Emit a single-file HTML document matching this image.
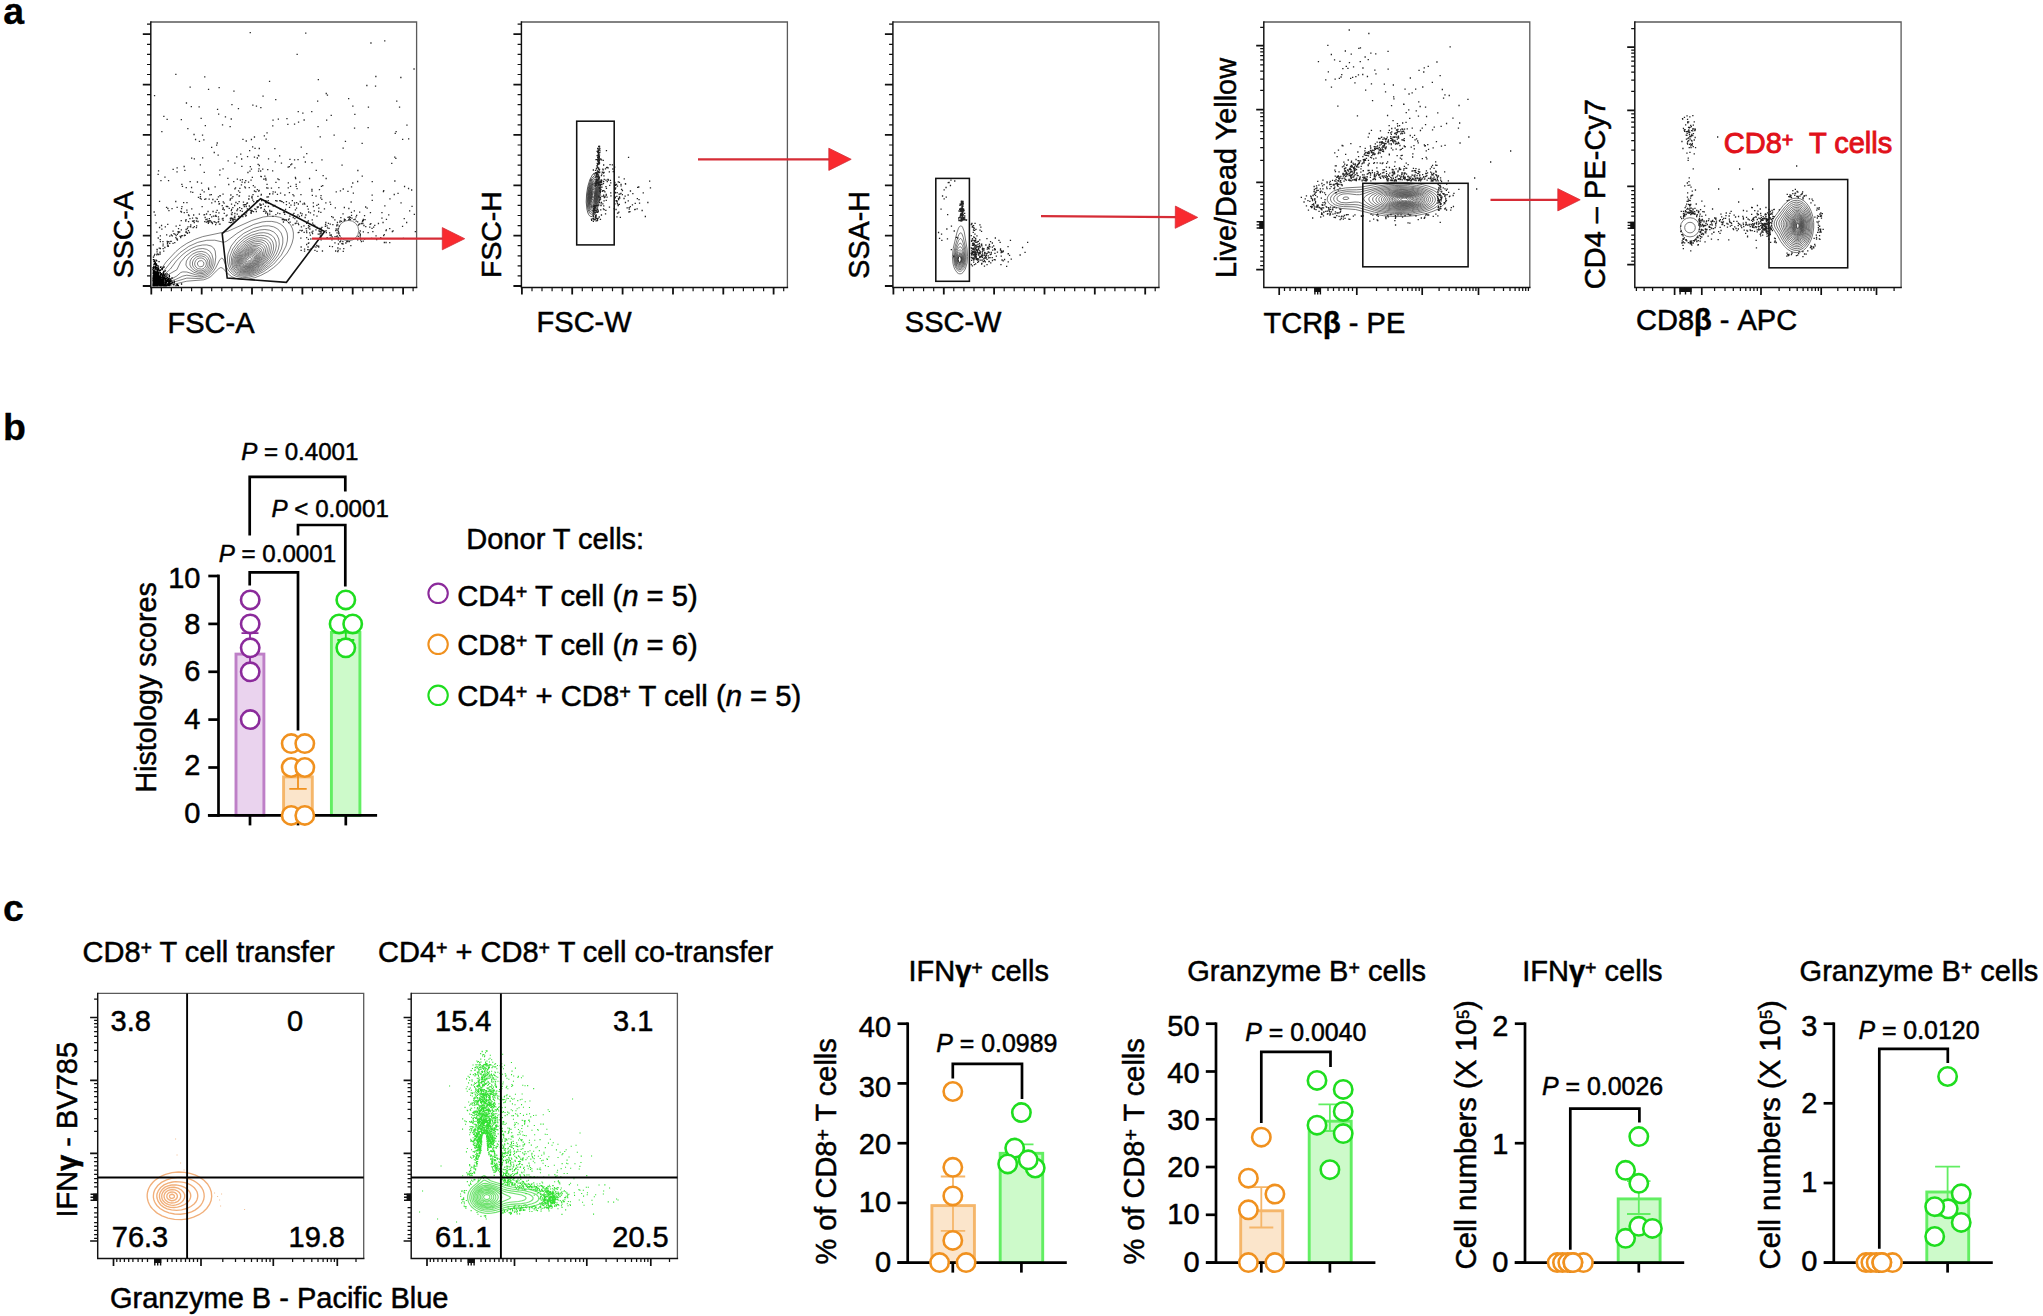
<!DOCTYPE html>
<html lang="en"><head><meta charset="utf-8"><title>Figure</title>
<style>html,body{margin:0;padding:0;background:#fff}svg{display:block}text{font-family:'Liberation Sans', sans-serif;white-space:pre}</style>
</head><body>
<svg width="2043" height="1316" viewBox="0 0 2043 1316">
<rect width="2043" height="1316" fill="#fff"/>
<text x="3.3" y="23.6" font-size="37.5" text-anchor="start" font-weight="bold" font-style="normal" fill="#000" stroke="#000" stroke-width="0.3">a</text>
<text x="3" y="439.8" font-size="37.5" text-anchor="start" font-weight="bold" font-style="normal" fill="#000" stroke="#000" stroke-width="0.3">b</text>
<text x="3" y="920.6" font-size="37.5" text-anchor="start" font-weight="bold" font-style="normal" fill="#000" stroke="#000" stroke-width="0.3">c</text>
<clipPath id="c1"><rect x="150.8" y="22" width="265.8" height="265.4"/></clipPath>
<g clip-path="url(#c1)">
<path d="M263.2 217L268.8 216.3L274.8 216.3L279.8 217.3L283.8 218.9L287.8 221.6L290.7 225L292.6 229L293.4 233L293.3 238L292.1 243L290 248L287.1 253L278.8 263L273.8 267.4L267.8 271.7L260.8 275.4L254.8 277.7L246.8 279.4L240.8 279.4L235.8 278.4L231.8 276.7L228.2 274L222.8 268.2L220.8 267.5L218.8 268.6L210.8 276.5L207.8 278.3L203.8 279.8L186.8 281.2L171.8 284.8L165.8 285.7L159.8 285.2L157.3 284L155.8 282.2L155.3 279L156.3 276L166.1 262L175.8 251.6L180.8 247.4L186.8 243.4L194.8 239.4L202.8 236.6L227.8 231.3L251.8 220.5L263.2 217M262 222L266.8 221.4L271.8 221.4L276.8 222.4L280.3 224L283 226L285.4 229L287.1 233L287.6 237L287.3 241L286 246L281.4 255L273.8 264L263.8 271.5L255.8 275.4L248.8 277.3L242.8 277.7L236.8 276.6L232.8 274.7L228.9 271L226.4 267L223.8 260.3L222.8 258.6L221.8 258.1L219.8 259.7L215.6 268L212.9 272L208.8 275.7L204.8 277.6L198.8 278.5L186.8 278.1L172.8 282.4L167.8 283.3L162.8 283L159.6 281L159 279L159.9 276L171.7 261L179.8 252.8L188.8 246.4L197.8 242.3L206.8 240.3L214.8 240.2L222.8 242.1L224.8 242L226.8 241.1L236.8 233.5L244.8 228.6L253.8 224.4L262 222M262.8 226L268.8 225.8L273.8 226.9L277.8 229L281.2 233L282.8 238L282.8 243L281.3 249L278.3 255L273.8 261L268.8 265.8L262.8 270.2L256.8 273.4L250.8 275.5L244.8 276.4L238.8 275.7L234.8 274L232.2 272L229.8 269L228.5 266L227.6 262L227.4 258L228 254L231.2 246L236.7 239L243.8 233.3L253.8 228.3L262.8 226M202.4 245L206.8 244.9L211.1 246L213.7 248L215.2 251L215.8 257L214.9 264L212.9 269L209.7 273L205.8 275.6L201.8 276.7L197.8 276.8L186.8 275.2L182.8 276.1L175.8 279.4L170.8 281L165.8 281.2L163.1 280L162.4 278L163.9 275L170.4 269L176.3 261L182.1 255L186.8 251.3L191.8 248.3L196.8 246.2L202.4 245M259.5 230L264.8 229.5L269.8 230.2L273.8 232L276.9 235L278.8 239L279.3 244L278.4 249L276.3 254L273 259L268.5 264L262.8 268.6L257.8 271.6L250.8 274.4L245.8 275.2L240.8 274.9L236.8 273.6L232.3 270L230.6 267L229.8 264L229.5 260L230 256L232.7 249L237.7 242L243.8 236.7L251.8 232.3L259.5 230M198.1 249L202.8 248.5L206.8 249.4L209.8 251.3L211.8 254.3L213.1 259L213 264L211.2 269L208.8 272L204.8 274.5L199.8 275.4L195.8 274.8L186.8 272L182.8 271.9L180.8 272.5L176.8 276L172.8 278.2L168.8 279L166.5 278L166.4 277L167.8 274.9L176.8 269.8L180.6 262L185.8 256L191.8 251.5L198.1 249M258.9 233L263.8 232.7L267.8 233.4L271.8 235.4L274.3 238L276 242L276.3 246L275.5 250L273.4 255L270.1 260L266.4 264L260.8 268.6L255.8 271.5L250.8 273.3L245.8 274.2L240.8 273.8L236.8 272.2L234.1 270L232.7 268L231.2 263L231.7 257L234.4 250L238.8 243.9L244.8 238.7L250.8 235.4L258.9 233M197 252L201.8 251.4L205.8 252.5L208.9 255L211 259L211.3 264L210.1 268L207.8 271L203.8 273.3L198.8 273.8L193.8 272.3L187.6 268L185.9 265L186.4 261L189.2 257L192.8 254L197 252M255.7 236L260.8 235.3L264.8 235.7L268.3 237L270.9 239L272.8 242L273.7 246L273.3 250L271.9 254L269.6 258L265.6 263L260.8 267.3L255.8 270.4L250.8 272.4L246.8 273.2L242.8 273.1L238.8 272L234.8 269L233.6 267L232.6 264L232.7 259L234.7 253L238.5 247L242.8 242.6L248.8 238.6L255.7 236M198.5 254L201.8 253.8L205.8 255.3L208.4 258L209.6 261L209.6 265L208.4 268L205.8 270.8L202.8 272.2L198.8 272.3L195 271L191.4 268L189.9 265L190.1 261L191.8 258L194.8 255.5L198.5 254M255.9 238L259.8 237.6L263.8 238.1L266.8 239.3L269.7 242L271.1 245L271.4 248L270.7 252L269.1 256L266.6 260L263.1 264L255.8 269.5L250.8 271.6L246.8 272.4L242.8 272.3L238.8 270.9L235.4 268L233.8 264L233.9 259L236.2 253L239.8 247.8L244.8 243.1L250.8 239.6L255.9 238M199.2 256L201.8 255.9L204.8 257.1L206.8 259L208 262L208 265L206.6 268L204.8 269.7L201.8 270.9L198.8 270.8L195.8 269.5L193.4 267L192.5 265L192.5 262L193.8 259.3L196.4 257L199.2 256M255.3 240L261.8 239.9L264.8 241L267.3 243L268.9 246L269.3 249L268.9 252L267.5 256L265.1 260L261.8 264L254.8 269.2L250.8 270.8L246.8 271.6L242.8 271.4L239.8 270.5L236.7 268L234.9 264L234.8 260L236.4 255L239.6 250L243.8 245.7L248.8 242.3L255.3 240M199.7 258L201.8 258L204 259L205.8 261L206.4 263L206.2 265L205.2 267L203.8 268.4L201.8 269.2L197.8 268.6L195.9 267L194.8 265L194.7 263L195.8 260.3L197.8 258.6L199.7 258M254.2 242L257.8 241.5L260.8 241.8L263.8 243.1L265.8 245L267.1 248L267.3 251L266.4 255L265 258L262.4 262L259.5 265L252.8 269.3L248.8 270.6L245.8 270.9L242.8 270.6L239.8 269.4L237.1 267L235.7 263L236 259L237.6 255L240.8 250.4L244.8 246.6L249.8 243.5L254.2 242M198.9 261L201.8 260.6L203.5 262L204 264L202.8 266.3L199.8 266.9L197.8 265.4L197.4 263L198.9 261M252.7 244L258.8 243.5L261.8 244.4L263.8 246L265 248L265.6 251L264.3 257L260.4 263L254.8 267.6L250.8 269.3L247.8 270L244.8 270.1L241.8 269.5L238.8 267.6L237.1 265L236.6 261L237.6 257L240 253L243.8 248.9L248.8 245.5L252.7 244M251 246L256.8 245.1L259.8 245.7L261.8 247L263.3 249L263.9 251L263.9 254L263.1 257L259.3 263L253.8 267.3L247.8 269.3L244.8 269.4L241.8 268.6L239.5 267L237.8 264L237.5 261L238.2 258L240.3 254L242.8 251.2L246.8 248.1L251 246M252.1 247L254.8 246.6L257.8 246.9L261.1 249L262.5 253L262.3 256L261.1 259L257.3 264L251.8 267.6L246.8 268.7L241.8 267.7L239.8 266L238.4 263L238.5 260L239.5 257L241.8 253.5L244.8 250.6L248.8 248.2L252.1 247M253.8 248L256.8 248.3L258.5 249L260.9 252L261.1 256L259 261L255.1 265L250.8 267.3L245.8 268L241.8 266.7L240.1 265L239.2 262L239.6 259L241 256L243.8 252.6L246.8 250.4L250.8 248.5L253.8 248M249.7 250L253.8 249.2L257.8 250.3L259.3 252L260 254L259.6 258L257.3 262L252.8 265.7L247.8 267.3L243.8 266.9L241.8 265.6L240.6 264L240 262L240.4 259L241.9 256L243.8 253.7L246.8 251.4L249.7 250M249.7 251L253.8 250.4L256.8 251.3L258.8 254L258.7 258L256.4 262L252.8 265L248.8 266.5L244.8 266.4L242.8 265.4L241.6 264L240.9 262L241.2 259L242.8 256L244.6 254L249.7 251M249.5 252L253.8 251.5L256.7 253L257.9 256L257.4 259L255.4 262L251.8 264.7L247.8 265.9L244.8 265.5L242.8 264.1L242.1 263L241.7 261L242.1 259L244.8 254.9L249.5 252M249.4 253L251.8 252.5L254.8 253.1L256.5 255L256.7 258L255.3 261L252.8 263.4L248.8 265L245.8 264.9L243.2 263L242.6 261L243 259L245.8 255.1L249.4 253M249.3 254L252.8 253.7L254.8 254.7L255.8 257L255.4 259L254.2 261L251.8 263.1L248.8 264.2L245.8 264L243.8 262L243.9 259L246 256L249.3 254M249.4 255L251.8 254.7L253.8 255.7L254.5 257L254.3 259L253.1 261L250.8 262.7L248.8 263.3L246.8 263.2L245.1 262L245 259L246.8 256.5L249.4 255M250 256L251.8 256.1L252.8 256.8L253.2 258L252.8 259.5L251.7 261L250 262L247.1 262L246.1 261L246.2 259L247.8 257L250 256M248.5 258L250.8 257.5L251.5 259L250.8 260.2L248.7 261L247.5 260L248.5 258" stroke="#555" stroke-width="0.75" fill="none"/>
<circle cx="348.5" cy="230.6" r="10.2" fill="none" stroke="#666" stroke-width="0.8"/>
<path d="M317 101.2h1.3M389.3 198.9h1.3M357 181.5h1.3M210.7 194.6h1.3M230.6 119h1.3M383 235.7h1.3M369.1 227.2h1.3M362.7 220.5h1.3M275.2 214.7h1.3M231.3 104.6h1.3M224.8 116.8h1.3M218.5 87.6h1.3M269.1 193.7h1.3M284.9 209.5h1.3M297.9 122.2h1.3M361.5 143.3h1.3M316.2 205.3h1.3M413.7 214.3h1.3M208 221.2h1.3M193.4 134.5h1.3M313.6 210.9h1.3M162.5 244.1h1.3M160.3 180.6h1.3M287.7 182.8h1.3M274.7 192.1h1.3M394.6 133.4h1.3M318 211.5h1.3M287.5 167.1h1.3M282.9 202.7h1.3M216.6 143h1.3M153.9 95.6h1.3M201.9 135.1h1.3M334.7 207.8h1.3M204.1 76.9h1.3M249 150.7h1.3M371.4 228.3h1.3M191.9 218.1h1.3M221.9 124.8h1.3M286.3 118.6h1.3M376 239.6h1.3M320.8 186.3h1.3M348 98.7h1.3M175.1 201.5h1.3M294.6 223.5h1.3M285.8 201.6h1.3M382.4 222.5h1.3M246.8 203h1.3M309.8 212.9h1.3M166.5 119.4h1.3M253.8 137h1.3M236.7 179.1h1.3M190.7 106.6h1.3M367.8 107.2h1.3M251.7 177.3h1.3M411 190h1.3M307.6 209.2h1.3M311.6 219.8h1.3M320.4 195.6h1.3M330.6 234.8h1.3M190.9 187.5h1.3M267.8 206.5h1.3M214.5 186.9h1.3M257.8 155.4h1.3M176.5 207.4h1.3M408 138.9h1.3M207.9 188.2h1.3M329.4 202.1h1.3M230.7 210.6h1.3M383.1 190.6h1.3M326.8 95.2h1.3M185.8 103h1.3M375.4 235.9h1.3M402 139.4h1.3M391.1 163.4h1.3M302.2 113.1h1.3M189.5 87.2h1.3M202 157.8h1.3M397.4 193.3h1.3M297.6 111.6h1.3M198.8 141.4h1.3M385.8 219.3h1.3M321.3 159.9h1.3M302.2 204.1h1.3M250.8 139.5h1.3M260 171h1.3M214.5 201.5h1.3M160.9 225.5h1.3M383.7 242.5h1.3M275.1 99.7h1.3M296.4 188.7h1.3M236.4 194.6h1.3M350.5 202h1.3M157.5 174.4h1.3M249.7 166.6h1.3M158.9 227.5h1.3M183.5 166.5h1.3M407.9 188.5h1.3M325.6 93.5h1.3M264.6 206.3h1.3M290 164.8h1.3M382.8 191.5h1.3M242.3 139.4h1.3M307.7 227.8h1.3M332.5 217.5h1.3M245.3 204.6h1.3M288.8 192.6h1.3M354.2 114.3h1.3M392.5 230.8h1.3M191 158.1h1.3M398.9 107.2h1.3M350.9 186.9h1.3M366.2 85.5h1.3M187.2 128.6h1.3M262.1 169.1h1.3M367.5 127.6h1.3M154.6 215.1h1.3M317.8 204.4h1.3M361.6 176.2h1.3M287.2 124.4h1.3M343.7 207.5h1.3M211 147.3h1.3M203.6 172.3h1.3M247.3 172.5h1.3M198.5 106.9h1.3M242.8 202.1h1.3M402.8 238.3h1.3M303.2 157.1h1.3M241.2 166.4h1.3M403.9 186.5h1.3M268.9 81.4h1.3M411.4 206.3h1.3M287.8 219.8h1.3M289.3 159.3h1.3M389.1 228.6h1.3M348.2 208.5h1.3M305.1 33.2h1.3M264.2 176.1h1.3M384.2 205.9h1.3M260.2 176.4h1.3M396.1 101.2h1.3M169.1 236.1h1.3M265.1 178.5h1.3M288.9 207.4h1.3M403.6 218.7h1.3M217.5 155.2h1.3M365 207h1.3M330.6 115.3h1.3M341.4 165.1h1.3M318.2 208.1h1.3M409 210.9h1.3M239.2 188.4h1.3M256.7 158h1.3M204.7 125.6h1.3M207.4 211.5h1.3M394.1 157.2h1.3M374.1 225.3h1.3M180.7 119.7h1.3M311.3 162.6h1.3M278.2 187.7h1.3M308.9 178.5h1.3M326 120.1h1.3M232.3 196.6h1.3M406.3 125.1h1.3M274.6 161.8h1.3M317.7 79.6h1.3M319.6 136.8h1.3M199.7 164.8h1.3M167.2 208.5h1.3M260.2 107.7h1.3M353.9 128.2h1.3M367.5 232.7h1.3M344.8 141.3h1.3M180.9 208.6h1.3M393.6 194.5h1.3M364 239.1h1.3M384.1 40.8h1.3M289.9 186.4h1.3M394.2 181h1.3M163.2 116.3h1.3M158.9 201.4h1.3M156.2 232.2h1.3M218 201.7h1.3M216.9 109.4h1.3M200.6 199.1h1.3M301.5 213.9h1.3M161.2 131.6h1.3M307.7 220.8h1.3M194.9 139.5h1.3M331 216.7h1.3M156.4 251.8h1.3M233.3 91.2h1.3M400.2 77.5h1.3M293.9 124.1h1.3M366.5 208.2h1.3M325.7 232.5h1.3M313.1 214.9h1.3M201.6 190.2h1.3M303.5 120h1.3M363.9 215.7h1.3M406 222.5h1.3M377.8 223.5h1.3M164.3 177.1h1.3M240.8 184.8h1.3M235.3 202.5h1.3M180.8 212h1.3M317.4 126.6h1.3M362.8 219.5h1.3M234.2 163.2h1.3M380.1 237.6h1.3M362.7 231.8h1.3M185.1 221h1.3M385.4 230.7h1.3M203.2 139.8h1.3M303.3 225.8h1.3M320.6 228.5h1.3M312.8 206.5h1.3M176.4 171.9h1.3M326.5 237.7h1.3M318.8 189.6h1.3M369.8 212.6h1.3M364.4 219.6h1.3M237.8 108.7h1.3M381.3 212.6h1.3M388.1 214.9h1.3M193.7 158.8h1.3M157.9 170.9h1.3M323.8 208.8h1.3M207.9 89.3h1.3M300.6 147.2h1.3M401.9 226.4h1.3M251.6 211h1.3M218 114.2h1.3M272.1 125.8h1.3M325.5 178.5h1.3M177.7 232.9h1.3M252 146.8h1.3M186.3 202.6h1.3M326.9 227.8h1.3M371.6 181.7h1.3M251 210.8h1.3M249.6 32.7h1.3M294.2 167.9h1.3M208 189.3h1.3M216.6 199.3h1.3M238.5 196.1h1.3M272.4 120.1h1.3M172.5 169.3h1.3M350.9 215.3h1.3M304.7 162h1.3M230.5 218h1.3M171.4 208.6h1.3M353.7 210.9h1.3M185.6 187.7h1.3M186.2 210.2h1.3M185.5 229.5h1.3M172.4 231.2h1.3M391.7 231.5h1.3M222.4 168.8h1.3M232.2 207.7h1.3M372.2 231.6h1.3M315.6 170.3h1.3M200.5 118.3h1.3M266.4 132.9h1.3M385.7 229.8h1.3M250.6 212h1.3M339.8 190.9h1.3M176.5 167.8h1.3M357.2 170.5h1.3M370.3 43h1.3M330 204.4h1.3M249.3 171.2h1.3M167.9 180.6h1.3M288.7 166.6h1.3M352.1 183h1.3M201.5 206.6h1.3M221.6 205.6h1.3M293.3 213.4h1.3M349.7 219.6h1.3M389.1 242.6h1.3M184.2 170.3h1.3M199.8 196.6h1.3M363.3 225.5h1.3M322.1 185.7h1.3M342.4 213.9h1.3M400.4 202.9h1.3M374.9 86.1h1.3M255.8 106.1h1.3M321.2 199.4h1.3M199.8 194.4h1.3M352.7 193.1h1.3M352.2 106.1h1.3M342.5 148.1h1.3M269 194.1h1.3M262.4 96.2h1.3M159.7 248.5h1.3M375.2 76.5h1.3M295 178.6h1.3M253.8 191h1.3M296.5 54.4h1.3M342.6 189h1.3M252.2 105.1h1.3M371.6 200.3h1.3M395.2 158.3h1.3M253.8 157.1h1.3M187.4 226.9h1.3M414.7 231.7h1.3M190.1 191.9h1.3M340.2 217.7h1.3M370.2 223.7h1.3M395.5 131.6h1.3M183.6 212.7h1.3M175.2 74.3h1.3M413.4 69h1.3M181.8 186.3h1.3M197.8 197.4h1.3M265.5 139.2h1.3M245.1 216.2h1.3M306 223.3h1.3M231.6 218.5h1.3M240.9 215.4h1.3M320.1 197.8h1.3M369.5 224.4h1.3M265 213.2h1.3M272.5 191.9h1.3M335.6 191.8h1.3M256 201.4h1.3M215.1 215.3h1.3M267.6 200.7h1.3M283.7 212.6h1.3M222.2 209.4h1.3M183 202.6h1.3M193 215h1.3M293.9 216h1.3M225.6 215.8h1.3M255.2 209.3h1.3M272.2 193.9h1.3M291.7 200.7h1.3M245.9 212.9h1.3M285.9 212.4h1.3M219.3 195.7h1.3M244.6 204.7h1.3M212.8 216.2h1.3M316.3 216.1h1.3M260.7 176.7h1.3M226.5 206.5h1.3M245.1 180.7h1.3M251.4 196.3h1.3M295.6 186.4h1.3M185.4 219.7h1.3M212.2 199.5h1.3M243.9 204.6h1.3M383.6 234.6h1.3M307.9 225.7h1.3M256.7 189.6h1.3M296.2 221.2h1.3M360.8 241.7h1.3M250.8 169.2h1.3M244.4 214.7h1.3M320.2 212.4h1.3M285.7 220.3h1.3M294.2 218.7h1.3M237.6 218.9h1.3M344.1 220.4h1.3M289.2 216.1h1.3M294.8 177.5h1.3M164.7 226.8h1.3M292.6 217.5h1.3M252.7 185.6h1.3M282.8 222h1.3M294.8 209.8h1.3M245.6 206.5h1.3M180.9 235.8h1.3M279.7 208.6h1.3M226.4 215.1h1.3M246.2 203.4h1.3M233 219.5h1.3M245.6 141h1.3M320.4 232.1h1.3M274.2 148.6h1.3M315.3 229.9h1.3M357 239.9h1.3M263.1 179.2h1.3M175.5 226.2h1.3M219.1 174.9h1.3M204.1 199.4h1.3M237.9 190.9h1.3M265.8 211.8h1.3M165.9 207.3h1.3M278.4 179.6h1.3M189.5 181.7h1.3M276.3 201h1.3M256.7 207.5h1.3M246.9 156.7h1.3M258.5 190.5h1.3M236.1 156.9h1.3M232.6 221.1h1.3M181.2 184.3h1.3M260.6 205h1.3M325.4 230.6h1.3M295.9 208.2h1.3M229.5 126.6h1.3M331.3 239.9h1.3M259.3 204h1.3M258.7 148.3h1.3M248 198.8h1.3M266.4 184.3h1.3M241.1 208.7h1.3M258 191.2h1.3M209.9 220.9h1.3M244.1 186.8h1.3M371.5 195.2h1.3M258.7 165.5h1.3M250.5 213.4h1.3M287.6 187.9h1.3M296 202.7h1.3M208.5 199.1h1.3M252.1 200.2h1.3M306.1 153.6h1.3M275 200.6h1.3M267.9 158.8h1.3M336.6 230.2h1.3M229.5 200.1h1.3M266 187.9h1.3M237 203.7h1.3M333.5 135.2h1.3M168.3 210.6h1.3M229.8 198.8h1.3M236.6 214.1h1.3M293.8 205.1h1.3M291.1 164h1.3M329 232.8h1.3M186.4 212.4h1.3M298 224.6h1.3M247.9 182.1h1.3M230 222.7h1.3M287.9 222.7h1.3M217.8 196.9h1.3M162.3 241.7h1.3M244.2 182.5h1.3M190.1 225h1.3M230.9 204.2h1.3M279.8 200.9h1.3M277 213.2h1.3M338.2 233.5h1.3M252.4 194.7h1.3M188.4 215.7h1.3M225.7 206.4h1.3M217.9 219.1h1.3M203.5 191.9h1.3M282.9 219.7h1.3M231 209.4h1.3M167.1 224.3h1.3M295.5 184.3h1.3M256.7 206.8h1.3M279.1 200.6h1.3M267.1 169.6h1.3M292.3 194.6h1.3M263.8 209.3h1.3M321.3 227.3h1.3M282.4 219.3h1.3M280.8 201.3h1.3M281.7 219.6h1.3M192.1 192.4h1.3M254.1 208.8h1.3M249.6 210.4h1.3M272 170.8h1.3M196.8 182h1.3M267 215h1.3M203.9 214.7h1.3M180 237.6h1.3M248.5 196.2h1.3M257.7 207h1.3M227.5 160.9h1.3M266.4 197h1.3M231.2 214.6h1.3M288.5 218.8h1.3M227.2 178.4h1.3M260.2 208h1.3M309 226.7h1.3M385.4 242.5h1.3M213.6 152.5h1.3M239.7 210.6h1.3M221.7 218.9h1.3M299.6 201.5h1.3M206.9 221.2h1.3M238.8 195.8h1.3M260.6 207.7h1.3M215 224.6h1.3M216 145.2h1.3M239.2 192.4h1.3M161.2 229.2h1.3M192.6 221.3h1.3M242.2 216.6h1.3M269.1 214.2h1.3M253.1 201.6h1.3M176.8 240.1h1.3M239.7 180.2h1.3M300.3 194.6h1.3M288.7 203.1h1.3M258.2 155.8h1.3M219.4 224.1h1.3M292.3 224.8h1.3M234.2 188.8h1.3M205.9 214h1.3M223.5 203.1h1.3M331.5 237h1.3M272.6 206h1.3M317.6 234.2h1.3M239 207.6h1.3M307 222.1h1.3M233.1 181.6h1.3M254.4 148.4h1.3M381.3 218.1h1.3M298.8 216.5h1.3M237.9 216.5h1.3M257.9 171.1h1.3M277.7 119.1h1.3M320.1 237.6h1.3M238.5 201.7h1.3M178.4 232h1.3M248.6 187.7h1.3M262.7 204.2h1.3M267.3 188.1h1.3M325.2 202.8h1.3M277.2 178.8h1.3M301 215.7h1.3M209.1 220.6h1.3M303.7 203.2h1.3M362.6 241.2h1.3M299.1 182.2h1.3M274.2 205.3h1.3M269.4 211.5h1.3M217.5 222h1.3M256.7 200.6h1.3M284.1 214.3h1.3M297.7 204h1.3M241 159h1.3M276.8 194.4h1.3M248.7 206h1.3M267.8 196.9h1.3M255.7 211.5h1.3M207.2 221.8h1.3M261 200.6h1.3M304.1 204.2h1.3M215.6 216.4h1.3M250.4 180.2h1.3M293.9 159.9h1.3M210.6 222h1.3M270.8 188.1h1.3M211.1 202.8h1.3M316.5 227.5h1.3M373 227.1h1.3M359.1 223.9h1.3M251.5 198.1h1.3M297.5 223.4h1.3M267.8 203.3h1.3M266.9 213.5h1.3M336.3 225h1.3M198.7 214.2h1.3M312.7 202.9h1.3M259.6 205.4h1.3M329.6 224.2h1.3M271 211.3h1.3M229.7 218.5h1.3M275.3 182.4h1.3M297.3 214.8h1.3M263.7 135.8h1.3M285.4 219.7h1.3M237 209h1.3M159.6 239.6h1.3M305.2 215h1.3M295.6 223.2h1.3M269.1 210.5h1.3M265.3 180h1.3M311.7 195.3h1.3M240.1 154.2h1.3M228.1 184.5h1.3M252.9 211.7h1.3M319.1 228.5h1.3M195.4 217.9h1.3M319.2 234h1.3M231.3 198.2h1.3M209.2 194.8h1.3M322.5 175.7h1.3M257.3 196.4h1.3M199.6 198.4h1.3M244.8 187.9h1.3M306.7 206.3h1.3M319.2 231.7h1.3M241.5 182.2h1.3M281.5 201.6h1.3M296.3 216.4h1.3M231.1 222.3h1.3M279 155.9h1.3M260.5 195.1h1.3M236.3 210.5h1.3M238.4 216.3h1.3M265.2 200.7h1.3M263.4 179.1h1.3M234.9 187.9h1.3M241.6 211.3h1.3M315.4 196.2h1.3M272.3 216.4h1.3M304.5 217.5h1.3M319.7 235.9h1.3M290.3 205.2h1.3M371 238.4h1.3M222.4 218.5h1.3M300.8 226.9h1.3M246.7 208.8h1.3M343.6 220.8h1.3M168.2 241.6h1.3M215.5 212.4h1.3M293.9 203h1.3M299.9 213h1.3M297.4 159.7h1.3M258.6 148.5h1.3M283.8 220h1.3M293.3 195.9h1.3M258.3 168.8h1.3M311.3 191.2h1.3M153.5 212h1.3M292.4 214.4h1.3M212.4 211.5h1.3M308 225.8h1.3M251 210.3h1.3M219.3 170.1h1.3M279.9 193.1h1.3M218.3 212.8h1.3M218.2 219.2h1.3M186.8 233.3h1.3M260.7 194.3h1.3M285.8 204.7h1.3M311.1 111.6h1.3M255.2 191.6h1.3M312.3 231.1h1.3M262.9 211.4h1.3M257.5 164.3h1.3M289.5 222.1h1.3M312.8 225h1.3M245.6 215.3h1.3M250.3 212.5h1.3M254.3 187.1h1.3M266 202.8h1.3M218.8 203.7h1.3M311.3 189.5h1.3M242.8 204.9h1.3M284.2 195h1.3M222.4 194.2h1.3M279.2 213.6h1.3M280.8 163.2h1.3M241.8 179.6h1.3M359 212.1h1.3M279.8 209.1h1.3M347.3 191.3h1.3M308 212h1.3M230.2 195h1.3M243.7 206.5h1.3M282.9 212.1h1.3M264.9 202.7h1.3M264.4 211h1.3M248.3 199h1.3M175.2 237.6h1.3M251.2 197.3h1.3M155.5 222.8h1.3M279.8 209.3h1.3M227.1 206.6h1.3M233.7 217.5h1.3M169.1 243.4h1.3M193.6 222.5h1.3M158.6 248.2h1.3M183.9 235.1h1.3M230.8 214.1h1.3M158 254.5h1.3M214.6 216.2h1.3M223.7 209.9h1.3M193.7 226.6h1.3M218 221.5h1.3M187.9 215h1.3M180.6 220.6h1.3M193.4 220.7h1.3M167.2 245.6h1.3M176.7 234.4h1.3M176.5 239h1.3M234 205.5h1.3M179 232h1.3M170.1 241.4h1.3M229.9 220.3h1.3M162.5 248.7h1.3M232.1 220h1.3M222.6 201.9h1.3M205.3 219.7h1.3M186.8 228.5h1.3M167.4 245.4h1.3M159.7 235.8h1.3M159.5 254.1h1.3M180.2 211.4h1.3M185.1 232.1h1.3M228.6 222.3h1.3M196 225.8h1.3M234.2 217.6h1.3M211.5 222.7h1.3M163.1 251.2h1.3M197.4 221.5h1.3M164.2 247.5h1.3M154.1 254.3h1.3M230.3 218.9h1.3M179.2 225.4h1.3M166.8 243.9h1.3M159.4 252.6h1.3M205.7 222.2h1.3M189.6 226.7h1.3M211 216.8h1.3M172.4 243.3h1.3M216.5 210.3h1.3M191.9 221.2h1.3M195.9 221h1.3M189.3 218.7h1.3M207.7 223.4h1.3M234.2 216.1h1.3M218 221.4h1.3M156.6 253.8h1.3M192.5 227.6h1.3M170.5 241.4h1.3M159.4 252.1h1.3M167.2 241.8h1.3M171.7 235.9h1.3M231.6 212.7h1.3M213.5 221.6h1.3M222.6 208h1.3M209.6 214.6h1.3M177.4 231.6h1.3M183.7 235.6h1.3M187.9 221.7h1.3M175.5 235.7h1.3M186.3 232.7h1.3M215.7 222.9h1.3M157.2 254.1h1.3M174.1 242.6h1.3M191.1 208.8h1.3M207.7 220.8h1.3M205.2 198.8h1.3M211.8 223.7h1.3M159.7 241.6h1.3M166 234.9h1.3M176.8 239.9h1.3M174.5 234.4h1.3M214.4 222.2h1.3M234.4 219.5h1.3M208.3 222h1.3M153.6 255.7h1.3M175.9 238.8h1.3M218.4 204.1h1.3M228.6 208.3h1.3M200.9 183.2h1.3M180.2 236.7h1.3M180.7 229.9h1.3M204.1 221.6h1.3M223.6 213.3h1.3M179.5 236.4h1.3M166.9 243.2h1.3M162.4 245.8h1.3M222.5 220.3h1.3M203.4 214.9h1.3M234.2 213.5h1.3M156.6 249.9h1.3M181.6 235.6h1.3M217.8 216.8h1.3M206.5 219.1h1.3M156.4 249.5h1.3M184.6 235.3h1.3M204.5 217.5h1.3M208.7 218.7h1.3M188.8 232.5h1.3M166.6 241.5h1.3M232.1 218.6h1.3M190.1 226.8h1.3M211.2 222.3h1.3M195.8 227.6h1.3M157.6 238h1.3M170.7 235h1.3M156.1 254.8h1.3M166.9 246.1h1.3M167.7 246.4h1.3M185.7 232h1.3M177.9 228.7h1.3M181.3 206.7h1.3M219.6 195.8h1.3M152.6 244.8h1.3M159.5 254.1h1.3M218.8 224.1h1.3M195.8 220.9h1.3M187.8 230.7h1.3M173.3 233.7h1.3M196.5 218.5h1.3M337.2 248h1.3M309.2 229h1.3M310.2 239h1.3M307.1 249.6h1.3M298.3 232.3h1.3M316.4 227.9h1.3M327.8 223.3h1.3M303.5 232.3h1.3M337.1 251.7h1.3M305.6 228.6h1.3M330.5 235.7h1.3M303.9 251.2h1.3M339.2 222.2h1.3M305.9 230.9h1.3M331.8 246.6h1.3M337.1 224.9h1.3M308.5 249.8h1.3M300.5 247h1.3M324.7 226.3h1.3M320.5 239.8h1.3M319.5 238.7h1.3M334.3 242.8h1.3M318.7 231.2h1.3M320.4 233.5h1.3M319.9 229.2h1.3M318.3 230.8h1.3M315.9 227.3h1.3M303.9 249.1h1.3M310.5 248.6h1.3M309 232.8h1.3M308.2 242.8h1.3M334.4 236.7h1.3M301.6 230.4h1.3M306.1 232.5h1.3M321.8 251h1.3M311.3 232.2h1.3M307.8 239.4h1.3M314.3 250.4h1.3M320.6 230.9h1.3M329 246.3h1.3M337.8 244h1.3M317.1 246.2h1.3M318.1 247.1h1.3M316.4 251.3h1.3M307.7 243.3h1.3M342.6 251.3h1.3M299.4 230.4h1.3M306 237.6h1.3M328.4 228.4h1.3M324.9 224.5h1.3M309.7 235.2h1.3M341.9 243.6h1.3M316.1 245.4h1.3M325.2 222.5h1.3M300.5 250.3h1.3M301 230.8h1.3M315.3 247h1.3M339.4 248.8h1.3M342.3 244.1h1.3M336.6 235.9h1.3M307.4 247h1.3M297.6 232.7h1.3M318.1 246.2h1.3M311.9 233.5h1.3M306 244.5h1.3M320.5 231.9h1.3M340.1 240.2h1.3M329.7 238.1h1.3M314.1 225.3h1.3M337.2 251.7h1.3M335 251h1.3M312 223.1h1.3M337.5 250.3h1.3M326.4 225.8h1.3M313.2 246.6h1.3M342.2 243.4h1.3M313 246.8h1.3M300.2 238.1h1.3M359.7 234.2h1.3M356 215.3h1.3M344.5 219.7h1.3M358.3 224.4h1.3M347.1 241.7h1.3M351.3 218.2h1.3M357 221.9h1.3M339.9 241.7h1.3M337.6 237.5h1.3M342.2 241.4h1.3M359.6 231h1.3M350.2 245.6h1.3M341.2 243.7h1.3M360.1 240h1.3M349.8 217.5h1.3M336.1 236.7h1.3M338.7 226.1h1.3M346.1 241.5h1.3M339.1 241.9h1.3M348.7 219h1.3M336.4 232.9h1.3M336.8 222.5h1.3M339 235.6h1.3M336.1 225.9h1.3M362 220.5h1.3M347.3 241.2h1.3M335.5 229h1.3M343.7 219.1h1.3M359.5 237.2h1.3M365.1 226.6h1.3M335.1 230.7h1.3M348.8 241.6h1.3M349.4 217.5h1.3M353.3 219.7h1.3M339.5 220.9h1.3M357.8 225.2h1.3M357.6 236.3h1.3M337.5 228.7h1.3M348 219.9h1.3M360.8 223.5h1.3M340.9 221.3h1.3M334.2 219.9h1.3M337.7 239.8h1.3M336.8 224.9h1.3M332.2 224.7h1.3M361.8 221.6h1.3M354.6 219.1h1.3M347.4 217.4h1.3M362.2 223.5h1.3M359.6 235.5h1.3M350.8 212.4h1.3M329.3 235.1h1.3M348.7 216.9h1.3M343.1 248.7h1.3M338.1 232.8h1.3M355.4 216.9h1.3M358.9 232.9h1.3M345.2 243h1.3M337.8 231.4h1.3M355.5 221.2h1.3" stroke="#2a2a2a" stroke-width="1.3" fill="none" opacity="1.0"/>
<path d="M153 280.7h1.3M157.2 284.1h1.3M154.1 284.2h1.3M157.6 278.4h1.3M157.2 282.4h1.3M162.1 276.3h1.3M152.8 273.2h1.3M154.7 284.7h1.3M157.4 276.4h1.3M154.4 283.3h1.3M154.6 263.6h1.3M160.8 285.5h1.3M159.1 281.3h1.3M152.8 285.8h1.3M152.5 280.5h1.3M171.3 283.3h1.3M156.5 281.5h1.3M154.7 284.8h1.3M154.7 284.8h1.3M158.4 278.1h1.3M166.7 284.2h1.3M159.7 283h1.3M162.2 274.9h1.3M160.2 285.7h1.3M158.7 277.9h1.3M154.8 283.2h1.3M168.3 283.1h1.3M152.4 275.8h1.3M164.4 285.3h1.3M159.2 285h1.3M152.4 280.2h1.3M153.6 267h1.3M169.1 284.6h1.3M162.8 282h1.3M156.2 285.8h1.3M168.5 281.5h1.3M159.4 282.8h1.3M163.3 274.2h1.3M152.7 272.7h1.3M167.8 279.5h1.3M155.4 279.6h1.3M160.7 283.3h1.3M155.9 281.7h1.3M157.8 280.6h1.3M155.3 265.9h1.3M160.5 274.1h1.3M154.3 284.8h1.3M159.2 282.3h1.3M154.6 285.5h1.3M154.6 268.8h1.3M154.5 285.7h1.3M152.8 282.1h1.3M155.7 278.2h1.3M158.9 284.6h1.3M155.7 282h1.3M157.8 281.7h1.3M152.4 284.8h1.3M161.9 280.7h1.3M155 282h1.3M154.7 279.4h1.3M166.6 277.4h1.3M153.9 283.3h1.3M154.8 281.5h1.3M152.5 282.6h1.3M156.8 277.4h1.3M152.4 284.2h1.3M162.7 280h1.3M164.1 285.3h1.3M152.4 276.1h1.3M164.4 277.3h1.3M154.3 269.5h1.3M159.7 280h1.3M160.9 285.4h1.3M159.1 279.8h1.3M152.7 281.1h1.3M152.9 281.6h1.3M155 266.7h1.3M162.1 279.2h1.3M157.7 282.3h1.3M156.7 280.9h1.3M169.8 281.4h1.3M164.9 285.7h1.3M155.1 281.1h1.3M154 263.4h1.3M159.1 270.3h1.3M154.1 281.4h1.3M152.4 267.7h1.3M153.1 281.2h1.3M154.2 278.5h1.3M161.6 279.8h1.3M158.5 284.4h1.3M153.3 264.7h1.3M154.6 277.7h1.3M158.2 270.2h1.3M161.6 284.5h1.3M155.6 274.5h1.3M157.5 284.7h1.3M158.7 285h1.3M160.9 283.2h1.3M154.9 284.7h1.3M152.8 283.4h1.3M157.9 269.7h1.3M154.3 273.9h1.3M162.2 277.1h1.3M155.4 280.1h1.3M154.9 283.7h1.3M158.4 277.4h1.3M158.4 278.8h1.3M156.6 270.4h1.3M160.2 283.7h1.3M158.7 277.2h1.3M162.2 267.9h1.3M167.9 278.6h1.3M158.8 280.6h1.3M159.3 276.9h1.3M168.1 285.3h1.3M154.8 285.6h1.3M152.7 281.3h1.3M156.7 285.8h1.3M160.1 284.1h1.3M163 284.3h1.3M153.3 259.7h1.3M166 278.6h1.3M159.6 281.3h1.3M157.8 275h1.3M157.2 279h1.3M153.8 260.9h1.3M152.7 284.5h1.3M161.7 275.5h1.3M165.7 285.3h1.3M159.6 285.8h1.3M152.6 273.9h1.3M176.9 285.3h1.3M158.1 282.5h1.3M167.1 283.8h1.3M152.6 283.9h1.3M154.3 271.3h1.3M167.5 281.5h1.3M164.7 283.4h1.3M160.9 281.9h1.3M170.3 283.4h1.3M166.8 284.3h1.3M155.2 276.7h1.3M161.7 279.4h1.3M160.6 281.3h1.3M154.7 273.2h1.3M159.7 285.4h1.3M153.4 280.8h1.3M155.2 265.5h1.3M156.4 284h1.3M153.8 285.8h1.3M159.5 284.7h1.3M153.2 275.6h1.3M154.2 285.4h1.3M160.5 285.4h1.3M152.4 285.8h1.3M157.3 285.4h1.3M156.3 278.5h1.3M152.5 280.2h1.3M154.2 285.7h1.3M153.5 284.5h1.3M159.9 280h1.3M154.3 284.8h1.3M167.5 280.1h1.3M154.5 284.1h1.3M152.7 272.7h1.3M167.8 281.7h1.3M168.6 276.4h1.3M153.9 279.2h1.3M153.2 283.7h1.3M165.3 282.6h1.3M155.5 276.7h1.3M157.9 283.2h1.3M156.3 273.3h1.3M156.8 273.5h1.3M156.7 280.9h1.3M154.2 281.5h1.3M153 278.4h1.3M152.4 285h1.3M162.8 285.3h1.3M165.5 280.4h1.3M155.3 283.4h1.3M157.1 280.8h1.3M160.6 282.8h1.3M160.3 284.9h1.3M156.6 283.7h1.3M155.1 284.7h1.3M165.8 285.3h1.3M155.8 282.6h1.3M154.8 282.9h1.3M158.4 282.1h1.3M170 284.9h1.3M156.2 274.4h1.3M154.2 283.2h1.3M161.4 277.9h1.3M153 273.2h1.3M156.8 265.9h1.3M153.1 266.3h1.3M155.5 284.5h1.3M154.2 283.7h1.3M153.2 282.2h1.3M158.2 273.3h1.3M156.3 279.9h1.3M153.3 261.5h1.3M157.4 267.8h1.3M165.6 275.9h1.3M154.8 284.3h1.3M162.3 283.2h1.3M162.6 278.8h1.3M159.5 278.5h1.3M152.9 280.4h1.3M153.7 280.4h1.3M159.9 285h1.3M159.6 279.2h1.3M161.1 285.8h1.3M152.3 278.2h1.3M156 265h1.3M154.9 284.6h1.3M154.9 276.8h1.3M158.5 280.3h1.3M168 283.5h1.3M155.1 278h1.3M159 285h1.3M153.2 280.6h1.3M154.2 267.9h1.3M153.4 282.8h1.3M160.3 280.8h1.3M160.3 280h1.3M160.8 285.8h1.3M164.5 282.5h1.3M153.6 275.2h1.3M154.2 282.1h1.3M160.9 285.4h1.3M153.5 274.5h1.3M154.1 276.7h1.3M161 281.4h1.3M160.3 279.1h1.3M153.5 280.7h1.3M152.5 273.4h1.3M159.1 276.6h1.3M154.2 285.9h1.3M159.9 278.4h1.3M154.3 284.4h1.3M156.8 281.9h1.3M152.9 279.6h1.3M154.2 274.8h1.3M168.1 282.3h1.3M157.6 272.4h1.3M160.3 266.9h1.3M157.3 282.6h1.3M157.8 275.9h1.3M154.5 284.9h1.3M157.4 285.9h1.3M152.6 270.7h1.3M152.4 279.8h1.3M161.1 282.1h1.3M158.4 282.5h1.3M159.1 285.5h1.3M154.2 273.2h1.3M157.1 284.2h1.3M154.1 282.7h1.3M165 279.7h1.3M156.4 285.4h1.3M158.1 274.9h1.3M158.2 283.4h1.3M155.4 281.4h1.3M157.1 271h1.3M154.1 278.8h1.3M162.1 285.6h1.3M152.5 283.2h1.3M152.3 285.1h1.3M160.3 285.7h1.3M155.3 281.6h1.3M168.8 283.4h1.3M161.8 277h1.3M163.6 281.9h1.3M169.5 284.9h1.3M154.6 264.2h1.3M163 284.6h1.3M169.6 279.1h1.3M152.6 284.8h1.3M153 281.4h1.3M153.4 281.9h1.3M156.1 285.9h1.3M155.4 268.2h1.3M163.2 271.7h1.3M153.5 283.1h1.3M154.6 281.5h1.3M158.2 272.5h1.3M155 266.6h1.3M155 280.8h1.3M154.4 275.8h1.3M154.9 276h1.3M159.9 267.3h1.3M168.1 282.3h1.3M166.8 277.3h1.3M153.6 275.4h1.3M154.7 262.4h1.3M159.3 283.6h1.3M162 280.6h1.3M157 270.1h1.3M153.4 280.8h1.3M152.4 277.9h1.3M153 284h1.3M158.8 283h1.3M160.2 285.4h1.3M156.2 269.2h1.3M173.2 284.8h1.3M154.2 282.2h1.3M155.7 282.3h1.3M157.5 283.3h1.3M164.3 285.6h1.3M161.7 282.1h1.3M169.1 282.6h1.3M156.6 284.6h1.3M155.3 283.1h1.3M155.2 280.7h1.3M154.7 282.1h1.3M152.8 272.4h1.3M157.3 272.6h1.3M156.6 279.4h1.3M160.3 282.2h1.3M156.1 260.9h1.3M159.7 270.7h1.3M154 271h1.3M158.4 284.2h1.3M162.8 283.8h1.3M168.7 275.5h1.3M155.3 275.9h1.3M158.9 284.8h1.3M155.2 278.6h1.3M158.5 276.5h1.3M161.5 284.8h1.3M157.8 266.2h1.3M161.3 268.8h1.3M180.9 284h1.3M154.4 281.4h1.3M164.7 282.9h1.3M155.3 285.5h1.3M154.1 282h1.3M156.9 284.7h1.3M159.7 277h1.3M152.9 282h1.3M153.9 275.8h1.3M152.7 282.9h1.3M161.4 280.7h1.3M154.4 272.6h1.3M161 281.8h1.3M155.5 281.7h1.3M153.7 284.5h1.3M166.3 285.5h1.3M154 271.7h1.3M154.9 267.8h1.3M160.8 277.8h1.3M154.5 269.4h1.3M156.1 280.3h1.3M168.1 284.7h1.3M153.6 281.4h1.3M155.4 284.1h1.3M164.8 270.9h1.3M160.9 281h1.3M167.2 281.7h1.3M154.7 275.2h1.3M163.4 271.4h1.3M161.2 268.8h1.3M160.6 280.2h1.3M163.2 278.7h1.3M158.7 285.2h1.3M160.5 284.8h1.3M153.5 281.3h1.3M159.3 276.5h1.3M156.1 272h1.3M153.9 282.1h1.3M167.1 285.1h1.3M154.1 285.9h1.3M160.1 274.9h1.3M159.8 277h1.3M155.4 260.2h1.3M153 283.8h1.3M159.1 285.4h1.3M153.3 275.5h1.3M158.4 261.7h1.3M157.5 284.7h1.3M152.9 278.2h1.3M152.6 284.9h1.3M157.1 284.8h1.3M166.1 281.5h1.3M159.1 285.3h1.3M164.9 282.9h1.3M157.7 279.5h1.3M157.2 274h1.3M153.2 266.5h1.3M163.5 285.8h1.3M155.5 283.5h1.3M153 272.7h1.3M153.1 274.5h1.3M152.8 282.6h1.3M169.1 280.5h1.3M157 284.8h1.3M156.4 274h1.3M156.7 280.2h1.3M156.4 284.8h1.3M152.9 279.9h1.3M157 285.2h1.3M162.4 276.4h1.3M159.8 279.4h1.3M155 278.2h1.3M152.4 283.9h1.3M156.2 267.7h1.3M162.9 282.8h1.3M159.6 280.9h1.3M164.4 285.8h1.3M165.3 281.7h1.3M154.2 261.7h1.3M159.9 284.8h1.3M155.9 285.6h1.3M155.9 285.4h1.3M155 281.8h1.3M168 281.2h1.3M155.8 264h1.3M161.9 284h1.3M152.8 285.2h1.3M156.8 280h1.3M173.5 282.4h1.3M157 281h1.3M153.7 283.7h1.3M162.9 285.9h1.3M152.8 284.5h1.3M163.7 285h1.3M153.6 282.2h1.3M154 285.1h1.3M157.6 275.8h1.3M158.6 284.6h1.3M153.7 284.1h1.3M154.6 276.3h1.3M152.3 269.4h1.3M153.8 277.4h1.3M159.2 283.3h1.3M154 285.2h1.3M152.4 284.8h1.3M157.5 280.8h1.3M156.1 283.1h1.3M157.4 269h1.3M167.9 278.8h1.3M158.1 284.3h1.3M155.5 284.4h1.3M154.7 280h1.3M169.4 284.9h1.3M153.1 281.2h1.3M162.6 282.1h1.3M155.8 279.6h1.3M164.9 282h1.3M154.4 284.9h1.3M168.5 278h1.3M153.8 283h1.3M164.7 282.6h1.3M154.4 277.3h1.3M161.3 275.2h1.3M157.5 282.5h1.3M157.4 275.2h1.3M159.7 272.7h1.3M154.9 285.6h1.3M155.4 274.6h1.3M158.1 283h1.3M158.8 285.1h1.3M161.7 284.3h1.3M156.6 283.6h1.3M163.6 284.1h1.3M159.8 277.5h1.3M158.1 280.6h1.3M155.7 274h1.3M155.5 282.8h1.3M173.6 282.9h1.3M169.4 279.6h1.3M154.2 279.5h1.3M155.7 283.2h1.3M156.5 277.2h1.3M153.7 284.1h1.3M163.5 279h1.3M157.1 285.7h1.3M156.3 271.8h1.3M153.5 279.8h1.3M153.3 281h1.3M157.1 285.8h1.3M153.7 284.7h1.3M164.5 280.3h1.3M166 285.7h1.3M168.4 283.6h1.3M158.3 279.7h1.3M152.8 281.2h1.3M165.4 280.7h1.3M156 283.3h1.3M173.1 284.5h1.3M153.3 281.8h1.3M152.9 281.6h1.3M162.6 274.2h1.3M164.4 285.5h1.3M156.8 285h1.3M157.8 280.1h1.3M158.3 281.4h1.3M159.3 283.5h1.3M153 280.4h1.3M154.3 282.3h1.3M159.4 283.4h1.3M156.3 274h1.3M152.7 270.3h1.3M152.5 284.7h1.3M152.7 284.6h1.3M158.1 280.5h1.3M168.8 276.4h1.3M160.7 283.1h1.3M153.9 284.5h1.3M152.4 278.9h1.3M166.5 274h1.3M173.6 281.2h1.3M153.2 276.9h1.3M152.3 280.7h1.3M152.8 259.7h1.3M155.7 280.5h1.3M156.6 280.9h1.3M153.8 273.3h1.3M163.9 277.7h1.3M160.9 284.8h1.3M152.8 284.1h1.3M155.2 272.2h1.3M157.3 284.2h1.3M152.5 283.5h1.3M155.6 280.9h1.3M156.5 282.7h1.3M161 280.7h1.3M164.7 284h1.3M166.1 285.2h1.3M154.8 280.9h1.3M152.8 282.2h1.3M152.7 277.7h1.3M153.2 281.6h1.3M153.5 278h1.3M155.7 283.1h1.3M159.1 285.3h1.3M152.8 257.1h1.3M155.1 275.9h1.3M153.5 284.6h1.3M152.6 284.7h1.3M154.3 282.6h1.3M152.7 282.9h1.3M158 282.2h1.3M157.6 284h1.3M157.8 267.8h1.3M154.2 285.2h1.3M165.2 284.6h1.3M156.1 269.7h1.3M162.6 280.8h1.3M157.1 270.1h1.3M155.9 283h1.3M154.5 282h1.3M156.7 281.6h1.3M152.4 284.6h1.3M154.3 280.4h1.3M159.6 276h1.3M153.8 281.4h1.3M154 279.9h1.3M157.6 282.7h1.3M154.6 271.4h1.3M153.2 278.9h1.3M170.8 283.4h1.3M160.9 284h1.3M160.9 277.2h1.3M156.1 276.7h1.3M153.9 274.9h1.3M157.6 280.9h1.3M154.4 284.3h1.3M152.6 280.1h1.3M156.3 282.6h1.3M156.2 283.8h1.3M157 277.8h1.3M165 274.1h1.3M154.9 285.6h1.3M161.7 268.8h1.3M159 284.9h1.3M155.5 284.4h1.3M154.7 282.4h1.3M162.3 273.9h1.3M166.8 279.5h1.3M167.5 281.5h1.3M156.3 279.4h1.3M156.5 284.1h1.3M154.5 285.8h1.3M158.1 269.2h1.3M153.3 283h1.3M162 283.5h1.3M155.7 277.2h1.3M153.4 283.4h1.3M154.8 280.5h1.3M159.3 277.5h1.3M165.7 282.6h1.3M158.1 274.6h1.3M165.6 283.1h1.3M176.2 284.3h1.3M154 282.8h1.3M166.7 281h1.3M154.9 278.4h1.3M158.3 279.4h1.3M154.2 278.3h1.3M156.1 278.9h1.3M157 275.5h1.3M154.9 283.4h1.3M163.4 267h1.3M152.9 282.2h1.3M152.7 268.4h1.3M152.4 283.9h1.3M171.4 278h1.3M159.3 276h1.3M153.3 284.6h1.3M158.7 284.1h1.3M152.4 284.9h1.3M167.1 284.4h1.3M159.5 275.9h1.3M156.8 269.6h1.3M153.4 284.5h1.3M158.6 284.4h1.3M158.1 281.8h1.3M157.5 276.5h1.3M155 282.1h1.3M160.4 281.8h1.3M159.2 279.1h1.3M158.3 282.8h1.3M177.7 285.5h1.3M162.4 285.7h1.3M159.6 283.8h1.3M159.7 281.2h1.3M164.9 278.7h1.3M152.7 279.3h1.3M154.4 280h1.3M152.9 282.3h1.3M153.5 285.7h1.3M163.8 285.2h1.3M160.8 280h1.3M153.3 285.4h1.3M161.2 281.3h1.3M154.9 283h1.3M168.5 282.2h1.3M154 276.8h1.3M153.5 284.9h1.3M159.3 285.8h1.3M175.4 285.6h1.3M152.6 284.3h1.3M155.6 283h1.3M159.9 274.2h1.3M156.5 284.4h1.3M165.4 280.8h1.3M168.9 284.1h1.3M159.3 279.4h1.3M152.4 284.5h1.3M153.4 271.6h1.3M163.3 279.4h1.3M154.6 279.3h1.3M155.5 282.9h1.3M153.8 275.2h1.3M162.5 278.9h1.3M154.5 280.3h1.3M158.3 284.5h1.3M154.8 281.3h1.3M153.6 263.8h1.3M169 283.4h1.3M157.3 275.7h1.3M155.8 272.8h1.3M156.6 275.6h1.3M158.4 284.3h1.3M154.3 281.1h1.3M153.4 285.1h1.3M160.3 283.1h1.3M163 272.9h1.3M159.1 278h1.3M157.4 283.7h1.3M153 276.8h1.3M152.7 267.9h1.3M158.8 284.9h1.3M153.1 284.4h1.3M157.6 284.1h1.3M154 279.7h1.3M162.3 282.1h1.3M154.9 282.9h1.3M161.5 269.5h1.3M153.1 277.9h1.3M156.3 271.3h1.3M162.8 280.2h1.3M162.2 278.8h1.3M170.6 280.2h1.3M160.2 283.8h1.3M163.2 266.8h1.3M154.9 283.1h1.3M160.9 282.3h1.3M168.6 285.7h1.3M155.2 282.4h1.3M159.3 279.9h1.3M153.3 282.3h1.3M153 283.8h1.3M157.1 285.1h1.3M153 280.3h1.3M154 276.9h1.3M155.4 283.2h1.3M163.8 275.5h1.3M162.7 274.6h1.3M164.1 278.3h1.3M155.6 283.3h1.3M158.4 281.1h1.3M154.2 283.5h1.3M152.7 279.2h1.3M157.6 273.5h1.3M153.6 285.1h1.3M155.3 278h1.3M159.1 285.1h1.3M166.9 284.6h1.3M159.9 270.1h1.3M159.8 283.7h1.3M153.1 284.1h1.3M152.6 285.1h1.3M155.9 280h1.3M157.4 280h1.3M154 283.6h1.3M153.8 285.3h1.3M156.7 281.6h1.3M156.3 280.1h1.3M152.9 271.1h1.3M162.2 275.7h1.3M164.3 276.2h1.3M154.5 278.2h1.3M157.3 271.8h1.3M152.8 282.7h1.3M155.1 281.6h1.3M168.7 281.7h1.3M154.8 282h1.3M171.3 281.7h1.3M153.1 283h1.3M152.5 281.7h1.3M156.2 280.9h1.3M157.4 281.1h1.3M163 277.5h1.3M153.6 282h1.3M171.8 282.6h1.3M168.4 283.9h1.3M155.8 278h1.3M153.1 271.9h1.3M153.4 283.1h1.3M154.1 285.2h1.3M157.2 276.6h1.3M160.2 279.8h1.3M165.6 285.8h1.3M156.6 283.9h1.3M160.8 285.8h1.3M176.7 284.3h1.3M161.5 277.5h1.3M158.2 277.8h1.3M159.7 284.7h1.3M163.2 285.3h1.3M159.2 284.1h1.3M154.1 281.2h1.3M153.5 284.8h1.3M158.4 281.6h1.3M159.3 278.5h1.3M152.9 277.2h1.3M165.1 282.5h1.3M152.6 275.8h1.3M160.7 273.6h1.3M160.3 285.2h1.3M160.2 282.6h1.3M152.4 285.8h1.3M152.6 272.2h1.3M156.4 285.7h1.3M154.6 279.7h1.3M157.2 284.4h1.3M158.9 281h1.3M152.7 284.5h1.3M153.8 283.9h1.3" stroke="#000" stroke-width="1.3" fill="none" opacity="1.0"/>
</g>
<path d="M150.8 22H416.6V287.4" fill="none" stroke="#5a5a5a" stroke-width="1.3"/><path d="M150.8 22V287.4H416.6" fill="none" stroke="#111" stroke-width="1.45" stroke-linecap="square"/><path d="M151.3 287.4v7M201.7 287.4v7M252 287.4v7M302.4 287.4v7M352.7 287.4v7M403.1 287.4v7" stroke="#111" stroke-width="1.8" fill="none"/><path d="M161.4 287.4v3.8M171.4 287.4v3.8M181.5 287.4v3.8M191.6 287.4v3.8M211.7 287.4v3.8M221.8 287.4v3.8M231.9 287.4v3.8M241.9 287.4v3.8M262.1 287.4v3.8M272.1 287.4v3.8M282.2 287.4v3.8M292.3 287.4v3.8M312.4 287.4v3.8M322.5 287.4v3.8M332.6 287.4v3.8M342.6 287.4v3.8M362.8 287.4v3.8M372.8 287.4v3.8M382.9 287.4v3.8M393 287.4v3.8M413.1 287.4v3.8" stroke="#111" stroke-width="1.2" fill="none"/><path d="M150.8 286h-8M150.8 235.7h-8M150.8 185.3h-8M150.8 134.9h-8M150.8 84.6h-8M150.8 34.2h-8" stroke="#111" stroke-width="1.8" fill="none"/><path d="M150.8 275.9h-3.8M150.8 265.9h-3.8M150.8 255.8h-3.8M150.8 245.7h-3.8M150.8 225.6h-3.8M150.8 215.5h-3.8M150.8 205.4h-3.8M150.8 195.4h-3.8M150.8 175.2h-3.8M150.8 165.2h-3.8M150.8 155.1h-3.8M150.8 145h-3.8M150.8 124.9h-3.8M150.8 114.8h-3.8M150.8 104.7h-3.8M150.8 94.7h-3.8M150.8 74.5h-3.8M150.8 64.5h-3.8M150.8 54.4h-3.8M150.8 44.3h-3.8M150.8 24.2h-3.8" stroke="#111" stroke-width="1.2" fill="none"/>
<path d="M260.6 198.7L324.6 231.6L286.4 282.3L227.2 278.1L222.2 233.6Z" fill="none" stroke="#111" stroke-width="1.6" stroke-linejoin="miter"/>
<path d="M312 238.7L442.9 238.7" stroke="#D62C36" stroke-width="2.3" fill="none"/><path d="M464.7 238.7L442.3 249.8L442.3 227.6Z" fill="#F92A2F" stroke="#D0303A" stroke-width="0.8" stroke-linejoin="miter"/>
<text x="167.5" y="332.7" font-size="29.0" text-anchor="start" font-weight="normal" font-style="normal" fill="#000" stroke="#000" stroke-width="0.5">FSC-A</text>
<text x="132.8" y="278.3" font-size="28.5" text-anchor="start" font-weight="normal" font-style="normal" fill="#000" stroke="#000" stroke-width="0.5" transform="rotate(-90 132.8 278.3)">SSC-A</text>
<clipPath id="c2"><rect x="521.4" y="22" width="266" height="265.4"/></clipPath>
<g clip-path="url(#c2)">
<path d="M595 173L596.5 173.3L597.5 174.1L598.6 176L599.6 179L600.5 186.5L600.3 195L598.8 204L596.7 210.5L595.2 213.5L594 215.1L592.5 216.3L591 216.6L589.5 215.7L588.5 214.3L587.6 212L586.9 209L586.2 202L586.6 194L587.8 186.5L589.9 179.5L592.5 174.7L593.5 173.7L595 173M593.9 176L595 175.6L596.5 176.2L597.5 177.4L598.2 179L599.4 184.5L599.6 192.5L598.8 200L596.8 207.5L595.8 210L594.2 212.5L593 213.7L591.5 214.2L590.5 213.9L589.5 212.9L587.9 209L587.1 203.5L587.2 196.5L588.1 189L589.7 183L591.7 178.5L593.9 176M593.9 178L595 177.7L596 178.1L597 179.2L598 181.5L598.9 187L598.9 194L597.8 201.5L596.1 207L594 210.9L592.5 212.2L591.5 212.3L590.5 211.9L589.8 211L588.4 207.5L587.7 202.5L587.8 196.5L588.6 190L589.8 185L591.7 180.5L593 178.7L593.9 178M594.5 179.5L595.5 179.7L596.5 180.7L597.8 184L598.4 189L598.2 195L597.3 201L595.6 206.5L593.5 209.9L592.5 210.6L591.5 210.7L590 209.3L588.8 206L588.2 201L588.4 195.5L589.2 189.5L590.7 184.5L592.5 181L593.5 179.9L594.5 179.5M593.4 181.5L594.5 181L595.5 181.4L596.8 183.5L597.8 188L597.8 193.5L597.2 199L595.7 204.5L594 207.9L593 208.9L592 209.3L590.5 208.3L589.4 205.5L588.8 201.5L588.7 197L589.3 192L590.3 187.5L591.9 183.5L593.4 181.5M594.5 182.5L595.5 183L596 183.7L597 186.5L597.4 190.5L597.2 195.5L596.4 200.5L595.1 204.5L593.5 207.2L592 207.9L591 207.3L590.5 206.6L589.6 204L589.2 200L589.3 195L590.1 190L591.4 186L593 183.3L594.5 182.5M593.8 184L594.5 183.9L595.4 184.5L596.3 186.5L596.9 190L596.8 195L596.2 199.5L595 203.3L593.5 205.9L592 206.5L590.9 205.5L590 203L589.6 199.5L589.7 195.5L590.3 191.5L591.2 188L592.5 185.2L593.8 184M593.5 185.5L594 185.3L594.8 185.5L595.8 187L596.4 190L596.5 194L596.1 197.5L595.1 201.5L594 204L592.5 205.2L591.5 204.8L590.5 202.6L590.1 200L590.1 196.5L590.4 193L591.2 189.5L592.3 187L593.5 185.5M593.3 187L594 186.6L594.5 186.7L595.4 188L595.9 190.5L596 194L595.7 197.5L594.7 201L593.5 203.3L592.5 203.9L591.5 203.2L591 202L590.5 199.5L590.5 196.5L591.5 190.5L592.5 188L593.3 187M593.8 188L594.5 188.2L595.3 190L595.6 195L594.5 200.2L593.5 202.1L592.5 202.6L591.8 202L591.2 200.5L591 195.5L592 190.4L593 188.5L593.8 188M593.3 189.5L594 189.3L594.8 190.5L595.2 192.5L595.1 195L594.7 198L594 200L593.3 201L592.5 201.3L592 200.8L591.5 199.3L591.4 195.5L592 192L592.5 190.6L593.3 189.5M593.3 191L594 190.9L594.3 191.5L594.7 194.5L594 198.4L593 199.8L592.5 199.7L592 198.7L591.8 196L592.4 192.5L593.3 191M593.4 192.5L594 193.1L594.1 195.5L593.5 197.7L593 198.2L592.5 197.5L592.4 195.5L592.8 193.5L593.4 192.5" stroke="#333" stroke-width="0.8" fill="none"/>
<path d="M598.1 163h1.3M598 182.6h1.3M597.3 164.3h1.3M597.8 178.5h1.3M597.9 169.1h1.3M598.7 160.9h1.3M600.2 184.7h1.3M597.8 153.8h1.3M596.4 182.3h1.3M595.6 185.3h1.3M590.2 180h1.3M594.9 170.4h1.3M596.8 170.9h1.3M597 183.1h1.3M596.6 163.3h1.3M598.1 179h1.3M598.4 177h1.3M595.4 180.3h1.3M598.8 163.6h1.3M599.1 172.1h1.3M598.5 149.7h1.3M597.7 148.9h1.3M599.2 150.3h1.3M596.2 175.4h1.3M597.1 160.2h1.3M596.2 182.3h1.3M597.9 149.2h1.3M598.8 152.9h1.3M597.5 179.5h1.3M598.7 162.7h1.3M598.4 154.8h1.3M595 177.2h1.3M597.7 155.4h1.3M597.4 184.9h1.3M597.4 157h1.3M601.1 180.3h1.3M596.9 165.2h1.3M594.8 183.4h1.3M598.7 157.9h1.3M597.3 183h1.3M597.6 158.1h1.3M597 163.9h1.3M597.3 171.3h1.3M598 168.2h1.3M597.7 172.8h1.3M596.1 173.8h1.3M598.1 156.7h1.3M598.9 146.4h1.3M597.6 174.9h1.3M592.7 170h1.3M595.8 168.5h1.3M596.2 165.8h1.3M595.5 183.1h1.3M597.8 157.9h1.3M597.6 182.5h1.3M598.5 152.7h1.3M596.4 173.8h1.3M595.9 183.7h1.3M599.3 152.2h1.3M595.4 176.8h1.3M598 156.9h1.3M599.2 148.4h1.3M597.7 163.2h1.3M593.5 174h1.3M598 157.3h1.3M595.1 184h1.3M598.4 146.1h1.3M598.7 156.7h1.3M598 159.7h1.3M597.2 160.8h1.3M598.5 158h1.3M598.7 146.9h1.3M598 154.4h1.3M598 156.5h1.3M597 172.9h1.3M597.1 161.1h1.3M595.8 174.9h1.3M597.3 163.7h1.3M596.6 159.6h1.3M597.1 152.4h1.3M598.9 155.1h1.3M595.6 182.1h1.3M597.2 164.2h1.3M597.5 158.5h1.3M597.9 154.7h1.3M596.1 181.1h1.3M596.6 174.2h1.3M595.4 173.8h1.3M597.8 178.2h1.3M597.2 155.7h1.3M598 175.2h1.3M597.1 148.9h1.3M595.1 172.6h1.3M598.5 158.9h1.3M596.4 172.5h1.3M597.3 155.1h1.3M597.9 160.1h1.3M595.1 172.8h1.3M596 183.6h1.3M595.4 159.6h1.3M597.7 152.8h1.3M597.7 151h1.3M597.4 172.9h1.3M597.5 181.8h1.3M598 146.7h1.3M599.1 159.8h1.3M597.6 152.8h1.3M592.1 184.2h1.3M596.5 151.3h1.3M599.2 148.7h1.3M596.2 176.7h1.3M594.5 186h1.3M595.1 177h1.3M597.5 150.6h1.3M598.8 162.3h1.3M596.9 166.8h1.3M599.1 181.9h1.3M596.1 176.1h1.3M597 148.4h1.3M598.2 164.1h1.3M595.7 177.1h1.3M596.7 167.7h1.3M598.9 172.7h1.3M595.3 184.7h1.3M597.9 185.1h1.3M596.1 179.5h1.3M595.9 168.9h1.3M598.1 158.3h1.3M597.6 152.4h1.3M598.9 152.7h1.3M598 171.6h1.3M596.4 176.9h1.3M597.1 180.3h1.3M596.9 182.6h1.3M597.4 157.5h1.3M598.4 159.4h1.3M597.8 153.8h1.3M597.8 167.8h1.3M594.1 183.9h1.3M596.5 176.3h1.3M597.7 163.5h1.3M597.5 152.4h1.3M595.4 179.7h1.3M595.1 181.8h1.3M597.5 176.7h1.3M597 157.7h1.3M597.9 161.6h1.3M598.9 169.3h1.3M596.6 182.7h1.3M596.5 155.7h1.3M593 212.2h1.3M593.3 211h1.3M593.6 206.5h1.3M594.9 215.3h1.3M594.6 212.7h1.3M594.7 207.7h1.3M597.4 218.4h1.3M596.6 212h1.3M593.4 205.4h1.3M593.5 219.9h1.3M597.3 212h1.3M594 206.6h1.3M596.7 209.9h1.3M597.1 209.3h1.3M593.7 205.7h1.3M594.1 210.6h1.3M594.7 207.9h1.3M593.1 208.6h1.3M593 216.5h1.3M593.9 207.7h1.3M595.9 205.4h1.3M593.8 208h1.3M594.2 210h1.3M593.8 207.8h1.3M592.3 215.2h1.3M596.9 220h1.3M590.8 219.1h1.3M593.5 213h1.3M595.4 218.4h1.3M592.3 218.4h1.3M595.5 215.8h1.3M596.5 218.6h1.3M593.2 211.4h1.3M594.9 217.7h1.3M592.8 213.9h1.3M595.3 217.6h1.3M594.7 217.6h1.3M594.9 206.1h1.3M596.7 219.2h1.3M595.3 205.6h1.3M596.7 212.3h1.3M595.5 215h1.3M592.6 219h1.3M594.9 206h1.3M595.3 216.4h1.3M592.2 210.9h1.3M596.7 205.7h1.3M594.6 210.6h1.3M595.1 215.9h1.3M593.1 206.4h1.3M594.6 219.4h1.3M595 205.7h1.3M594 209.1h1.3M594.7 210.6h1.3M591.1 206.1h1.3M596.7 220.7h1.3M592.7 221.4h1.3M591 220.4h1.3M593 208.4h1.3M593.2 219.2h1.3M595.4 210.7h1.3M593.1 209.9h1.3M595 216.7h1.3M593 206.5h1.3M598.1 205.1h1.3M595.4 220.8h1.3M597.7 211h1.3M592.9 218.5h1.3M595.6 212.2h1.3M593 206.6h1.3M599.1 188.6h1.3M607.3 179.4h1.3M600.8 175.7h1.3M599.9 181.3h1.3M627.9 157.4h1.3M601.6 172.2h1.3M617.6 181.8h1.3M603 181.5h1.3M605.3 186.7h1.3M598.7 170.2h1.3M598.4 197.2h1.3M600.6 179.8h1.3M611.7 164.9h1.3M601.2 174.1h1.3M606.6 181.5h1.3M598.8 202.4h1.3M598.3 196.2h1.3M600 182.3h1.3M605.8 188.3h1.3M599.7 191.7h1.3M598.8 177.5h1.3M610.3 195.9h1.3M605.6 200.3h1.3M608.7 171.8h1.3M599 191.2h1.3M603.4 190.8h1.3M607.7 180h1.3M599.8 197.6h1.3M600.3 205.5h1.3M608.8 207.2h1.3M598.9 184.7h1.3M599.7 191.2h1.3M602.2 169.2h1.3M604.3 191.8h1.3M600.5 203.1h1.3M602.1 190.6h1.3M599.9 199.2h1.3M599.4 190.9h1.3M603.4 200.8h1.3M600.1 209.8h1.3M599 184.2h1.3M601.6 191.4h1.3M600.5 187.1h1.3M599.5 181.1h1.3M598.6 187.7h1.3M604.8 168.8h1.3M615.4 200.7h1.3M616.3 216.9h1.3M598.6 217h1.3M603.5 209.7h1.3M612.6 171.6h1.3M604.9 213.8h1.3M603.3 175.8h1.3M600 187.1h1.3M599.8 219.4h1.3M602.5 169.8h1.3M600.8 202.3h1.3M610.1 192.8h1.3M599.7 185.4h1.3M602.9 173.1h1.3M603 195.2h1.3M605.3 180.1h1.3M603.1 205.8h1.3M602.8 208.8h1.3M609.4 164.6h1.3M603.6 179.4h1.3M600.9 182.6h1.3M607.5 167.9h1.3M612.2 169h1.3M600.3 189.5h1.3M601.3 184.5h1.3M600.9 159.9h1.3M623.6 178.9h1.3M604.6 196.8h1.3M606.5 167.5h1.3M602.2 172.3h1.3M600.8 215h1.3M605.2 210.4h1.3M602.6 160.4h1.3M603 165h1.3M605.6 194.4h1.3M605.9 167.7h1.3M602.8 183.7h1.3M609.8 180.3h1.3M603.7 197.5h1.3M605.8 150.6h1.3M614 167.2h1.3M600.5 205.2h1.3M609.1 185.4h1.3M600.1 159h1.3M601.4 196.4h1.3M599.1 200h1.3M598 183.8h1.3M599.4 182.4h1.3M605.5 195.4h1.3M613.6 208.6h1.3M603 190.6h1.3M606.4 197.1h1.3M601.3 187.2h1.3M601 181.5h1.3M603.4 172.4h1.3M599.7 192.4h1.3M610.1 182.9h1.3M598.1 183.9h1.3M602.2 203.8h1.3M603.2 196.3h1.3M636.5 208.9h1.3M619.3 194.1h1.3M618.3 177.2h1.3M641.5 210.5h1.3M615.9 184.5h1.3M644.7 216.5h1.3M620.4 184.3h1.3M637 187.3h1.3M624.8 202.5h1.3M616.2 200.6h1.3M617.8 198.3h1.3M616.8 186.1h1.3M628.6 209.1h1.3M642.6 192.8h1.3M616.5 192.7h1.3M614.7 189.1h1.3M618.5 194.2h1.3M614.3 203.8h1.3M627.5 195h1.3M616.5 202h1.3M634.5 209.4h1.3M618.8 182.3h1.3M629.8 191h1.3M624.5 196.2h1.3M636.7 198.6h1.3M638.1 187h1.3M628.5 207.6h1.3M618.7 204.3h1.3M638.9 203.2h1.3M620.4 185.8h1.3M627.6 200.8h1.3M620.3 193.4h1.3M623.4 198.5h1.3M634.1 209.6h1.3M614.6 192.3h1.3M615.4 209.5h1.3M649.8 187.8h1.3M620.9 189.3h1.3M615.8 201.1h1.3M614.2 182.5h1.3M616.8 203.6h1.3M614.8 185.3h1.3M614.7 197.1h1.3M621.8 190.5h1.3M621.7 194.7h1.3M614.5 197.8h1.3M618.9 196.8h1.3M614.8 192.9h1.3M619.7 217.4h1.3M634.6 203.3h1.3M632.2 193.6h1.3M617.6 205.6h1.3M626.5 207.8h1.3M628.3 212h1.3M616.9 213.1h1.3M615.1 187.9h1.3M629.3 211.6h1.3M618 199.6h1.3M649 181.2h1.3M647.2 202.5h1.3M617.3 213.2h1.3M624.8 183.7h1.3M638.4 199.7h1.3M631.8 204.8h1.3M629.7 206.7h1.3M618.2 212.2h1.3M624.9 184h1.3M619.1 198.2h1.3M617.5 205h1.3M614.5 184.4h1.3M616.2 196.4h1.3" stroke="#222" stroke-width="1.3" fill="none" opacity="1.0"/>
</g>
<path d="M521.4 22H787.4V287.4" fill="none" stroke="#5a5a5a" stroke-width="1.3"/><path d="M521.4 22V287.4H787.4" fill="none" stroke="#111" stroke-width="1.45" stroke-linecap="square"/><path d="M521.9 287.4v7M572.2 287.4v7M622.6 287.4v7M673 287.4v7M723.3 287.4v7M773.6 287.4v7" stroke="#111" stroke-width="1.8" fill="none"/><path d="M532 287.4v3.8M542 287.4v3.8M552.1 287.4v3.8M562.2 287.4v3.8M582.3 287.4v3.8M592.4 287.4v3.8M602.5 287.4v3.8M612.5 287.4v3.8M632.7 287.4v3.8M642.7 287.4v3.8M652.8 287.4v3.8M662.9 287.4v3.8M683 287.4v3.8M693.1 287.4v3.8M703.2 287.4v3.8M713.2 287.4v3.8M733.4 287.4v3.8M743.4 287.4v3.8M753.5 287.4v3.8M763.6 287.4v3.8M783.7 287.4v3.8" stroke="#111" stroke-width="1.2" fill="none"/><path d="M521.4 286h-8M521.4 235.7h-8M521.4 185.3h-8M521.4 134.9h-8M521.4 84.6h-8M521.4 34.2h-8" stroke="#111" stroke-width="1.8" fill="none"/><path d="M521.4 275.9h-3.8M521.4 265.9h-3.8M521.4 255.8h-3.8M521.4 245.7h-3.8M521.4 225.6h-3.8M521.4 215.5h-3.8M521.4 205.4h-3.8M521.4 195.4h-3.8M521.4 175.2h-3.8M521.4 165.2h-3.8M521.4 155.1h-3.8M521.4 145h-3.8M521.4 124.9h-3.8M521.4 114.8h-3.8M521.4 104.7h-3.8M521.4 94.7h-3.8M521.4 74.5h-3.8M521.4 64.5h-3.8M521.4 54.4h-3.8M521.4 44.3h-3.8M521.4 24.2h-3.8" stroke="#111" stroke-width="1.2" fill="none"/>
<rect x="576.7" y="121.2" width="37.5" height="123.7" fill="none" stroke="#111" stroke-width="1.55"/>
<path d="M698 159.3L829.4 159.3" stroke="#D62C36" stroke-width="2.3" fill="none"/><path d="M851.2 159.3L828.8 170.4L828.8 148.2Z" fill="#F92A2F" stroke="#D0303A" stroke-width="0.8" stroke-linejoin="miter"/>
<text x="536.6" y="332" font-size="29.0" text-anchor="start" font-weight="normal" font-style="normal" fill="#000" stroke="#000" stroke-width="0.5">FSC-W</text>
<text x="500.9" y="277.9" font-size="28.4" text-anchor="start" font-weight="normal" font-style="normal" fill="#000" stroke="#000" stroke-width="0.5" transform="rotate(-90 500.9 277.9)">FSC-H</text>
<clipPath id="c3"><rect x="892.9" y="22" width="266" height="265.4"/></clipPath>
<g clip-path="url(#c3)">
<path d="M960.3 226L961.5 226L962.5 227.1L964.2 231.5L967.1 249L967.6 256.5L967.1 263L965.3 269L963 272.5L961.5 273.6L960 273.9L958.5 273.6L957 272.5L954.7 269L953.7 266.5L952.9 263L952.4 256.5L953.2 248.5L956.8 233L958.5 228.1L959.5 226.5L960.3 226M960 233L961 232.8L961.8 233.5L963.3 237.5L965.8 249L966.4 256.5L965.9 262.5L964.8 266.5L963.8 268.5L962.5 270.1L961.5 270.9L960 271.3L959 271.2L957.5 270.3L955.3 267L954.1 263L953.6 257.5L953.9 252.5L955.2 246L958 236.6L959 234.3L960 233M960.5 238.5L961 238.6L962 239.9L963.8 245L965.1 251.5L965.5 257.5L965.1 262L963.9 266L962 268.8L960 269.7L958.5 269.3L957.5 268.6L955.8 266L954.7 262L954.3 257.5L954.9 252L956.4 246L958.5 240.6L959.5 239.1L960.5 238.5M959.4 243.5L960 243.1L961 243.3L962.5 245.6L964.1 251L964.8 257L964.6 261L963.7 264.5L962 267.4L961 268.1L960 268.4L959 268.3L958 267.7L956.7 266L955.4 262.5L955 259L955.2 255L956.1 250.5L957.8 246L959.4 243.5M959.3 247L960 246.7L961 247L962.3 249L963.6 253L964.2 257.5L964 261L963.2 264L961.7 266.5L960 267.3L958.5 266.9L957 265.3L955.9 262.5L955.5 259.5L955.7 256L956.4 252.5L958 248.7L959.3 247M959.3 250L960.5 249.8L962 251.5L963.1 254.5L963.6 258L963.4 261L962.7 263.5L961.5 265.5L960 266.3L958.5 265.9L957.3 264.5L956.4 262L956.1 259.5L956.2 256.5L956.8 254L958 251.3L959.3 250M959.3 252L960.5 252L961.6 253L962.6 255.5L963 258L962.9 260.5L962.3 263L961.3 264.5L960 265.3L959 265.1L957.8 264L956.9 262L956.6 259.5L956.7 257L957.2 255L958 253.3L959.3 252M959 253.5L960 253.2L961.2 254L962 255.5L962.5 258L962.4 260.5L962 262.2L961 263.9L960 264.5L959 264.3L958 263.2L957 260L957.4 256L958 254.7L959 253.5M959.1 254.5L960 254.3L961 254.9L961.6 256L962.1 258L962.1 260L961.6 262L961 263L960 263.7L959 263.5L958.5 263L957.7 261.5L957.5 260L957.8 256.5L959.1 254.5M959 255.5L959.5 255.2L960.5 255.4L961.2 256.5L961.6 258L961.5 261L961 262.1L960 262.9L959 262.7L958.5 262.1L957.8 260L958 257.4L959 255.5M959 256.5L959.5 256.1L960.5 256.4L961.2 258L961.1 260.5L960.7 261.5L960 262.1L959 261.8L958.3 260L958.3 258L959 256.5M959.1 257.5L960 257.1L960.7 258.5L960.7 260L960 261.2L959.3 261L958.8 260L958.8 258.5L959.1 257.5" stroke="#444" stroke-width="0.7" fill="none"/>
<ellipse cx="959.7" cy="259.3" rx="1.5" ry="3" fill="#fff" stroke="#111" stroke-width="0.9"/>
<path d="M962.4 215.7h1.3M961 203.3h1.3M960.6 218.1h1.3M962.1 205.9h1.3M962.4 206.1h1.3M962.3 211.7h1.3M963.2 219.1h1.3M961.8 208.6h1.3M962.3 210.6h1.3M962.3 209.3h1.3M961.6 203.2h1.3M961.4 206.8h1.3M961.6 219.3h1.3M965.9 219.8h1.3M961.3 206.1h1.3M960.9 219.4h1.3M961.1 201.3h1.3M961.2 215.4h1.3M961.5 201.5h1.3M959.9 209.5h1.3M959 209.3h1.3M961.7 209.7h1.3M958.2 219.8h1.3M961.6 208h1.3M961.4 201.4h1.3M962.2 203.2h1.3M964.1 216h1.3M961.6 203.6h1.3M960.9 202.2h1.3M960.3 204.9h1.3M959.7 220.6h1.3M961.3 209.9h1.3M959.6 204h1.3M961.4 214.2h1.3M961.3 208.6h1.3M962.2 212.1h1.3M960.6 220.9h1.3M961.5 215h1.3M960.3 211.7h1.3M960.4 221h1.3M959 211.1h1.3M961.5 210.1h1.3M964.1 218h1.3M961.6 220.2h1.3M961.9 215.4h1.3M960.2 208.3h1.3M963 209.1h1.3M960.8 201.2h1.3M962.1 205.8h1.3M961.5 216.5h1.3M960.1 210.8h1.3M963.1 218.1h1.3M961.3 214.4h1.3M961.5 212.3h1.3M962.1 217.1h1.3M961.3 211h1.3M960.7 214.3h1.3M961.9 210.8h1.3M960.9 208.1h1.3M961.4 216.3h1.3M960.8 202.4h1.3M958.4 220.5h1.3M960 220.2h1.3M960.4 217.6h1.3M961.3 210.3h1.3M962.8 210h1.3M959.3 209h1.3M961.5 210.2h1.3M959.3 205.4h1.3M959.5 217h1.3M960.4 218.6h1.3M958.4 211h1.3M958 218.1h1.3M961.5 206.8h1.3M961.4 218.2h1.3M961.1 220.5h1.3M960.1 214.4h1.3M965.5 220.3h1.3M961 215.5h1.3M959.9 214.9h1.3M963.4 210.5h1.3M961.7 202.2h1.3M961 203.5h1.3M963.4 217.6h1.3M961.4 204.6h1.3M962.3 214.7h1.3M961.5 204.2h1.3M959.6 216.1h1.3M963.2 220.1h1.3M961.5 213.4h1.3M960.6 201.8h1.3M960.1 215.7h1.3M962.5 210.5h1.3M960.6 218.3h1.3M961.3 204h1.3M961.9 206.6h1.3M961.5 219.4h1.3M958.6 217.7h1.3M962.5 219.2h1.3M962.5 211.4h1.3M962.6 214.5h1.3M964.4 219.7h1.3M961.9 214.2h1.3M961.9 202.7h1.3M962.6 204.1h1.3M961.1 201.1h1.3M962.6 203.2h1.3M962.4 201.5h1.3M962.2 208.7h1.3M964 213.3h1.3M962.8 218.2h1.3M960.3 209.2h1.3M962.2 204.2h1.3M961.9 219.2h1.3M962.1 219.3h1.3M961.6 220.5h1.3M962.2 201.5h1.3M962.1 212.8h1.3M960.3 213.6h1.3M962 211.7h1.3M949.8 185.5h1.3M937.9 232.5h1.3M945.4 187.5h1.3M953.6 231h1.3M950.7 249.6h1.3M955.7 237.3h1.3M943.5 189.8h1.3M947 214.7h1.3M941.9 196h1.3M940.9 234.2h1.3M938.9 238.3h1.3M941.2 240.4h1.3M940.4 209.2h1.3M946.2 229h1.3M945.6 197.1h1.3M953 256.2h1.3M953.3 256.9h1.3M948.4 182.5h1.3M950.8 226.2h1.3M946.8 238.9h1.3M943.5 198.9h1.3M947.6 182.7h1.3M950.3 180.2h1.3M957.1 238h1.3M954.1 181h1.3M1000.5 252.5h1.3M983.7 261.2h1.3M972.2 252.7h1.3M983.9 255.2h1.3M974.6 251.9h1.3M973.1 260h1.3M990.6 252.5h1.3M971.8 238.6h1.3M975.6 247.3h1.3M979.3 253.6h1.3M976.6 258.8h1.3M972.6 254.5h1.3M971 254.7h1.3M1007.7 253.7h1.3M981 264h1.3M976.4 246.1h1.3M975.4 255h1.3M975.2 242.3h1.3M986.9 247.4h1.3M975.4 249.4h1.3M977.3 244.4h1.3M975.7 249.5h1.3M970.6 247.9h1.3M976 254.9h1.3M976.7 251h1.3M981 244.8h1.3M980.3 256.8h1.3M980.1 260.1h1.3M973.8 258.8h1.3M971 241.3h1.3M979.1 256.3h1.3M974.6 254.1h1.3M973.8 264.6h1.3M979.6 247h1.3M1000.3 264.6h1.3M984.4 253.7h1.3M981.2 263.4h1.3M981.7 249.2h1.3M978.8 243.4h1.3M973.2 257.8h1.3M985 256.4h1.3M982.9 258.8h1.3M971 250.9h1.3M971.8 245.4h1.3M971.2 257.4h1.3M970.6 253.4h1.3M988.5 252.5h1.3M978.5 246.5h1.3M1024.4 252.3h1.3M994.6 259.9h1.3M979.6 253.3h1.3M984 252.4h1.3M978.1 248.6h1.3M981.6 260.1h1.3M987.5 248.7h1.3M990.6 254.1h1.3M993.9 248.6h1.3M981.8 257.4h1.3M973.2 252.2h1.3M982 249.5h1.3M984.7 261.8h1.3M989.7 254.6h1.3M975.1 257.3h1.3M988.6 261.4h1.3M974.6 251.6h1.3M979.6 252.5h1.3M985.1 258.1h1.3M976.7 250.1h1.3M975.4 253h1.3M980.8 255.2h1.3M999.5 242.3h1.3M1002.6 251.7h1.3M974 254.5h1.3M975.5 256.6h1.3M985.7 255.4h1.3M988.5 248.8h1.3M981.2 256.3h1.3M977.7 241.4h1.3M971.7 252.6h1.3M990.1 262.8h1.3M987.7 248.5h1.3M981.7 255.6h1.3M973.4 243.2h1.3M1000.8 251h1.3M980.9 231.4h1.3M971.8 253.3h1.3M986.4 264.7h1.3M977.5 258.8h1.3M989.3 246.9h1.3M977.9 261.6h1.3M984.1 253.5h1.3M975 253.7h1.3M986.5 253.4h1.3M996.8 252.1h1.3M972.1 243.7h1.3M983.8 260.5h1.3M993 245.9h1.3M976.4 252h1.3M972.8 245.4h1.3M983.3 248.6h1.3M973.2 252.1h1.3M983.9 257.9h1.3M972.8 249.6h1.3M977 262.3h1.3M981.9 254h1.3M1007.4 246.7h1.3M994.7 249.5h1.3M977.3 258.6h1.3M976.1 250.3h1.3M999.8 250.1h1.3M972.4 251.3h1.3M1010.6 259.2h1.3M979.4 230.1h1.3M985.6 257.4h1.3M988.8 246.6h1.3M987.5 247.4h1.3M974.5 255.5h1.3M988.3 261.5h1.3M974.6 253.2h1.3M1001.7 252h1.3M975 245.7h1.3M972.1 248.3h1.3M974.1 258.8h1.3M977 246.8h1.3M985 256.2h1.3M1001.4 260h1.3M998.3 240.3h1.3M991.7 243h1.3M986.4 259.4h1.3M989.4 257.6h1.3M986.6 249.1h1.3M973.6 244.5h1.3M971.2 255.2h1.3M999.9 248.8h1.3M987.6 252h1.3M986.3 238.6h1.3M978 255.1h1.3M978.6 252.7h1.3M992.1 250.1h1.3M979.7 257.2h1.3M978.1 247h1.3M971.9 258.5h1.3M973.1 255h1.3M976 249.8h1.3M993.6 259.6h1.3M977.3 252.8h1.3M972.3 243.2h1.3M971.8 265.9h1.3M976.7 260.2h1.3M982.6 261.7h1.3M971 260.4h1.3M1008.9 255.4h1.3M973.6 252.5h1.3M973.8 244.8h1.3M975.7 259.3h1.3M973.5 249.6h1.3M991.6 257.7h1.3M975.6 256.8h1.3M974 248.8h1.3M1009.8 240.4h1.3M1003.9 259.5h1.3M975.9 258.6h1.3M994.7 238h1.3M985.4 258.1h1.3M976.8 258.7h1.3M974.4 250.9h1.3M1027 242.4h1.3M972.9 244.1h1.3M1007.6 261.8h1.3M1007.5 253.8h1.3M986 253.9h1.3M981.2 245.9h1.3M973 251.5h1.3M973 262.1h1.3M976 254.3h1.3M991.7 247.1h1.3M979 257.7h1.3M971.8 248.4h1.3M1019.5 255h1.3M971 253h1.3M984.5 252.8h1.3M979.1 239.8h1.3M981.6 252h1.3M994.3 253.4h1.3M994.1 249.8h1.3M973.8 256.8h1.3M972.9 258.6h1.3M979.1 245.2h1.3M1002.6 251h1.3M970.7 257.3h1.3M977.6 249.4h1.3M975 263.8h1.3M1021.9 247.5h1.3M973.6 255.1h1.3M978.1 246.4h1.3M977.8 248.9h1.3M977.5 258.9h1.3M971.4 257.9h1.3M970.6 264.5h1.3M982.1 251.1h1.3M978.2 260h1.3M1000.6 256.1h1.3M976.9 251.8h1.3M991.8 260.5h1.3M987.6 255.8h1.3M978.5 250.4h1.3M995.7 256.1h1.3M973.8 247.1h1.3M975.1 248.5h1.3M988 257.8h1.3M983.4 255.5h1.3M971.8 258.7h1.3M984.2 258h1.3M1006 266.3h1.3M979.9 256.7h1.3M974.3 253.5h1.3M979.5 251.3h1.3M981 244.2h1.3M972 252h1.3M983.3 250.2h1.3M1002.6 260.9h1.3M971.2 257.4h1.3M975.6 258.2h1.3M978.2 253.8h1.3M974.8 256.4h1.3M980.2 227.1h1.3M973.1 227.6h1.3M989.9 241.7h1.3M983.8 266.2h1.3M988.8 244.3h1.3M988.5 245.8h1.3M974.6 240.6h1.3M973.2 243.7h1.3M972.6 232.3h1.3M975.5 247.1h1.3M975.4 245.2h1.3M970.6 224.5h1.3M973.3 240.5h1.3M975.3 247.3h1.3M971.5 240.2h1.3M971.7 249.2h1.3M975.3 229.3h1.3M975 238.5h1.3M973.1 236.9h1.3M974 230.3h1.3M972 243.9h1.3M974.3 234.1h1.3M971.8 240.2h1.3M971.9 243.9h1.3M975.4 242.4h1.3M979.3 224.8h1.3M971.3 223.5h1.3M985.2 245h1.3M975.1 240.2h1.3M972.1 226.1h1.3M972.9 225.6h1.3M976.3 235.9h1.3M971.7 227h1.3M981.9 248.1h1.3M973.5 228.3h1.3M971.2 248.4h1.3M976.6 242h1.3M973.6 237.6h1.3M970.9 240.8h1.3M974.2 241.4h1.3M972.9 230h1.3M970.6 235.7h1.3M971.1 223.9h1.3M974.4 223.3h1.3M972.8 248.4h1.3M974.5 245.8h1.3" stroke="#222" stroke-width="1.3" fill="none" opacity="1.0"/>
</g>
<path d="M892.9 22H1158.9V287.4" fill="none" stroke="#5a5a5a" stroke-width="1.3"/><path d="M892.9 22V287.4H1158.9" fill="none" stroke="#111" stroke-width="1.45" stroke-linecap="square"/><path d="M893.4 287.4v7M943.8 287.4v7M994.1 287.4v7M1044.5 287.4v7M1094.8 287.4v7M1145.2 287.4v7" stroke="#111" stroke-width="1.8" fill="none"/><path d="M903.5 287.4v3.8M913.5 287.4v3.8M923.6 287.4v3.8M933.7 287.4v3.8M953.8 287.4v3.8M963.9 287.4v3.8M974 287.4v3.8M984 287.4v3.8M1004.2 287.4v3.8M1014.2 287.4v3.8M1024.3 287.4v3.8M1034.4 287.4v3.8M1054.5 287.4v3.8M1064.6 287.4v3.8M1074.7 287.4v3.8M1084.7 287.4v3.8M1104.9 287.4v3.8M1114.9 287.4v3.8M1125 287.4v3.8M1135.1 287.4v3.8M1155.2 287.4v3.8" stroke="#111" stroke-width="1.2" fill="none"/><path d="M892.9 286h-8M892.9 235.7h-8M892.9 185.3h-8M892.9 134.9h-8M892.9 84.6h-8M892.9 34.2h-8" stroke="#111" stroke-width="1.8" fill="none"/><path d="M892.9 275.9h-3.8M892.9 265.9h-3.8M892.9 255.8h-3.8M892.9 245.7h-3.8M892.9 225.6h-3.8M892.9 215.5h-3.8M892.9 205.4h-3.8M892.9 195.4h-3.8M892.9 175.2h-3.8M892.9 165.2h-3.8M892.9 155.1h-3.8M892.9 145h-3.8M892.9 124.9h-3.8M892.9 114.8h-3.8M892.9 104.7h-3.8M892.9 94.7h-3.8M892.9 74.5h-3.8M892.9 64.5h-3.8M892.9 54.4h-3.8M892.9 44.3h-3.8M892.9 24.2h-3.8" stroke="#111" stroke-width="1.2" fill="none"/>
<rect x="935.8" y="178.4" width="33.6" height="102.9" fill="none" stroke="#111" stroke-width="1.55"/>
<path d="M1041 216.2L1175.9 217.2" stroke="#D62C36" stroke-width="2.3" fill="none"/><path d="M1197.7 217.4L1175.2 228.3L1175.4 206.1Z" fill="#F92A2F" stroke="#D0303A" stroke-width="0.8" stroke-linejoin="miter"/>
<text x="904.8" y="332" font-size="29.0" text-anchor="start" font-weight="normal" font-style="normal" fill="#000" stroke="#000" stroke-width="0.5">SSC-W</text>
<text x="868.8" y="278.7" font-size="28.7" text-anchor="start" font-weight="normal" font-style="normal" fill="#000" stroke="#000" stroke-width="0.5" transform="rotate(-90 868.8 278.7)">SSA-H</text>
<clipPath id="c4"><rect x="1263.8" y="22" width="266" height="265.4"/></clipPath>
<g clip-path="url(#c4)">
<path d="M1392.2 182.5L1400 182.3L1408 182.6L1415 183.4L1422.5 184.7L1429 186.3L1434.5 188.3L1439 190.6L1442.4 193L1444.6 195.5L1445.8 198.5L1445.7 201L1444.2 204L1441.5 206.7L1437.5 209.3L1433 211.3L1427 213.3L1417.5 215.3L1406.5 216.4L1395 216.6L1383.5 215.7L1372.5 213.8L1355.5 209.5L1342 208.5L1337 207.6L1333.5 206.4L1330.5 204.7L1328.5 202.7L1327.4 200.5L1327.2 199L1327.6 197L1329.6 194L1333.5 191.1L1338.5 189.2L1345.5 187.9L1361.5 187L1380 183.7L1392.2 182.5M1388.6 184.5L1395.5 184.1L1403 184.1L1410.5 184.6L1416.5 185.4L1423 186.7L1428.5 188.3L1433.5 190.4L1437.5 192.9L1440.1 195.5L1441.4 198L1441.4 201L1440.1 203.5L1437.6 206L1434 208.3L1429.5 210.3L1424.5 211.9L1415.5 213.8L1406 214.8L1395.5 214.9L1385.5 214.2L1374.5 212.2L1357 207.2L1353 206.8L1343.5 206.6L1338.5 205.9L1335.5 204.9L1333.1 203.5L1331.6 202L1330.6 200L1330.5 198.5L1330.9 197L1332.8 194.5L1336 192.3L1340 190.9L1346.5 189.9L1356.5 189.8L1361 189.5L1379 185.8L1388.6 184.5M1394.7 185.5L1407.5 185.7L1419 187.3L1424.5 188.7L1429 190.4L1432.5 192.2L1435.6 194.5L1437.2 196.5L1438.1 199L1437.7 201.5L1436.1 204L1433.5 206.2L1430 208.2L1426 209.8L1420.5 211.4L1412.5 212.8L1403.5 213.5L1394.5 213.5L1386 212.7L1380 211.7L1374.5 210.4L1361.5 205.8L1358 204.9L1354 204.6L1344.5 204.8L1340 204.2L1337.8 203.5L1335.9 202.5L1334.4 201L1333.7 199.5L1333.9 197.5L1335.5 195.3L1338.4 193.5L1342 192.3L1347 191.7L1356.5 192.1L1360.5 191.9L1380.5 187.1L1387 186.1L1394.7 185.5M1398.4 186.5L1410.5 187.1L1420.5 188.9L1425 190.3L1429 192L1432.1 194L1434.1 196L1435.2 198L1435.3 200.5L1434.4 202.5L1432.7 204.5L1430 206.4L1426.5 208.1L1422 209.7L1417.5 210.8L1410.5 211.9L1402.5 212.5L1394.5 212.4L1386.5 211.6L1380 210.4L1374 208.7L1369 206.8L1361.5 203.2L1358.5 202.2L1355 202L1346 202.9L1341.4 202.5L1338.2 201L1337.3 200L1337 199L1337.2 197.5L1338.5 196L1340.5 194.8L1343 194L1348 193.7L1356.5 194.7L1359.5 194.7L1363 193.9L1374 190.1L1381 188.4L1389 187.1L1398.4 186.5M1391.4 188L1399 187.6L1407 187.8L1414.5 188.7L1421.5 190.4L1426.8 192.5L1430.5 195L1431.8 196.5L1432.6 198L1432.8 199.5L1432.6 201L1431.8 202.5L1430.5 204L1426 206.9L1419.5 209.2L1411.5 210.7L1403 211.4L1394 211.2L1385.5 210.2L1377.5 208.2L1371 205.6L1366.2 202.5L1364 200L1363.7 198.5L1364.2 197.5L1365.8 196L1368.2 194.5L1375.5 191.3L1383 189.3L1391.4 188M1345 197L1346.9 197L1348 197.3L1348.8 198L1348.8 198.5L1347 199.5L1344 199.5L1343.2 199L1343 198L1343.6 197.5L1345 197M1392.3 189L1399.5 188.6L1407 188.8L1414.5 189.7L1420.5 191.2L1425 193.1L1428.5 195.5L1430.3 198L1430.5 199.5L1430.3 201L1429.4 202.5L1428 204L1424 206.4L1418.5 208.4L1411.5 209.8L1404 210.4L1395.5 210.3L1387.5 209.3L1380.5 207.7L1374.5 205.3L1370.5 202.5L1368.9 200L1368.9 198.5L1369.3 197.5L1372 195L1377.5 192.3L1384.5 190.2L1392.3 189M1398.4 189.5L1404 189.5L1410 189.9L1415.5 190.9L1420.5 192.3L1424.5 194.2L1427.3 196.5L1428.4 198.5L1428.2 201L1427.3 202.5L1425.7 204L1421.5 206.3L1415.5 208.1L1409 209.2L1401.5 209.6L1394 209.2L1387 208.1L1380.5 206.2L1376.1 204L1373.3 201.5L1372.7 200L1372.6 199L1373.2 197.5L1374 196.5L1377.6 194L1383.5 191.8L1390.5 190.3L1398.4 189.5M1396.1 190.5L1402.5 190.2L1408.5 190.6L1413.5 191.3L1418.5 192.6L1422 194.1L1424.8 196L1426.3 198L1426.7 199.5L1426.5 200.5L1424.8 203L1421.5 205.2L1417 206.9L1410.5 208.2L1404 208.7L1397 208.6L1390.5 207.8L1384.5 206.2L1380 204.3L1377 202L1376.3 201L1375.9 199.5L1376.5 197.5L1379.4 195L1383.5 193.1L1389.5 191.4L1396.1 190.5M1400.8 191L1406 191.1L1411 191.6L1415 192.4L1419 193.7L1422 195.2L1424 197L1424.9 199L1424.6 201L1422.5 203.4L1419 205.3L1414.5 206.7L1408.5 207.7L1402.5 208L1396 207.7L1390 206.7L1384.6 205L1381 203L1379.2 201L1378.8 199.5L1378.9 198.5L1380.4 196.5L1383.5 194.5L1388.5 192.7L1394 191.6L1400.8 191M1396.6 192L1402 191.7L1407 191.8L1411.5 192.4L1416 193.4L1419.5 194.9L1421.9 196.5L1423.2 198.5L1423.2 200.5L1421.9 202.5L1419 204.4L1415 205.9L1410.5 206.8L1405 207.3L1399.5 207.3L1394 206.6L1389 205.4L1385.4 204L1382.5 202L1381.4 200L1381.7 198L1383.7 196L1387 194.3L1391.5 192.9L1396.6 192M1398.5 192.5L1403 192.3L1408 192.5L1412.5 193.2L1416 194.2L1418.8 195.5L1420.8 197L1421.8 198.5L1421.8 200.5L1420.3 202.5L1417.9 204L1414 205.4L1409.5 206.3L1404.5 206.7L1399.5 206.6L1394.5 206L1390 204.8L1386.5 203.2L1384.4 201.5L1383.7 200L1384 198L1386.1 196L1389.2 194.5L1393.5 193.2L1398.5 192.5M1400.1 193L1404.5 192.9L1408.5 193.2L1412 193.8L1415.5 194.8L1418 196L1419.7 197.5L1420.5 199L1420.3 200.5L1419 202.2L1416.5 203.8L1413 205L1409 205.8L1404.5 206.1L1399.5 206L1395 205.3L1391 204.2L1388 202.7L1386.1 201L1385.7 200L1385.7 199L1386.5 197.5L1388.4 196L1391.5 194.6L1395.5 193.6L1400.1 193M1401.7 193.5L1409 193.8L1415 195.4L1417.1 196.5L1418.5 197.8L1419.1 199L1419 200.5L1417.8 202L1415.3 203.5L1412 204.6L1408 205.3L1404 205.5L1399.5 205.3L1395.5 204.7L1392 203.7L1389 202L1387.8 200.5L1387.6 199L1388.5 197.5L1390.6 196L1393.5 194.8L1397.5 193.9L1401.7 193.5M1402.6 194L1409 194.4L1414.5 195.9L1416.4 197L1417.4 198L1417.9 199L1417.7 200.5L1416.4 202L1414 203.3L1411 204.2L1407.5 204.8L1403.5 205L1399.5 204.8L1396 204.2L1393 203.2L1390.8 202L1389.4 200.5L1389.3 199L1390.2 197.5L1392 196.3L1395 195.1L1398.5 194.4L1402.6 194M1398.2 195L1405 194.5L1411 195.4L1413.5 196.2L1415.6 197.5L1416.4 198.5L1416.6 200L1415.6 201.5L1414.1 202.5L1409 204.1L1402.5 204.5L1396.5 203.6L1394 202.8L1391.9 201.5L1391.1 200.5L1390.9 199L1391.9 197.5L1393.4 196.5L1398.2 195M1398.7 195.5L1404.5 195L1410.5 195.8L1414.2 197.5L1415.1 198.5L1415.3 200L1414.7 201L1413.5 202L1411.1 203L1408.5 203.6L1402.5 203.9L1397 203.1L1393.5 201.5L1392.6 200.5L1392.3 199L1392.9 198L1394.3 197L1398.7 195.5M1399.3 196L1405 195.6L1410 196.3L1411.8 197L1413.3 198L1414 199L1414 200L1413.3 201L1412 201.9L1408 203.1L1403 203.4L1398 202.7L1396.1 202L1394.6 201L1393.9 200L1393.9 199L1394.6 198L1395.5 197.3L1399.3 196M1399.9 196.5L1404.5 196.1L1409 196.7L1411.9 198L1412.7 199L1412.7 200L1411.1 201.5L1407.5 202.6L1403 202.9L1399 202.3L1396.2 201L1395.3 199.5L1395.7 198.5L1396.5 197.8L1399.9 196.5M1400.7 197L1404.5 196.7L1408.5 197.2L1410.9 198.5L1411.3 199L1411.3 200L1410 201.2L1407 202.1L1403.5 202.3L1400 201.8L1397.9 201L1397.3 200.5L1396.8 199.5L1397.3 198.5L1397.9 198L1400.7 197M1401.8 197.5L1404.5 197.3L1407 197.6L1409.2 198.5L1409.8 199.5L1409.2 200.5L1407 201.4L1404.5 201.7L1401.5 201.4L1399.2 200.5L1398.5 199.5L1399.2 198.5L1401.8 197.5M1401.8 198.5L1403.5 198.2L1405.5 198.2L1407 198.7L1407.8 199.5L1407.5 200L1406.5 200.6L1403 200.8L1400.9 200L1400.7 199.5L1400.9 199L1401.8 198.5" stroke="#4a4a4a" stroke-width="0.75" fill="none"/>
<path d="M1412.1 178.5h1.3M1343.9 171h1.3M1398.5 178.7h1.3M1408.1 180.4h1.3M1378.2 175.3h1.3M1372.7 179.1h1.3M1409.3 179.8h1.3M1334.1 152.9h1.3M1382.4 169.9h1.3M1359.9 160.8h1.3M1379.6 163.1h1.3M1391 180.3h1.3M1377.1 173.9h1.3M1425.1 173.5h1.3M1425.6 150.9h1.3M1412.8 168.4h1.3M1416.4 178.5h1.3M1385.6 175.5h1.3M1361.5 180.2h1.3M1418.6 180.2h1.3M1345.2 167.9h1.3M1395.4 181h1.3M1399.5 179.6h1.3M1344.5 179.1h1.3M1354.4 170.4h1.3M1403.6 174.1h1.3M1423.1 176.7h1.3M1374 174.6h1.3M1388.8 167.5h1.3M1407.4 176.1h1.3M1394.1 180h1.3M1381.6 163.5h1.3M1400 177.9h1.3M1407.5 164.6h1.3M1417.1 178.2h1.3M1391.9 180.6h1.3M1402.4 176.9h1.3M1353.5 170.8h1.3M1350 176.5h1.3M1418 180.7h1.3M1356.5 165.8h1.3M1378.9 174.8h1.3M1425.9 173.6h1.3M1348.4 179.3h1.3M1404.3 179.6h1.3M1359.1 179.7h1.3M1398.7 178.9h1.3M1418.7 178.3h1.3M1419.1 171.8h1.3M1414.6 172.1h1.3M1387.4 180.9h1.3M1390.1 180.1h1.3M1351.1 177.2h1.3M1345.3 176.1h1.3M1411.5 179.3h1.3M1338.5 176.8h1.3M1430.9 167h1.3M1352.5 177.2h1.3M1408.6 177.9h1.3M1380 178.4h1.3M1397.3 171.8h1.3M1412.4 179.2h1.3M1364.1 178.1h1.3M1419.7 177.8h1.3M1412.3 170.9h1.3M1393.9 173h1.3M1393.3 173h1.3M1373.3 178.8h1.3M1434.8 179.5h1.3M1373.7 174.9h1.3M1358.3 179.6h1.3M1391.6 169.5h1.3M1429.7 168.8h1.3M1430.2 176.8h1.3M1393.7 171.9h1.3M1374.2 178.6h1.3M1411.4 175.1h1.3M1391.7 172.5h1.3M1419.4 179.3h1.3M1420.5 179.8h1.3M1406.7 180.6h1.3M1435.1 171.2h1.3M1401.1 174.5h1.3M1435.3 174.8h1.3M1401.5 155.4h1.3M1355.9 166.4h1.3M1398.9 168.3h1.3M1413.6 176h1.3M1377.4 172.8h1.3M1350.6 180.8h1.3M1369.9 175.1h1.3M1415.1 180.1h1.3M1354.8 180.2h1.3M1334.2 170.1h1.3M1425.3 176.3h1.3M1435 165.1h1.3M1424.2 178.8h1.3M1417.1 173.6h1.3M1409.6 135.5h1.3M1390.9 178.1h1.3M1401.4 174h1.3M1411.4 171.2h1.3M1367.5 173.7h1.3M1354.6 180h1.3M1405.9 174.1h1.3M1396.4 176.5h1.3M1437 177.2h1.3M1376.5 171.3h1.3M1376.5 162.9h1.3M1345.8 174.1h1.3M1334.6 176.2h1.3M1347.6 160h1.3M1395.2 179.6h1.3M1434.2 179.1h1.3M1344.9 170.6h1.3M1349.8 180.4h1.3M1404.6 146.6h1.3M1364.7 180.8h1.3M1337.8 150.1h1.3M1426.2 158.8h1.3M1348.6 169.4h1.3M1378.8 177.2h1.3M1412.2 153.8h1.3M1414.9 170.7h1.3M1433.4 168.4h1.3M1395.2 141.8h1.3M1348.5 175.5h1.3M1341.4 178.6h1.3M1400.5 176.5h1.3M1389.2 173.1h1.3M1359.2 178.7h1.3M1350.3 177.8h1.3M1369.8 146h1.3M1363.2 177.2h1.3M1370.2 180.8h1.3M1369.9 157.4h1.3M1412 157h1.3M1381.5 176.1h1.3M1422 174.7h1.3M1385.7 171.4h1.3M1363.5 174.8h1.3M1430 172.2h1.3M1401.4 172.6h1.3M1421.5 178.2h1.3M1357.5 175.7h1.3M1435.2 174.6h1.3M1399.7 158.2h1.3M1372.3 179.6h1.3M1359.4 176.9h1.3M1343.4 181.1h1.3M1336.5 156.6h1.3M1353.6 179.5h1.3M1365.5 179.6h1.3M1388.7 154.8h1.3M1374.8 179.7h1.3M1337.8 181.2h1.3M1348.2 180.4h1.3M1334.9 183.9h1.3M1337.2 177h1.3M1364.2 177.5h1.3M1400 169.4h1.3M1349.1 180.7h1.3M1425.8 170.9h1.3M1436.7 178h1.3M1397.6 179.3h1.3M1338.1 180.7h1.3M1352.1 180h1.3M1386.7 180.2h1.3M1431.2 180h1.3M1436.1 175.4h1.3M1410.4 176.8h1.3M1426.5 180.2h1.3M1343.2 166h1.3M1386.3 178.5h1.3M1383.2 172.5h1.3M1355.7 180.5h1.3M1392.2 171.8h1.3M1392.1 175.6h1.3M1435 161.9h1.3M1340 180.8h1.3M1364.4 177.1h1.3M1351 175.4h1.3M1356.4 173.9h1.3M1366.4 155.4h1.3M1371.7 172.5h1.3M1433.5 177.1h1.3M1367.5 170.5h1.3M1383.8 169.6h1.3M1350.4 166.8h1.3M1356.2 173h1.3M1355.8 179.7h1.3M1392.7 178.2h1.3M1364.6 178.6h1.3M1362.2 177.3h1.3M1388 175h1.3M1334.7 165.8h1.3M1423.7 179.1h1.3M1338.4 171.9h1.3M1376.2 173.8h1.3M1436.8 179.7h1.3M1350.6 178.6h1.3M1337.7 175.9h1.3M1384 176.2h1.3M1399.2 169.5h1.3M1373.1 163.3h1.3M1356.1 178.2h1.3M1405.6 163.1h1.3M1394.9 177.5h1.3M1369.4 172.6h1.3M1397.6 178.9h1.3M1421.2 179.3h1.3M1387 161.8h1.3M1373.7 176.9h1.3M1397.7 178.8h1.3M1386 163.4h1.3M1343.4 178.1h1.3M1427.8 178.4h1.3M1346 172.6h1.3M1411 179.8h1.3M1378.5 174.7h1.3M1415.3 168.7h1.3M1387.9 178.7h1.3M1419.2 179.4h1.3M1382.3 176h1.3M1359 178.5h1.3M1413.9 170.6h1.3M1419.9 180.9h1.3M1385.8 167.1h1.3M1430.6 181h1.3M1407.3 179.5h1.3M1430.9 174.8h1.3M1353.5 175.8h1.3M1432.1 181h1.3M1413.6 180.1h1.3M1432 174.6h1.3M1369.7 177.3h1.3M1391.4 179.8h1.3M1426.9 172.9h1.3M1403.6 172.8h1.3M1363.3 180.4h1.3M1363.4 162.8h1.3M1432.4 175.1h1.3M1403.5 177.5h1.3M1338.6 179.2h1.3M1360.2 172.2h1.3M1391.5 175.3h1.3M1352.9 177.2h1.3M1381.9 172.8h1.3M1403.1 170.1h1.3M1341.8 166.9h1.3M1359.6 177.2h1.3M1425.5 157.3h1.3M1337.3 180.7h1.3M1344.7 179.7h1.3M1419.1 175.9h1.3M1404 178.2h1.3M1382.5 177.1h1.3M1423.2 177.3h1.3M1354.9 168.9h1.3M1333.6 184.9h1.3M1418.3 179.2h1.3M1400 179.3h1.3M1368.4 170.5h1.3M1393.8 173.8h1.3M1341.5 178.5h1.3M1365.8 180.9h1.3M1392.7 178.5h1.3M1421.7 158.6h1.3M1366.2 176.9h1.3M1339.4 178h1.3M1342.3 145.8h1.3M1365.2 179.3h1.3M1398.8 167.9h1.3M1407.1 176.6h1.3M1406 168.3h1.3M1424.9 176.5h1.3M1404.6 177.1h1.3M1403.4 168.7h1.3M1395.4 168.9h1.3M1403 175.9h1.3M1409.7 178.4h1.3M1435.5 171.7h1.3M1351.9 174.6h1.3M1400.5 155.7h1.3M1346.1 175.9h1.3M1354.6 163.9h1.3M1430.3 178h1.3M1375.5 175.5h1.3M1392.6 174.1h1.3M1355.2 179.2h1.3M1386.6 180.9h1.3M1335.6 165.9h1.3M1394 173.7h1.3M1433.2 179.3h1.3M1405.2 168.1h1.3M1402.9 178.6h1.3M1391.3 179.8h1.3M1366.6 174.1h1.3M1414.2 176.9h1.3M1373.8 162.7h1.3M1368.3 170.5h1.3M1390.5 180.5h1.3M1435.4 172.1h1.3M1410.1 180.8h1.3M1403.8 166.3h1.3M1346.4 174h1.3M1417.9 173.3h1.3M1377.4 172.1h1.3M1399 175.9h1.3M1391.9 169.9h1.3M1415.5 172.6h1.3M1336.4 182.9h1.3M1343.2 162.2h1.3M1362.5 170.8h1.3M1354.3 180.2h1.3M1404.6 173.2h1.3M1345.3 171.8h1.3M1342.7 176.2h1.3M1388.6 154.1h1.3M1340 180.7h1.3M1416.4 175.7h1.3M1367.6 170.3h1.3M1364.7 180.8h1.3M1395.7 180.6h1.3M1435.5 180.9h1.3M1362.7 170.7h1.3M1356.7 175.7h1.3M1371.7 170.4h1.3M1414.8 178.5h1.3M1431 173.2h1.3M1349.2 175.1h1.3M1336.1 177.4h1.3M1365.1 152.7h1.3M1366.7 179.8h1.3M1411.5 179.2h1.3M1404.5 178.3h1.3M1411.5 175.2h1.3M1374.2 149.3h1.3M1378 138.5h1.3M1431.9 165.4h1.3M1338.1 178.6h1.3M1335.2 181.1h1.3M1334.8 171.7h1.3M1418.8 172.2h1.3M1387.4 179.9h1.3M1406 179.7h1.3M1401.6 179.9h1.3M1418.4 169.3h1.3M1388.6 176.4h1.3M1367.5 164.8h1.3M1344.8 176.5h1.3M1376.2 167.9h1.3M1353.5 173.2h1.3M1430.3 178.8h1.3M1413.1 179.2h1.3M1362.9 178.9h1.3M1386.7 176.8h1.3M1382.3 162.8h1.3M1396.5 155.6h1.3M1432.4 180.7h1.3M1361.9 174.9h1.3M1397.5 170.9h1.3M1386 179.2h1.3M1433.2 173.5h1.3M1355.9 169.7h1.3M1401 159.2h1.3M1342.5 173.3h1.3M1390.1 177.4h1.3M1433.8 179.6h1.3M1408.5 177.2h1.3M1336.3 183.9h1.3M1436.3 165.4h1.3M1389.7 180.2h1.3M1393.9 166.4h1.3M1432.3 178.5h1.3M1394.4 161.9h1.3M1356.2 173.2h1.3M1378.1 174.9h1.3M1411.7 170.8h1.3M1374.6 176.9h1.3M1350.7 174.8h1.3M1373.9 173h1.3M1343.8 168.6h1.3M1343.5 175.4h1.3M1345.8 180.2h1.3M1386.5 176.6h1.3M1366.7 176.8h1.3M1351.9 166.8h1.3M1410.6 180.9h1.3M1397.2 175.1h1.3M1419.1 174.9h1.3M1349.9 166.4h1.3M1398.1 178.9h1.3M1360.6 166.4h1.3M1385 177.3h1.3M1379.9 173.8h1.3M1394.2 180.2h1.3M1392.9 169.8h1.3M1429.4 178.5h1.3M1398.6 169.1h1.3M1369.9 173.6h1.3M1416.4 177.8h1.3M1349.9 175.2h1.3M1414.4 174.9h1.3M1393.6 181h1.3M1360.3 168.8h1.3M1412 175.1h1.3M1345 154.4h1.3M1336.7 176.5h1.3M1361.5 180.9h1.3M1386 173.6h1.3M1399.2 169.2h1.3M1366 179h1.3M1393.8 180.7h1.3M1436 175.8h1.3M1437.8 176h1.3M1408.7 179.4h1.3M1364.7 180.7h1.3M1383.1 177.9h1.3M1417.8 171.3h1.3M1426.2 175.7h1.3M1432.9 173.7h1.3M1373.7 175.9h1.3M1368.5 172.6h1.3M1368.3 152.1h1.3M1415.4 180.7h1.3M1433.5 179.3h1.3M1392.1 175.9h1.3M1379.5 177.1h1.3M1403 177.1h1.3M1399.2 131.7h1.3M1358.1 167.1h1.3M1357.5 164.7h1.3M1383.5 145.3h1.3M1348 171.2h1.3M1368.5 163.5h1.3M1372.1 152.6h1.3M1357.8 163.3h1.3M1381.4 141.6h1.3M1350.9 161.1h1.3M1382.2 146.1h1.3M1353.8 171.9h1.3M1379.3 150h1.3M1398.9 125.6h1.3M1387.5 141.2h1.3M1401.8 133.7h1.3M1376.2 146.9h1.3M1362.2 156.6h1.3M1364.1 159.6h1.3M1392.1 141.7h1.3M1353.5 168h1.3M1380.7 137.4h1.3M1368.5 153h1.3M1397.8 136.1h1.3M1362.7 159.7h1.3M1363 159.8h1.3M1364.6 159.4h1.3M1372.2 150.2h1.3M1403.9 129.2h1.3M1378.5 147.7h1.3M1386.6 137.1h1.3M1379.6 150.5h1.3M1356.4 167h1.3M1380.8 150.1h1.3M1379.8 148.9h1.3M1385.4 143.5h1.3M1367.6 165.6h1.3M1357.9 156.6h1.3M1363.8 159.4h1.3M1347 174.4h1.3M1353.7 169.5h1.3M1357.2 152h1.3M1377.6 153.5h1.3M1397.3 137.1h1.3M1385.6 146.9h1.3M1379.5 142.1h1.3M1384.3 138.8h1.3M1370.7 152.5h1.3M1349.5 168.4h1.3M1383 147.2h1.3M1385.1 139.3h1.3M1385.2 148.1h1.3M1393.7 137.3h1.3M1394.1 133.3h1.3M1390 132.9h1.3M1349.2 168.4h1.3M1397.3 129.3h1.3M1378.6 150.2h1.3M1376.9 145.9h1.3M1384.8 148.8h1.3M1363.6 154.9h1.3M1364.6 148.3h1.3M1401.2 133.1h1.3M1384.4 147.8h1.3M1402.1 129.4h1.3M1355.4 159.5h1.3M1374 148.3h1.3M1379.5 153h1.3M1346.9 170h1.3M1378.9 142.5h1.3M1366.6 152.5h1.3M1364.6 160.4h1.3M1361.3 163.9h1.3M1375.5 148.6h1.3M1381.5 147.3h1.3M1397.8 137.4h1.3M1387.8 132.6h1.3M1403.9 133.2h1.3M1403.7 133h1.3M1384.2 143.6h1.3M1358.2 163.5h1.3M1374.7 146.8h1.3M1344.6 168.1h1.3M1382.3 145.8h1.3M1363.3 161.5h1.3M1373.6 146.6h1.3M1385 141.1h1.3M1351.3 165.6h1.3M1400 133.9h1.3M1343.9 169.1h1.3M1371.5 150.5h1.3M1352.4 163.1h1.3M1350.4 169.7h1.3M1373.4 150.6h1.3M1368.1 153.5h1.3M1350.1 172.4h1.3M1390.7 134.4h1.3M1357.4 160.6h1.3M1401.4 128.8h1.3M1374.7 149.3h1.3M1368.4 153.6h1.3M1350.2 171.2h1.3M1392.2 139.3h1.3M1349.1 173.1h1.3M1393 142.8h1.3M1381.8 151.4h1.3M1370 148.2h1.3M1352.3 173.1h1.3M1375.3 158.1h1.3M1344.9 174.2h1.3M1387.9 142h1.3M1381.6 141.9h1.3M1353.1 164.4h1.3M1374.3 153.9h1.3M1354.6 168.8h1.3M1383.4 137.8h1.3M1351.3 167.1h1.3M1351.2 165.5h1.3M1358.7 162.9h1.3M1402.5 131.2h1.3M1390.1 140.7h1.3M1365.8 158.3h1.3M1392.7 141h1.3M1368.1 151.7h1.3M1354 166.8h1.3M1394.2 133.6h1.3M1350.2 166.5h1.3M1391.6 140.4h1.3M1397 126h1.3M1351.5 171.5h1.3M1394 141h1.3M1393.4 136.8h1.3M1345.5 173.4h1.3M1373.8 154.5h1.3M1362 163.1h1.3M1364.2 150.8h1.3M1370.9 157.8h1.3M1371.1 155.6h1.3M1342.1 174.2h1.3M1367.8 160.4h1.3M1358.4 163.4h1.3M1379.3 145.1h1.3M1383.9 144.5h1.3M1390.6 144.6h1.3M1383.6 145.3h1.3M1395.8 137.1h1.3M1381.7 149h1.3M1364.9 160.4h1.3M1352.9 168.5h1.3M1396.1 143.5h1.3M1378.1 152.2h1.3M1346.5 164.8h1.3M1373.1 152.9h1.3M1395.3 133h1.3M1380.2 142.2h1.3M1363.6 160h1.3M1387.1 142h1.3M1364.2 153.5h1.3M1346 165.3h1.3M1349.8 169.4h1.3M1391.1 128.5h1.3M1354.5 174.6h1.3M1390 138.3h1.3M1347.7 170.8h1.3M1370.7 151.7h1.3M1358.3 160.9h1.3M1365.1 155.4h1.3M1354.6 165.1h1.3M1372.1 154.6h1.3M1390.1 136.7h1.3M1374.4 154.1h1.3M1350.6 162.4h1.3M1395.6 137.2h1.3M1396.6 132.3h1.3M1370.1 147.8h1.3M1358.8 162.4h1.3M1344 164.1h1.3M1343.4 174.1h1.3M1371.2 151.1h1.3M1353 167.6h1.3M1397.8 138.2h1.3M1381.1 137.1h1.3M1372.4 154h1.3M1382.9 151.5h1.3M1350.8 165.5h1.3M1396.9 130.8h1.3M1369.8 150.5h1.3M1379.3 138.7h1.3M1356.8 164.7h1.3M1380.8 156.9h1.3M1391.3 140.1h1.3M1367.8 155.9h1.3M1348.4 173.5h1.3M1373 158.8h1.3M1395.7 134.7h1.3M1366.9 153.3h1.3M1394.5 128.1h1.3M1383.8 145.8h1.3M1396.4 132.8h1.3M1353.3 168.6h1.3M1356.8 115.8h1.3M1350.2 143.6h1.3M1382.3 143.4h1.3M1404.3 146.8h1.3M1431.9 129.9h1.3M1387.4 51.4h1.3M1396.7 139.2h1.3M1417.8 116.1h1.3M1419.8 130.5h1.3M1398 138.1h1.3M1399.6 149.9h1.3M1448.6 95.5h1.3M1392.4 137.1h1.3M1388.4 143.8h1.3M1359.5 146.7h1.3M1411.9 137.4h1.3M1394.2 136.8h1.3M1449.5 46.8h1.3M1392.4 120.7h1.3M1421.6 128.2h1.3M1424.7 145.7h1.3M1442.9 98.1h1.3M1367.6 137.2h1.3M1440.8 146.1h1.3M1401.3 139.8h1.3M1398.3 143.3h1.3M1393 96.9h1.3M1390.9 105.7h1.3M1392.2 149.8h1.3M1341.5 145.5h1.3M1413.9 135.4h1.3M1402.5 140h1.3M1376.7 148.3h1.3M1399.3 145.5h1.3M1459.4 143h1.3M1410.6 147.2h1.3M1391.1 131.8h1.3M1444.4 145.3h1.3M1380.7 144.2h1.3M1397 143.9h1.3M1386.9 115.5h1.3M1394.9 144h1.3M1419.5 106.5h1.3M1415.6 110.8h1.3M1382.3 139.3h1.3M1397.6 131.6h1.3M1403.1 131.3h1.3M1390.5 143.6h1.3M1400 129.8h1.3M1382.6 149.8h1.3M1382.2 143h1.3M1402 123h1.3M1374.7 143.9h1.3M1411.5 92.8h1.3M1395.9 130h1.3M1377.5 148.8h1.3M1385.3 139.1h1.3M1388.7 130.3h1.3M1396.8 123.7h1.3M1403.7 140.6h1.3M1395.5 149.2h1.3M1378.8 147.5h1.3M1437.1 112.9h1.3M1423.7 144.9h1.3M1403.6 146h1.3M1424.9 124.6h1.3M1409.1 118.3h1.3M1394.3 140.5h1.3M1403 104.2h1.3M1468.2 137h1.3M1425.9 116.5h1.3M1427.1 144.6h1.3M1390.8 148.1h1.3M1415.9 138.9h1.3M1457.8 128.2h1.3M1411.6 128.2h1.3M1427.9 149.3h1.3M1432.5 147.9h1.3M1417 141h1.3M1440.5 126.4h1.3M1406.6 128.9h1.3M1413.3 145.6h1.3M1384.9 91.9h1.3M1467.3 99.4h1.3M1408.4 94h1.3M1403.6 138.7h1.3M1435.8 141.6h1.3M1388.5 125.7h1.3M1400.6 149.4h1.3M1381 142.7h1.3M1401.3 131.7h1.3M1391 138.5h1.3M1414.4 139.9h1.3M1397.5 137.1h1.3M1385.7 138.9h1.3M1393.3 98.9h1.3M1397.7 142.4h1.3M1387.8 139.9h1.3M1424.3 146.2h1.3M1417.6 142.8h1.3M1404.4 89.1h1.3M1370.8 130.3h1.3M1413.7 148.8h1.3M1368.6 133.5h1.3M1405.4 122.4h1.3M1401.9 148.3h1.3M1385.9 138.7h1.3M1379.8 130.9h1.3M1383.2 142.8h1.3M1452.3 118.1h1.3M1357.8 74.8h1.3M1370.8 83.9h1.3M1350.6 54.2h1.3M1352.9 66.8h1.3M1333.9 59.8h1.3M1370.2 53.2h1.3M1344.7 51h1.3M1341.1 74.6h1.3M1345.6 66.3h1.3M1339.3 61.4h1.3M1348.6 30h1.3M1371.9 100.7h1.3M1364.5 57h1.3M1374.2 70.1h1.3M1375.1 53.8h1.3M1338.7 78.4h1.3M1359.8 47.8h1.3M1375.3 73.8h1.3M1387.5 69.2h1.3M1330.8 87.2h1.3M1330.7 54.5h1.3M1359.6 61.7h1.3M1347.3 68.4h1.3M1337.2 106.2h1.3M1358.2 48.3h1.3M1340.4 77h1.3M1317.8 61.6h1.3M1352 77.3h1.3M1354.3 82.8h1.3M1362.1 74.5h1.3M1366.8 76.5h1.3M1355.2 76.7h1.3M1348.8 62.7h1.3M1342.2 68.7h1.3M1327.2 45.3h1.3M1345.7 66.4h1.3M1367.6 59.7h1.3M1362.3 68h1.3M1383.7 84.1h1.3M1350 78.4h1.3M1325.1 79.8h1.3M1365 90.1h1.3M1368.2 33.5h1.3M1334.5 79.1h1.3M1327.7 71.8h1.3M1418.1 101.8h1.3M1392.7 85h1.3M1431.7 82.4h1.3M1444.3 94.8h1.3M1441.7 89.5h1.3M1418.4 70.4h1.3M1433.6 127.2h1.3M1439.5 75.6h1.3M1458.4 105.5h1.3M1445.9 123.5h1.3M1423.1 72h1.3M1422.1 87h1.3M1423.6 67.9h1.3M1424.9 107.1h1.3M1409.7 78h1.3M1436.3 62h1.3M1405.6 112.7h1.3M1403.3 104.3h1.3M1427.6 66.4h1.3M1408.1 109.9h1.3M1415 89.2h1.3M1376.5 142.1h1.3M1323.2 212h1.3M1334.8 217.5h1.3M1324 202.2h1.3M1325.1 211.4h1.3M1340.6 218.7h1.3M1333.8 188.9h1.3M1316.6 206.4h1.3M1340.2 209.7h1.3M1314.5 193.2h1.3M1324.4 199.6h1.3M1324 192.8h1.3M1317.5 205.2h1.3M1329.5 213.5h1.3M1313.4 191.6h1.3M1311.7 204.6h1.3M1329.6 181.4h1.3M1313.7 208.6h1.3M1321 213h1.3M1328.3 209.6h1.3M1321.3 209.8h1.3M1312 218h1.3M1300.7 197.4h1.3M1310.8 206.4h1.3M1339.5 181.9h1.3M1321.9 214.2h1.3M1336.8 185.3h1.3M1307.8 210.1h1.3M1314.1 199.8h1.3M1338.4 184.3h1.3M1317.1 181.4h1.3M1337.6 190.2h1.3M1310.6 196.9h1.3M1324.2 204.8h1.3M1319.5 191.6h1.3M1317.6 190.3h1.3M1338.3 212.9h1.3M1332.3 214.1h1.3M1337.4 186.4h1.3M1319.7 188.9h1.3M1329.3 188.7h1.3M1326.7 211.1h1.3M1339.3 188.2h1.3M1315.4 209.7h1.3M1331.8 209.5h1.3M1312 206.9h1.3M1317.3 205.7h1.3M1336.9 213h1.3M1326.4 181.9h1.3M1330.4 184.4h1.3M1329.9 207.1h1.3M1310 196.1h1.3M1334.9 192.9h1.3M1313.2 205.4h1.3M1314.2 198.6h1.3M1326.2 207.3h1.3M1311.9 200.7h1.3M1318.7 207.5h1.3M1322.3 180.2h1.3M1329 211.6h1.3M1339.5 219.6h1.3M1331.9 180.3h1.3M1328.4 210.9h1.3M1316.7 196.9h1.3M1313.5 186.6h1.3M1317.2 207.2h1.3M1335.7 183.7h1.3M1317.2 206.5h1.3M1328.2 208.8h1.3M1336.4 212.8h1.3M1334.1 187.2h1.3M1328 207.6h1.3M1333.2 185.2h1.3M1303.4 202h1.3M1335.4 179.3h1.3M1334.4 213.6h1.3M1329.1 184.6h1.3M1340.4 182.6h1.3M1313.5 186.4h1.3M1329.8 214.1h1.3M1341.5 185.7h1.3M1326 187.1h1.3M1320.9 214.4h1.3M1340.2 176.4h1.3M1334.8 211.9h1.3M1333.6 207.4h1.3M1341.2 216.2h1.3M1313.8 194.4h1.3M1312.9 204h1.3M1333.5 217.4h1.3M1311.8 199.4h1.3M1333.2 188.4h1.3M1335.5 207.9h1.3M1315.3 192.2h1.3M1329.8 209.4h1.3M1310.7 198.4h1.3M1321.5 204.7h1.3M1320.8 208.7h1.3M1340.1 209.5h1.3M1314.9 195.3h1.3M1314.9 201.6h1.3M1315.2 188.7h1.3M1322.8 215.8h1.3M1340.5 184.7h1.3M1339.9 211.3h1.3M1320.1 217h1.3M1313.5 191.5h1.3M1329.3 215h1.3M1318.4 211.3h1.3M1304.6 198.9h1.3M1318.3 185.1h1.3M1329 182.9h1.3M1313.9 209.2h1.3M1319.7 192.6h1.3M1339.7 212.1h1.3M1332.5 184.8h1.3M1316.2 190.5h1.3M1333.3 184.3h1.3M1323.2 212.3h1.3M1312 199.2h1.3M1322.3 188.8h1.3M1339.2 209h1.3M1326.5 182.9h1.3M1316.2 188h1.3M1326.4 188.7h1.3M1326.8 214.1h1.3M1321.9 185.8h1.3M1312.5 195.5h1.3M1332.2 207.8h1.3M1332.2 209.8h1.3M1330.5 186.6h1.3M1305.8 205.8h1.3M1322.9 207.8h1.3M1316.4 205.1h1.3M1321.9 192.1h1.3M1330.8 211.8h1.3M1327.2 213.7h1.3M1324.9 194.7h1.3M1335.7 192.7h1.3M1313.7 189.5h1.3M1337.1 184h1.3M1321.4 207.9h1.3M1311 207.6h1.3M1310 206.6h1.3M1324.8 203.1h1.3M1320.6 209.3h1.3M1321.2 183.5h1.3M1321.6 207.8h1.3M1314.8 203h1.3M1307.3 200.7h1.3M1341.5 185h1.3M1321.7 205.3h1.3M1320.4 191.1h1.3M1322.3 205.1h1.3M1323.4 184.7h1.3M1322.3 202.7h1.3M1340.6 216.9h1.3M1320.7 198.2h1.3M1315.9 207h1.3M1325.5 206.6h1.3M1319.7 208.2h1.3M1342.7 216.8h1.3M1315.9 185.9h1.3M1305.8 195.9h1.3M1315.4 192.3h1.3M1312.3 195.4h1.3M1313.2 205.2h1.3M1309.2 201.4h1.3M1314.3 200.1h1.3M1334 180.9h1.3M1314.1 207h1.3M1440.2 208.7h1.3M1437.7 198.7h1.3M1438 187.8h1.3M1447.7 180.9h1.3M1445.7 190.4h1.3M1449.2 196.1h1.3M1439.2 200.2h1.3M1440 206.4h1.3M1441.1 191.5h1.3M1458.2 189.4h1.3M1444.1 203.6h1.3M1437.5 207.3h1.3M1437.4 192.3h1.3M1437.9 199.7h1.3M1444.3 209.1h1.3M1440.4 199.5h1.3M1444.1 196.1h1.3M1439.9 177.9h1.3M1444.3 208.6h1.3M1438.3 202.5h1.3M1440.9 197.8h1.3M1448 192.4h1.3M1439.5 185.4h1.3M1438.8 195.7h1.3M1440.3 195.7h1.3M1438 206.5h1.3M1438.6 185.7h1.3M1437.6 209.6h1.3M1441.3 197h1.3M1438 207.4h1.3M1442.6 187.9h1.3M1439.7 199.8h1.3M1450.7 207.7h1.3M1437.2 197.7h1.3M1438.4 183.4h1.3M1442.4 193.7h1.3M1438.7 201.5h1.3M1446 184h1.3M1437.9 183.6h1.3M1437.4 198.8h1.3M1439.2 188.1h1.3M1443.4 202.8h1.3M1439.5 186h1.3M1440 180.1h1.3M1438.1 189.6h1.3M1450.1 210.1h1.3M1444.3 188.9h1.3M1448.8 196.6h1.3M1445.1 198.9h1.3M1438.2 188.1h1.3M1452.8 206.5h1.3M1441 198.2h1.3M1437.3 200.7h1.3M1440.9 181.5h1.3M1437.5 180.9h1.3M1444 171.8h1.3M1445 194.9h1.3M1438.4 194.6h1.3M1437.1 203.2h1.3M1437.9 210h1.3M1437.2 194.4h1.3M1439.6 194.2h1.3M1445.8 200.7h1.3M1438.4 210.4h1.3M1446.6 189.2h1.3M1439.3 202.3h1.3M1443.4 194.4h1.3M1443.3 193.6h1.3M1440.5 204h1.3M1440.2 189.5h1.3M1440.1 187h1.3M1443.8 202.7h1.3M1437 196.4h1.3M1437.1 194.3h1.3M1452.5 195.5h1.3M1438.2 201.1h1.3M1453.3 193.3h1.3M1440.1 203.6h1.3M1437.8 200.4h1.3M1445.9 210h1.3M1444.9 208.1h1.3M1439.8 204.4h1.3M1439.1 194.9h1.3M1440.2 197.7h1.3M1437.2 191.3h1.3M1439.6 222.4h1.3M1446.5 194.7h1.3M1445 201.7h1.3M1439.1 208.9h1.3M1437.5 184.4h1.3M1407.4 222.8h1.3M1394.2 220.6h1.3M1407.6 214.1h1.3M1408.8 215.1h1.3M1417.6 219.7h1.3M1385.3 218.5h1.3M1394.9 225h1.3M1361.3 216.4h1.3M1387.6 216.8h1.3M1344.4 218.3h1.3M1435.2 214.2h1.3M1432.6 216.4h1.3M1342.7 219.1h1.3M1336.1 215.6h1.3M1376.5 219.8h1.3M1390.3 214.5h1.3M1385.3 216.8h1.3M1370.4 214.3h1.3M1400.4 214.9h1.3M1377.1 220.5h1.3M1377.6 216.4h1.3M1338.4 216.3h1.3M1397.3 214.8h1.3M1343.7 215.4h1.3M1425.1 215.2h1.3M1385.1 217.3h1.3M1372.2 215.1h1.3M1404.4 215.7h1.3M1428 215h1.3M1352.7 216.1h1.3M1377.1 214.7h1.3M1437.2 215.8h1.3M1425.7 214.2h1.3M1376.1 215.2h1.3M1373 219.1h1.3M1420.7 218h1.3M1343.8 215.6h1.3M1347.5 214.7h1.3M1395 217h1.3M1394.7 215.6h1.3M1394.8 218.4h1.3M1415.3 216h1.3M1427.5 215.1h1.3M1377 214.2h1.3M1369.2 221.2h1.3M1424.2 217.1h1.3M1360.7 216h1.3M1426.9 214.9h1.3M1409.2 223.1h1.3M1423.9 217.9h1.3M1401.9 217.2h1.3M1346.1 214.7h1.3M1410 215.2h1.3M1387.1 215.7h1.3M1354.3 214.9h1.3M1345.7 214.9h1.3M1362.6 215.8h1.3M1348.2 219.2h1.3M1349.2 219.4h1.3M1423.6 218.3h1.3M1474 178h1.3M1476 189h1.3M1490 162h1.3M1510 151h1.3M1459 123h1.3" stroke="#222" stroke-width="1.3" fill="none" opacity="1.0"/>
</g>
<path d="M1263.8 22H1529.8V287.4" fill="none" stroke="#5a5a5a" stroke-width="1.3"/><path d="M1263.8 22V287.4H1529.8" fill="none" stroke="#111" stroke-width="1.45" stroke-linecap="square"/>
<path d="M1263.8 45.7h-7.6M1263.8 109.6h-7.6M1263.8 182.3h-7.6M1263.8 269.6h-7.6" stroke="#111" stroke-width="1.7" fill="none"/><path d="M1263.8 186.3h-3.6M1263.8 190.7h-3.6M1263.8 194.7h-3.6M1263.8 199.1h-3.6M1263.8 204h-3.6M1263.8 209.5h-3.6M1263.8 216.1h-3.6M1263.8 234.8h-3.6M1263.8 240.3h-3.6M1263.8 245.8h-3.6M1263.8 251.3h-3.6M1263.8 256.8h-3.6M1263.8 261.2h-3.6M1263.8 265.6h-3.6M1263.8 27.3h-3.6M1263.8 160.4h-3.6M1263.8 147.6h-3.6M1263.8 138.5h-3.6M1263.8 131.5h-3.6M1263.8 125.7h-3.6M1263.8 120.9h-3.6M1263.8 116.6h-3.6M1263.8 112.9h-3.6M1263.8 90.4h-3.6M1263.8 79.1h-3.6M1263.8 71.1h-3.6M1263.8 64.9h-3.6M1263.8 59.9h-3.6M1263.8 55.6h-3.6M1263.8 51.9h-3.6M1263.8 48.6h-3.6" stroke="#111" stroke-width="1.25" fill="none"/><rect x="1259.2" y="221.1" width="4.6" height="7.6" fill="#111"/><path d="M1263.8 224.9h-7.2M1263.8 221.8h-7.2M1263.8 228h-7.2" stroke="#111" stroke-width="1.4" fill="none"/>
<path d="M1279.2 287.4v7.6M1356.8 287.4v7.6M1422.2 287.4v7.6M1478.5 287.4v7.6" stroke="#111" stroke-width="1.7" fill="none"/><path d="M1284.5 287.4v3.6M1290 287.4v3.6M1295.5 287.4v3.6M1301 287.4v3.6M1306.5 287.4v3.6M1328 287.4v3.6M1333.5 287.4v3.6M1339 287.4v3.6M1344 287.4v3.6M1348.5 287.4v3.6M1352.5 287.4v3.6M1376.5 287.4v3.6M1388 287.4v3.6M1396.2 287.4v3.6M1402.5 287.4v3.6M1407.7 287.4v3.6M1412.1 287.4v3.6M1415.9 287.4v3.6M1419.2 287.4v3.6M1439.1 287.4v3.6M1449.1 287.4v3.6M1456.1 287.4v3.6M1461.6 287.4v3.6M1466 287.4v3.6M1469.8 287.4v3.6M1473 287.4v3.6M1475.9 287.4v3.6M1494.2 287.4v3.6M1503.5 287.4v3.6M1510 287.4v3.6M1515.1 287.4v3.6M1519.2 287.4v3.6M1522.7 287.4v3.6M1525.7 287.4v3.6M1528.4 287.4v3.6" stroke="#111" stroke-width="1.25" fill="none"/><rect x="1314.2" y="287.4" width="6.8" height="4.6" fill="#111"/><path d="M1317.7 287.4v7.2M1314.9 287.4v7.2M1320.4 287.4v7.2" stroke="#111" stroke-width="1.4" fill="none"/>
<rect x="1362.8" y="183.3" width="105.3" height="83.5" fill="none" stroke="#111" stroke-width="1.55"/>
<path d="M1490.5 199.8L1558.4 199.8" stroke="#D62C36" stroke-width="2.3" fill="none"/><path d="M1580.2 199.8L1557.8 210.9L1557.8 188.7Z" fill="#F92A2F" stroke="#D0303A" stroke-width="0.8" stroke-linejoin="miter"/>
<text x="1263.5" y="333.3" font-size="29.0" text-anchor="start" fill="#000" stroke="#000" stroke-width="0.5"><tspan>TCR</tspan><tspan font-weight="bold">β</tspan><tspan> - PE</tspan></text>
<text x="1235.5" y="278" font-size="28.9" text-anchor="start" font-weight="normal" font-style="normal" fill="#000" stroke="#000" stroke-width="0.5" transform="rotate(-90 1235.5 278)">Live/Dead Yellow</text>
<clipPath id="c5"><rect x="1634.8" y="22" width="266.3" height="265.4"/></clipPath>
<g clip-path="url(#c5)">
<path d="M1793.2 198.5L1797 198.1L1800.5 198.9L1804 200.9L1806.7 203.5L1809.2 207L1811.3 211.5L1812.8 216.5L1813.7 222.5L1813.7 228L1812.8 234L1811.4 239L1809.3 243.5L1806.5 247.5L1803.5 250.3L1800.5 251.9L1797 252.7L1793.5 252.3L1790.5 251.1L1787.3 249L1784.2 246L1780.8 241.5L1777 234.7L1773.3 229L1772.1 226.5L1771.6 224L1771.9 221.5L1773.3 218.5L1783.2 205.5L1785.6 203L1788 201L1790.5 199.5L1793.2 198.5M1794.1 200.5L1797.5 200.3L1800.5 201.1L1803.5 202.9L1806.1 205.5L1808.5 209L1810.2 213L1811.6 218L1812.3 223L1812.2 228L1811.6 233L1810.3 237.5L1808.3 242L1806 245.5L1803 248.3L1800 249.9L1797 250.5L1794 250.2L1791 249.1L1788.5 247.4L1785.6 244.5L1782.7 240.5L1779 233.7L1775.4 228L1774.5 226L1774.1 224L1774.5 221.5L1775.6 219L1785.2 206.5L1789.5 202.5L1792 201.2L1794.1 200.5M1793.7 202.5L1796.5 202.1L1799.5 202.6L1802.5 204.1L1805 206.4L1807.2 209.5L1809.1 213.5L1810.3 217.5L1811 222.5L1811.1 227L1810.6 231.5L1809.4 236.5L1807.7 240.5L1805.5 243.8L1803 246.3L1800.5 247.9L1797.5 248.7L1795 248.6L1792 247.6L1789.5 246L1786.9 243.5L1784.1 239.5L1780.5 232.6L1777.7 228L1776.8 226L1776.4 224L1776.6 222L1777.7 219.5L1785.7 208.5L1789.5 204.7L1791.5 203.4L1793.7 202.5M1795.4 204L1798 204L1800.5 204.9L1803 206.6L1805.2 209L1807.3 212.5L1808.6 216L1809.5 220L1809.9 224L1809.8 228.5L1809.2 232.5L1808 236.5L1806.4 240L1804.3 243L1802 245.1L1799.5 246.4L1797 246.9L1794.5 246.6L1792 245.6L1789.5 243.8L1787.5 241.6L1785.1 238L1779.8 227.5L1778.8 224L1779 222L1780.2 219.5L1787.5 209L1789.5 206.9L1791.5 205.4L1793.5 204.5L1795.4 204M1794.5 206L1797 205.7L1799.5 206.2L1802 207.7L1803.8 209.5L1805.9 212.5L1807.2 215.5L1808.2 219L1808.8 223L1808.8 227L1808.4 231L1807.3 235L1806 238L1804.2 241L1802 243.2L1800 244.5L1797.5 245.2L1795.5 245.1L1793 244.3L1790.5 242.6L1788.5 240.5L1785.3 235L1781.9 227.5L1781.1 224.5L1781.2 222.5L1782.1 220L1787.1 212L1790.5 208.2L1792.5 206.8L1794.5 206M1795.3 207.5L1797.5 207.4L1799.5 207.9L1801.5 209.1L1803.5 211.1L1805 213.5L1806.4 216.5L1807.3 220L1807.7 223.5L1807.8 227L1807.4 230.5L1806.5 234L1805.2 237L1803.5 239.8L1801.5 241.9L1799.5 243.1L1797.5 243.6L1795 243.3L1793 242.5L1791 241L1789.2 239L1787.3 236L1785.7 232.5L1783.7 227.5L1783.1 224.5L1783.2 222.5L1784 220L1788.1 213L1791.5 209.3L1793.5 208.1L1795.3 207.5M1795.6 209L1797.5 208.9L1799.5 209.4L1801.5 210.7L1803.1 212.5L1804.6 215L1805.8 218L1806.8 224L1806.3 230.5L1805.4 234L1804.3 236.5L1802.7 239L1801 240.7L1799.5 241.6L1797.5 242.1L1795.5 241.9L1793.5 241.1L1791.5 239.5L1789.7 237.5L1788 234.5L1786.3 230.5L1785.1 227L1784.8 224.5L1784.9 222.5L1785.7 220L1788.7 214.5L1792 210.8L1794 209.5L1795.6 209M1795.5 210.5L1797.5 210.3L1799 210.6L1800.5 211.4L1802.1 213L1803.5 215L1804.6 217.5L1805.3 220L1805.9 223.5L1805.6 229.5L1804.8 233L1803.7 235.5L1802.5 237.6L1801 239.2L1799.5 240.3L1797.5 240.8L1796 240.6L1794 239.8L1792.3 238.5L1790.6 236.5L1787.8 231L1786.7 227.5L1786.3 225L1786.8 221L1789.2 216L1792.1 212.5L1794 211.1L1795.5 210.5M1795.2 212L1797 211.6L1798.5 211.7L1800 212.4L1801.5 213.8L1802.7 215.5L1803.9 218L1805 223L1804.9 229L1803.5 234L1802.5 236L1801 237.9L1799.5 239L1798 239.5L1796.5 239.5L1795 238.9L1793.5 237.9L1791.7 236L1789.2 231.5L1787.7 226L1787.9 222L1789.5 218L1792.4 214L1795.2 212M1795.9 213L1797.5 212.7L1799 213.1L1801.4 215L1803.2 218.5L1804.3 223.5L1804.2 228.5L1802.9 233.5L1801.9 235.5L1800.6 237L1799.5 237.9L1798 238.4L1796.5 238.3L1795 237.6L1792.4 235L1790.1 230.5L1789 225.5L1789.3 222L1790.9 218L1793.5 214.6L1795.9 213M1796.4 214L1797.5 213.8L1799 214.2L1801.1 216L1802.9 219.5L1803.7 224L1803.6 228.5L1802.4 233L1800.5 236L1799.5 236.8L1798 237.4L1796.5 237.2L1795.5 236.8L1793.2 234.5L1791.2 230.5L1790.2 226L1790.4 222.5L1791.6 219L1794 215.6L1796.4 214M1796.6 215L1798 214.9L1799 215.2L1801 217L1802.6 220.5L1803.2 224.5L1803 229L1801.9 232.5L1800 235.4L1798 236.4L1796.5 236.2L1795.5 235.6L1793.6 233.5L1792.1 230L1791.3 226L1791.5 222.5L1792.7 219L1794.5 216.4L1796.6 215M1796.6 216L1798.5 215.9L1800.5 217.5L1802 220.5L1802.7 224.5L1802.5 228.5L1801.5 232L1800 234.4L1798 235.5L1796 235L1794.2 233L1792.9 230L1792.2 226.5L1792.3 223L1793.2 220L1794.7 217.5L1796.6 216M1796.5 217L1797.5 216.7L1798.5 216.8L1800.1 218L1801.4 220.5L1802.2 224L1802.2 227.5L1801.4 231L1800 233.4L1799 234.3L1798 234.6L1796.5 234.3L1794.7 232.5L1793.6 230L1792.9 226.5L1793 223.5L1793.8 220.5L1795 218.3L1796.5 217M1796.4 218L1798 217.6L1799.6 218.5L1801 220.8L1801.7 224L1801.7 227.5L1801 230.5L1799.5 233L1798 233.8L1796.5 233.4L1795.2 232L1794.2 230L1793.6 227L1793.6 224L1794.1 221.5L1795 219.5L1796.4 218M1797.5 218.5L1799 218.9L1800 220L1800.9 222L1801.4 225L1801.2 228L1800.5 230.4L1799.5 232L1798 232.9L1796.5 232.4L1795.3 231L1794.4 228.5L1794 226L1794.2 223.5L1794.9 221L1796 219.4L1797.5 218.5M1797.2 219.5L1798.5 219.5L1799.6 220.5L1800.5 222.5L1800.9 225L1800.8 227.5L1800.1 230L1799 231.6L1798 232L1797 231.8L1795.7 230.5L1794.9 228.5L1794.6 226.5L1794.7 224L1795.2 222L1796 220.4L1797.2 219.5M1797.1 220.5L1798.5 220.5L1799.5 221.5L1800.1 223L1800.5 225L1800.4 227L1799.9 229L1799 230.6L1798 231.1L1797 230.8L1796 229.7L1795.1 226.5L1795.5 222.9L1796.1 221.5L1797.1 220.5M1797.3 221.5L1798 221.4L1799 222L1799.5 223L1800 225L1799.5 228.5L1798.9 229.5L1798 230.1L1797 229.7L1796.5 229.1L1795.7 226.5L1796 223.3L1796.5 222.2L1797.3 221.5M1797 223L1797.5 222.6L1798.5 222.8L1799.3 224.5L1799.2 227.5L1798.6 228.5L1798 228.9L1797 228.4L1796.4 227L1796.3 225L1797 223" stroke="#444" stroke-width="0.75" fill="none"/>
<ellipse cx="1797.8" cy="225.8" rx="1.3" ry="2.6" fill="#fff" stroke="#222" stroke-width="0.8"/>
<circle cx="1690" cy="227.3" r="9.6" fill="none" stroke="#555" stroke-width="0.8"/>
<circle cx="1690" cy="227.6" r="5.3" fill="none" stroke="#555" stroke-width="0.8"/>
<path d="M1761.9 218.7h1.3M1767.5 226.2h1.3M1759.5 218.7h1.3M1713.5 221.6h1.3M1765.1 214.1h1.3M1767.7 235.3h1.3M1714 218h1.3M1720.3 214.1h1.3M1711.8 221.4h1.3M1748.6 224.3h1.3M1698.4 221.2h1.3M1746.9 236.2h1.3M1749.9 230.7h1.3M1745.3 222.4h1.3M1745.1 225h1.3M1722.8 221.8h1.3M1761 220h1.3M1746.2 211.1h1.3M1745 233.4h1.3M1739.1 224.3h1.3M1715.2 219.4h1.3M1756.5 213.4h1.3M1715.1 225.9h1.3M1703.3 220.8h1.3M1700.8 234.3h1.3M1730.5 211.4h1.3M1762.4 220.3h1.3M1766.3 222.9h1.3M1768.2 239.2h1.3M1752.7 218.9h1.3M1766.8 219.9h1.3M1711.9 220.6h1.3M1763.6 225.7h1.3M1736.4 230.7h1.3M1764.4 214.9h1.3M1760 213.5h1.3M1771.9 212.2h1.3M1746.9 231.1h1.3M1703 233.9h1.3M1764.8 214h1.3M1709.6 224.7h1.3M1713.3 232.1h1.3M1765.3 226.9h1.3M1745.5 222.8h1.3M1765.5 214.6h1.3M1706.7 224.5h1.3M1737.6 225.7h1.3M1755.2 226.8h1.3M1758 224h1.3M1766.9 219.9h1.3M1728.7 219.1h1.3M1764.1 228.7h1.3M1704.7 229.7h1.3M1759.6 234.4h1.3M1753.9 223.3h1.3M1699.1 220.1h1.3M1707.5 236.1h1.3M1757.7 226.5h1.3M1754.8 216.9h1.3M1752.1 219.4h1.3M1766.2 218.7h1.3M1715 223.3h1.3M1729.1 222h1.3M1767.7 225h1.3M1758 228.8h1.3M1756 224.1h1.3M1742.8 219h1.3M1737.7 223.2h1.3M1765.3 229h1.3M1727.4 224.1h1.3M1770.8 219.5h1.3M1751.3 224.9h1.3M1732.5 228.6h1.3M1755.7 217.2h1.3M1712.9 228.6h1.3M1698.5 224.5h1.3M1746.3 230.5h1.3M1742.8 224.6h1.3M1738 223.7h1.3M1768.8 217.5h1.3M1701.8 219.5h1.3M1765.3 216.7h1.3M1767.4 222.8h1.3M1742.6 223.2h1.3M1746.9 236.9h1.3M1699.9 209.7h1.3M1760.7 217.6h1.3M1766.9 212.8h1.3M1761.8 232h1.3M1718.8 220.7h1.3M1713.1 232.4h1.3M1751 207.5h1.3M1759.5 229.3h1.3M1768.3 234.9h1.3M1729.3 213.4h1.3M1721.1 222.1h1.3M1703.7 225.6h1.3M1742.7 217.9h1.3M1741.1 227.7h1.3M1750.4 224.5h1.3M1742.2 216.4h1.3M1718 231.6h1.3M1723.8 225.6h1.3M1745.9 217.4h1.3M1721.4 224.5h1.3M1725.3 215.7h1.3M1702.6 226.7h1.3M1771.8 218.4h1.3M1701.4 220.8h1.3M1745.6 224.4h1.3M1725.6 213h1.3M1700.6 226.2h1.3M1710.8 222.2h1.3M1767.9 222.3h1.3M1769.6 218.8h1.3M1765.6 232.2h1.3M1726.8 227.2h1.3M1753.4 227.5h1.3M1711.9 209h1.3M1702.3 225.3h1.3M1766 220.6h1.3M1711.2 228.7h1.3M1751 214.4h1.3M1705.8 221.5h1.3M1760.3 233.1h1.3M1769.6 211.5h1.3M1765.7 226.9h1.3M1711.1 223.8h1.3M1756.7 219.5h1.3M1768 214.4h1.3M1719.7 219.6h1.3M1751.7 226.5h1.3M1757.7 226.8h1.3M1754.1 210.7h1.3M1722 219.7h1.3M1709.2 229.7h1.3M1728.1 239.8h1.3M1749.5 229.8h1.3M1743.6 230.2h1.3M1758.2 218.2h1.3M1698.4 225.4h1.3M1752.5 225.9h1.3M1760.4 215.6h1.3M1721 216.9h1.3M1747.4 219h1.3M1765.8 221.4h1.3M1737.7 229h1.3M1756.8 205.5h1.3M1769.9 214.4h1.3M1751.5 230.6h1.3M1704.9 225.5h1.3M1702.2 230.2h1.3M1723.1 218.4h1.3M1711.2 228.4h1.3M1699.9 231.6h1.3M1765.2 216.9h1.3M1767.5 226.9h1.3M1719.4 233.4h1.3M1756.7 214.8h1.3M1699.5 214.1h1.3M1740.4 226.2h1.3M1762.2 228h1.3M1765.5 219h1.3M1766.4 224.4h1.3M1729.7 226.2h1.3M1699.2 226.9h1.3M1751.7 207.6h1.3M1770.5 228.4h1.3M1721.6 222.3h1.3M1759.6 209h1.3M1734.9 217h1.3M1715 224.1h1.3M1730.9 223.3h1.3M1705.4 229.4h1.3M1708.2 218.8h1.3M1715.8 222.9h1.3M1730.2 222.7h1.3M1753.1 224.5h1.3M1765.3 207.5h1.3M1704.8 228.8h1.3M1770 242.3h1.3M1728.5 216h1.3M1755.8 247.9h1.3M1752 227.3h1.3M1748.7 219.8h1.3M1699.4 222.8h1.3M1762.5 216.7h1.3M1711.5 225h1.3M1743.1 226.7h1.3M1760 221.3h1.3M1731.1 225.4h1.3M1699 216.2h1.3M1761.3 232h1.3M1749.6 226.6h1.3M1705.5 231.1h1.3M1755.7 223.2h1.3M1703.2 226h1.3M1762.4 227.8h1.3M1760.7 219.6h1.3M1756.6 231.9h1.3M1705 215.1h1.3M1705.1 225.4h1.3M1750.9 220.3h1.3M1711.3 233.8h1.3M1763.6 218.8h1.3M1754.9 226.7h1.3M1726.3 223.5h1.3M1720.8 222.2h1.3M1710.2 227.7h1.3M1712.1 220.5h1.3M1762 235.2h1.3M1719.5 227.4h1.3M1698.7 229.4h1.3M1746.9 225.1h1.3M1768.6 215.6h1.3M1728.9 220.8h1.3M1735.4 228.5h1.3M1752 221.3h1.3M1732.9 229.7h1.3M1700.6 220.1h1.3M1748.5 225.2h1.3M1710.4 221.3h1.3M1771.5 214h1.3M1766.3 218.6h1.3M1722 222.5h1.3M1724.9 218.3h1.3M1769.4 217.6h1.3M1733.1 221.4h1.3M1708.5 226.5h1.3M1752.1 223.6h1.3M1737.9 216.5h1.3M1757.8 214.5h1.3M1742.8 210.5h1.3M1762.5 232.1h1.3M1755.6 227.6h1.3M1753.9 231.4h1.3M1703.9 206.2h1.3M1767.9 219.4h1.3M1752.6 218.5h1.3M1715.3 218.1h1.3M1769.8 228.9h1.3M1753.4 217.6h1.3M1720.4 230.5h1.3M1714.5 227.7h1.3M1771.7 230.5h1.3M1708.7 227.3h1.3M1769.4 233.3h1.3M1762.2 225.4h1.3M1763.5 218.1h1.3M1740.4 225.4h1.3M1706 220.8h1.3M1715.8 221.2h1.3M1706.3 229.5h1.3M1710.8 239.1h1.3M1705.3 223.4h1.3M1708.4 218.9h1.3M1699 221.7h1.3M1736.3 221.3h1.3M1698.7 223.3h1.3M1722.1 224.1h1.3M1733.5 215.1h1.3M1702 224.5h1.3M1708.9 226.7h1.3M1734.1 226.9h1.3M1764.4 223.7h1.3M1702.2 211.7h1.3M1719 221.1h1.3M1766.3 233.8h1.3M1761.3 219.8h1.3M1765.5 229h1.3M1761.5 224.5h1.3M1766.5 223.5h1.3M1762.9 225.3h1.3M1761.4 230.9h1.3M1770.2 228.8h1.3M1765.4 230.4h1.3M1756 222.6h1.3M1763.1 224.6h1.3M1760.4 220.2h1.3M1759.2 223.2h1.3M1761.7 224h1.3M1762.1 223.7h1.3M1764.1 229.6h1.3M1760.9 228.1h1.3M1756.6 229.8h1.3M1761.9 226.6h1.3M1767.5 231.4h1.3M1758.6 226.6h1.3M1766.5 230.8h1.3M1765.8 228.5h1.3M1762.2 229.7h1.3M1765.2 225.7h1.3M1761 219.8h1.3M1762.4 218.8h1.3M1760 235.8h1.3M1765.9 227.9h1.3M1769.4 228.2h1.3M1761.3 225.2h1.3M1768.8 223.7h1.3M1755.5 240.4h1.3M1760.5 220.4h1.3M1760 225.7h1.3M1770.8 225.7h1.3M1761.7 220.3h1.3M1767.1 219.6h1.3M1755.9 222.5h1.3M1764.5 224.3h1.3M1766.3 223.6h1.3M1763.9 230.1h1.3M1753.2 220.1h1.3M1764.7 228h1.3M1767.2 233.3h1.3M1769.3 230.5h1.3M1765.6 220.3h1.3M1757.3 211.2h1.3M1763.2 230.2h1.3M1767.6 228.5h1.3M1760.7 223.1h1.3M1766.3 232.4h1.3M1762.1 224h1.3M1764.4 226.5h1.3M1767 220.8h1.3M1761.2 227.6h1.3M1764.6 223.5h1.3M1765.4 231.4h1.3M1761 227.1h1.3M1764.2 218.5h1.3M1762.9 229.5h1.3M1758.2 230.2h1.3M1757.9 221.8h1.3M1765.1 224h1.3M1763.7 226.3h1.3M1753.5 224.8h1.3M1755.4 226.6h1.3M1762.8 229.2h1.3M1763.7 223.5h1.3M1766.4 236.4h1.3M1694.3 208.4h1.3M1698.8 218.5h1.3M1697.8 212.7h1.3M1696.6 214.7h1.3M1690.6 208.2h1.3M1701.3 216.4h1.3M1701.1 237h1.3M1693.3 213.8h1.3M1685.6 214.2h1.3M1683.7 237.8h1.3M1697.2 236.2h1.3M1686.2 240.8h1.3M1687.8 213.2h1.3M1699.3 220.6h1.3M1689.6 243.7h1.3M1691.2 240.9h1.3M1689.2 213.4h1.3M1703.4 221.9h1.3M1682.4 239.4h1.3M1682.5 235.9h1.3M1700 232.5h1.3M1691.2 245.2h1.3M1698.3 219.6h1.3M1700.2 225.1h1.3M1696.2 215.6h1.3M1692.4 243.3h1.3M1683.8 215.2h1.3M1698.4 219.9h1.3M1682.3 242.6h1.3M1680.6 211.3h1.3M1689.6 212.4h1.3M1697.6 240.6h1.3M1689.4 243h1.3M1681 218.7h1.3M1689.4 242.2h1.3M1696.2 241.5h1.3M1695.5 239.9h1.3M1692.1 212.6h1.3M1680.6 230.8h1.3M1685.6 239.7h1.3M1682.8 211.4h1.3M1680.1 231.7h1.3M1699.7 236.5h1.3M1685.7 211.9h1.3M1707.9 220.6h1.3M1717.5 239.7h1.3M1682.9 218.1h1.3M1686.3 209.3h1.3M1686 204.1h1.3M1681.1 234.7h1.3M1683.9 214.2h1.3M1698.9 235.3h1.3M1681.2 242.9h1.3M1703.6 211.9h1.3M1697.7 244.6h1.3M1683 215.6h1.3M1697.1 237h1.3M1693 240.7h1.3M1682.7 248.7h1.3M1680.1 217h1.3M1699.5 241.2h1.3M1691.2 211.2h1.3M1684.9 211.1h1.3M1695.6 204h1.3M1690.7 244.1h1.3M1696 216.7h1.3M1681.9 234.7h1.3M1689.3 210.3h1.3M1682.9 216.7h1.3M1690.1 204.5h1.3M1700 224.5h1.3M1692.3 208.8h1.3M1689.7 241.2h1.3M1680.1 226.1h1.3M1700.2 222.1h1.3M1704.3 225.3h1.3M1697.4 237.7h1.3M1685.4 214.7h1.3M1700.6 229.5h1.3M1699.8 238.7h1.3M1682.5 238.6h1.3M1704.4 241.8h1.3M1683.1 213.5h1.3M1696.5 214.6h1.3M1681.4 243.1h1.3M1690.2 243.3h1.3M1687.7 242.6h1.3M1701.3 229.6h1.3M1688.2 212.1h1.3M1682.8 213.9h1.3M1694.3 213.4h1.3M1684 242.9h1.3M1692.4 242.7h1.3M1700.6 230.5h1.3M1694.2 239.8h1.3M1685.1 240h1.3M1699.2 232h1.3M1702.5 230.3h1.3M1684.7 211.9h1.3M1692.2 213.5h1.3M1697.7 211.2h1.3M1683 239.3h1.3M1680.6 231h1.3M1690.9 213.2h1.3M1696.3 237.5h1.3M1694 211.7h1.3M1681.6 240.8h1.3M1690.1 250.9h1.3M1684.2 216.1h1.3M1701.2 201.1h1.3M1694.3 214.4h1.3M1704.5 232h1.3M1697.3 245h1.3M1682.3 245.4h1.3M1702.6 234.5h1.3M1682.7 241.9h1.3M1690.7 242.5h1.3M1701.6 233.5h1.3M1705.2 232.9h1.3M1689.5 205.5h1.3M1693.7 241h1.3M1695.2 238.9h1.3M1690.2 241.7h1.3M1689.3 210.5h1.3M1687.5 185.4h1.3M1689.9 198.2h1.3M1686.9 208.3h1.3M1691.1 213.8h1.3M1688.8 204.9h1.3M1691.9 195.1h1.3M1689.5 200.6h1.3M1698 211.9h1.3M1688.9 200.3h1.3M1689.3 208.1h1.3M1692.7 212.8h1.3M1684.1 185.8h1.3M1698.2 211.5h1.3M1687.6 199.2h1.3M1690.2 210.6h1.3M1688.9 204.6h1.3M1687.7 201h1.3M1692.4 211.1h1.3M1687.5 213h1.3M1689 205.9h1.3M1686.9 212.5h1.3M1687 192.9h1.3M1694.8 190h1.3M1685.3 206.1h1.3M1688.6 177.8h1.3M1690.3 196h1.3M1696.1 210.5h1.3M1686.7 183h1.3M1684.8 210.6h1.3M1692.4 209.3h1.3M1690.4 187.2h1.3M1684.5 207.7h1.3M1688.2 209.1h1.3M1686.8 197.2h1.3M1690.1 214.6h1.3M1692.6 168.8h1.3M1689.2 210.2h1.3M1689.2 212.4h1.3M1691 195.5h1.3M1689.2 185.2h1.3M1690.4 211.9h1.3M1686.5 201.3h1.3M1687.9 204.3h1.3M1691.6 191.1h1.3M1688.3 181.6h1.3M1683.8 117.3h1.3M1690.9 130.6h1.3M1690.3 136.5h1.3M1687.2 122.9h1.3M1691.3 141h1.3M1685 124.8h1.3M1683.6 130h1.3M1689.1 132.4h1.3M1687.6 158.1h1.3M1694.4 130.1h1.3M1687.9 127.3h1.3M1687.1 141.5h1.3M1682.8 128.4h1.3M1690.7 135.7h1.3M1689.1 136.9h1.3M1686.5 133.4h1.3M1686.9 119.4h1.3M1682.3 148.5h1.3M1688.4 131h1.3M1684 131.4h1.3M1682 119.1h1.3M1692.2 115.7h1.3M1689.3 127.3h1.3M1689.2 116.8h1.3M1689.4 139h1.3M1686.7 143.1h1.3M1690.7 126.6h1.3M1686.4 115.9h1.3M1694.7 129.2h1.3M1693.6 121.9h1.3M1686.3 135.4h1.3M1692.1 135.6h1.3M1693.2 128.9h1.3M1691.2 134.4h1.3M1691.6 145h1.3M1689.3 152.3h1.3M1688.7 127.8h1.3M1681.3 141.5h1.3M1692.1 130.9h1.3M1688 121.9h1.3M1690.4 147.7h1.3M1687.8 137.9h1.3M1685.6 135.1h1.3M1694.5 137.5h1.3M1687.6 131.8h1.3M1687 122h1.3M1686.3 153.1h1.3M1691.7 143.4h1.3M1690 136.4h1.3M1687 144.2h1.3M1688.6 147.7h1.3M1687 131.4h1.3M1693.6 140h1.3M1688.1 130h1.3M1688.1 140.6h1.3M1694.1 130.7h1.3M1687.5 160.3h1.3M1684.4 129.6h1.3M1685.8 139.2h1.3M1687.3 138.6h1.3M1694.5 129.9h1.3M1689.8 143.8h1.3M1688.5 132.6h1.3M1692.1 129h1.3M1692.8 133.6h1.3M1690.1 125.3h1.3M1692.6 146.7h1.3M1690.8 140.4h1.3M1689.1 144.3h1.3M1681.9 118.7h1.3M1689.4 136.5h1.3M1692.7 125.1h1.3M1688.8 134.5h1.3M1694.9 147.6h1.3M1689.3 136.4h1.3M1685.7 131.6h1.3M1690.1 145.9h1.3M1691 144.7h1.3M1693.6 153.9h1.3M1819.3 239.3h1.3M1803.5 196.4h1.3M1820.8 218.1h1.3M1818.3 229.1h1.3M1805.4 195.5h1.3M1817 232.3h1.3M1817.5 222.9h1.3M1813.5 238.3h1.3M1794.4 193.5h1.3M1814.1 244.3h1.3M1773.1 209.6h1.3M1771.5 214.1h1.3M1796.2 196.4h1.3M1803.9 254h1.3M1787.1 254.7h1.3M1814.5 245.9h1.3M1815.9 239.1h1.3M1819.9 230.5h1.3M1792.2 193.6h1.3M1788.1 196.7h1.3M1817.8 230.1h1.3M1787.8 255.5h1.3M1798 253.7h1.3M1811.1 246.6h1.3M1772.3 216.4h1.3M1773.9 242.1h1.3M1769.8 222.6h1.3M1796.5 191.5h1.3M1798.5 251.7h1.3M1767.2 228.9h1.3M1810 247.6h1.3M1816.1 210.2h1.3M1819.1 214.1h1.3M1812.9 247h1.3M1769.3 227.6h1.3M1802.2 251.7h1.3M1772.6 218.4h1.3M1802.4 198.8h1.3M1797 255.1h1.3M1800.4 194.6h1.3M1794.7 189.3h1.3M1814.2 205.2h1.3M1802.4 197.5h1.3M1819.8 216.4h1.3M1811.4 199.2h1.3M1771.4 210.3h1.3M1788.3 255.2h1.3M1790.8 197.6h1.3M1790.3 195.4h1.3M1775.6 242.5h1.3M1794.9 193.1h1.3M1813.1 247.8h1.3M1816.7 218h1.3M1818.4 209.1h1.3M1773.9 238.2h1.3M1773.6 216.6h1.3M1817.7 227.7h1.3M1818 216.4h1.3M1810.3 246h1.3M1811.3 248.4h1.3M1773.6 209.3h1.3M1818.3 221.3h1.3M1788.3 200.1h1.3M1778.7 209.8h1.3M1791.3 253.4h1.3M1810.6 246.7h1.3M1786.2 256.1h1.3M1807.1 250.9h1.3M1820 232h1.3M1769.7 234.6h1.3M1770.5 213.3h1.3M1775.5 242.5h1.3M1815.9 237.5h1.3M1810.3 202.9h1.3M1818.6 232.2h1.3M1820 229.1h1.3M1819.8 229.2h1.3M1801.6 193.3h1.3M1821.7 213.7h1.3M1774.5 241h1.3M1786.6 194.4h1.3M1814.2 217.1h1.3M1818.5 207.7h1.3M1815.7 235.1h1.3M1768.4 209.4h1.3M1790.8 254.7h1.3M1786.4 253.2h1.3M1797.5 196.5h1.3M1818.7 238.9h1.3M1771.8 221.2h1.3M1820.2 215.1h1.3M1820.2 213h1.3M1816.9 215.9h1.3M1797.2 192.1h1.3M1803.6 195.7h1.3M1792.2 190.6h1.3M1771 223.1h1.3M1802 191.8h1.3M1801.3 194h1.3M1812.2 200.6h1.3M1818.9 226.3h1.3M1820.5 232.2h1.3M1769.3 232.2h1.3M1790.2 196.9h1.3M1774.7 238.6h1.3M1822.5 229.3h1.3M1820.8 216h1.3M1795.8 255.7h1.3M1818.9 235.6h1.3M1789.3 194.9h1.3M1817.8 225.1h1.3M1808.8 198.8h1.3M1819 226.2h1.3M1799.3 196.1h1.3M1770.2 226.8h1.3M1805.5 254.1h1.3M1802.3 256.6h1.3M1789.5 196.4h1.3M1816.6 208.1h1.3M1811.3 249h1.3M1791.3 252.8h1.3M1816.4 221.9h1.3M1786.6 200.6h1.3M1817.7 209.2h1.3M1797.6 197.5h1.3M1789 196.8h1.3M1794.1 195.4h1.3M1770.7 229.4h1.3M1788.3 254.3h1.3M1809.8 247.6h1.3M1739 169h1.3M1796 166h1.3M1717 137h1.3M1718 189h1.3M1752 189h1.3M1738 202h1.3" stroke="#222" stroke-width="1.3" fill="none" opacity="1.0"/>
</g>
<path d="M1634.8 22H1901.1V287.4" fill="none" stroke="#5a5a5a" stroke-width="1.3"/><path d="M1634.8 22V287.4H1901.1" fill="none" stroke="#111" stroke-width="1.45" stroke-linecap="square"/>
<path d="M1634.8 47.1h-7.6M1634.8 110.3h-7.6M1634.8 186.4h-7.6M1634.8 264.6h-7.6" stroke="#111" stroke-width="1.7" fill="none"/><path d="M1634.8 190.5h-3.6M1634.8 194.5h-3.6M1634.8 198.5h-3.6M1634.8 202.5h-3.6M1634.8 207h-3.6M1634.8 211.5h-3.6M1634.8 216h-3.6M1634.8 235h-3.6M1634.8 239.5h-3.6M1634.8 244h-3.6M1634.8 248.5h-3.6M1634.8 253h-3.6M1634.8 257h-3.6M1634.8 261h-3.6M1634.8 28.5h-3.6M1634.8 163.5h-3.6M1634.8 150.1h-3.6M1634.8 140.6h-3.6M1634.8 133.2h-3.6M1634.8 127.2h-3.6M1634.8 122.1h-3.6M1634.8 117.7h-3.6M1634.8 113.8h-3.6M1634.8 91.3h-3.6M1634.8 80.1h-3.6M1634.8 72.2h-3.6M1634.8 66.1h-3.6M1634.8 61.1h-3.6M1634.8 56.9h-3.6M1634.8 53.2h-3.6M1634.8 50h-3.6" stroke="#111" stroke-width="1.25" fill="none"/><rect x="1630.2" y="221.8" width="4.6" height="7.1" fill="#111"/><path d="M1634.8 225.4h-7.2M1634.8 222.5h-7.2M1634.8 228.2h-7.2" stroke="#111" stroke-width="1.4" fill="none"/>
<path d="M1674.6 287.4v7.6M1701.8 287.4v7.6M1761 287.4v7.6M1821.2 287.4v7.6M1876.5 287.4v7.6" stroke="#111" stroke-width="1.7" fill="none"/><path d="M1636.4 287.4v3.6M1644.1 287.4v3.6M1652.6 287.4v3.6M1662.9 287.4v3.6M1714.6 287.4v3.6M1725 287.4v3.6M1733.3 287.4v3.6M1740.4 287.4v3.6M1745.8 287.4v3.6M1750.2 287.4v3.6M1753.9 287.4v3.6M1757.3 287.4v3.6M1894.1 287.4v3.6M1779.1 287.4v3.6M1789.7 287.4v3.6M1797.2 287.4v3.6M1803.1 287.4v3.6M1807.8 287.4v3.6M1811.9 287.4v3.6M1815.4 287.4v3.6M1818.4 287.4v3.6M1837.8 287.4v3.6M1847.6 287.4v3.6M1854.5 287.4v3.6M1859.9 287.4v3.6M1864.2 287.4v3.6M1867.9 287.4v3.6M1871.1 287.4v3.6M1874 287.4v3.6" stroke="#111" stroke-width="1.25" fill="none"/><rect x="1679.4" y="287.4" width="12.2" height="4.6" fill="#111"/><path d="M1685.5 287.4v7.2M1680.1 287.4v7.2M1690.9 287.4v7.2" stroke="#111" stroke-width="1.4" fill="none"/>
<rect x="1769" y="179.5" width="78.7" height="88.3" fill="none" stroke="#111" stroke-width="1.55"/>
<text x="1723.8" y="153" font-size="29.0" text-anchor="start" fill="#E1111A" stroke="#E1111A" stroke-width="0.9"><tspan>CD8</tspan><tspan font-size="19.7" dy="-6.5">+</tspan><tspan dy="6.5">  T cells</tspan></text>
<text x="1636" y="329.8" font-size="29.0" text-anchor="start" fill="#000" stroke="#000" stroke-width="0.5"><tspan>CD8</tspan><tspan font-weight="bold">β</tspan><tspan> - APC</tspan></text>
<text x="1605.2" y="289.2" font-size="29.0" text-anchor="start" font-weight="normal" font-style="normal" fill="#000" stroke="#000" stroke-width="0.5" transform="rotate(-90 1605.2 289.2)">CD4 – PE-Cy7</text>
<rect x="236" y="654.1" width="27.9" height="161.3" fill="#EAD3EE" stroke="#BE7FC7" stroke-width="2.9"/>
<rect x="283.6" y="776.9" width="28.7" height="38.5" fill="#FBE5CB" stroke="#F5B66A" stroke-width="2.9"/>
<rect x="331.4" y="632.5" width="28.5" height="182.9" fill="#CDFACA" stroke="#62EE62" stroke-width="2.9"/>
<path d="M218.5 574.6L218.5 816.8" stroke="#000" stroke-width="2.7" stroke-linecap="butt" fill="none"/><path d="M207.9 815.4L377.1 815.4" stroke="#000" stroke-width="2.7" stroke-linecap="butt" fill="none"/><path d="M208.3 815.4L218.5 815.4" stroke="#000" stroke-width="2.7" stroke-linecap="butt" fill="none"/><text x="200.4" y="823.3" font-size="29.0" text-anchor="end" font-weight="normal" font-style="normal" fill="#000" stroke="#000" stroke-width="0.5">0</text><path d="M208.3 767.5L218.5 767.5" stroke="#000" stroke-width="2.7" stroke-linecap="butt" fill="none"/><text x="200.4" y="775.3" font-size="29.0" text-anchor="end" font-weight="normal" font-style="normal" fill="#000" stroke="#000" stroke-width="0.5">2</text><path d="M208.3 719.6L218.5 719.6" stroke="#000" stroke-width="2.7" stroke-linecap="butt" fill="none"/><text x="200.4" y="728.8" font-size="29.0" text-anchor="end" font-weight="normal" font-style="normal" fill="#000" stroke="#000" stroke-width="0.5">4</text><path d="M208.3 671.8L218.5 671.8" stroke="#000" stroke-width="2.7" stroke-linecap="butt" fill="none"/><text x="200.4" y="681.4" font-size="29.0" text-anchor="end" font-weight="normal" font-style="normal" fill="#000" stroke="#000" stroke-width="0.5">6</text><path d="M208.3 623.9L218.5 623.9" stroke="#000" stroke-width="2.7" stroke-linecap="butt" fill="none"/><text x="200.4" y="633.9" font-size="29.0" text-anchor="end" font-weight="normal" font-style="normal" fill="#000" stroke="#000" stroke-width="0.5">8</text><path d="M208.3 576L218.5 576" stroke="#000" stroke-width="2.7" stroke-linecap="butt" fill="none"/><text x="200.4" y="587.6" font-size="29.0" text-anchor="end" font-weight="normal" font-style="normal" fill="#000" stroke="#000" stroke-width="0.5">10</text><path d="M250 815.4L250 825.4" stroke="#000" stroke-width="2.7" stroke-linecap="butt" fill="none"/><path d="M298 815.4L298 825.4" stroke="#000" stroke-width="2.7" stroke-linecap="butt" fill="none"/><path d="M345.8 815.4L345.8 825.4" stroke="#000" stroke-width="2.7" stroke-linecap="butt" fill="none"/>
<path d="M250 633.2V674M241.5 633.2H258.5M241.5 674H258.5" stroke="#8B2A9B" stroke-width="1.8" fill="none"/>
<path d="M298 764V788.9M289.3 764H306.7M289.3 788.9H306.7" stroke="#F0911F" stroke-width="1.8" fill="none"/>
<path d="M345.8 622V640M337.3 622H354.3M337.3 640H354.3" stroke="#1FDD1F" stroke-width="1.8" fill="none"/>
<circle cx="250.2" cy="719.6" r="9.2" fill="#fff" stroke="#8B2A9B" stroke-width="2.6"/>
<circle cx="250.2" cy="671.8" r="9.2" fill="#fff" stroke="#8B2A9B" stroke-width="2.6"/>
<circle cx="250.2" cy="647.8" r="9.2" fill="#fff" stroke="#8B2A9B" stroke-width="2.6"/>
<circle cx="250.2" cy="623.9" r="9.2" fill="#fff" stroke="#8B2A9B" stroke-width="2.6"/>
<circle cx="250.2" cy="599.9" r="9.2" fill="#fff" stroke="#8B2A9B" stroke-width="2.6"/>
<circle cx="291.2" cy="815.4" r="9.2" fill="#fff" stroke="#F0911F" stroke-width="2.6"/>
<circle cx="304.8" cy="815.4" r="9.2" fill="#fff" stroke="#F0911F" stroke-width="2.6"/>
<circle cx="291.2" cy="767.5" r="9.2" fill="#fff" stroke="#F0911F" stroke-width="2.6"/>
<circle cx="304.8" cy="767.5" r="9.2" fill="#fff" stroke="#F0911F" stroke-width="2.6"/>
<circle cx="291.2" cy="743.6" r="9.2" fill="#fff" stroke="#F0911F" stroke-width="2.6"/>
<circle cx="304.8" cy="743.6" r="9.2" fill="#fff" stroke="#F0911F" stroke-width="2.6"/>
<circle cx="345.8" cy="647.8" r="9.2" fill="#fff" stroke="#1FDD1F" stroke-width="2.6"/>
<circle cx="339.1" cy="623.9" r="9.2" fill="#fff" stroke="#1FDD1F" stroke-width="2.6"/>
<circle cx="352.7" cy="623.9" r="9.2" fill="#fff" stroke="#1FDD1F" stroke-width="2.6"/>
<circle cx="345.8" cy="599.9" r="9.2" fill="#fff" stroke="#1FDD1F" stroke-width="2.6"/>
<path d="M249.7 585.5V572.4H298V730.5" stroke="#000" stroke-width="2.7" fill="none" stroke-linejoin="miter"/>
<path d="M298 535.5V525H345.3V586.5" stroke="#000" stroke-width="2.7" fill="none" stroke-linejoin="miter"/>
<path d="M249.7 535.5V476.8H345.3V491.5" stroke="#000" stroke-width="2.7" fill="none" stroke-linejoin="miter"/>
<text x="241.2" y="460" font-size="24.1" text-anchor="start" fill="#000" stroke="#000" stroke-width="0.5"><tspan font-style="italic">P</tspan><tspan> = 0.4001</tspan></text>
<text x="271.6" y="516.8" font-size="24.1" text-anchor="start" fill="#000" stroke="#000" stroke-width="0.5"><tspan font-style="italic">P</tspan><tspan> &lt; 0.0001</tspan></text>
<text x="218.8" y="562" font-size="24.1" text-anchor="start" fill="#000" stroke="#000" stroke-width="0.5"><tspan font-style="italic">P</tspan><tspan> = 0.0001</tspan></text>
<text x="156.5" y="792.6" font-size="28.7" text-anchor="start" font-weight="normal" font-style="normal" fill="#000" stroke="#000" stroke-width="0.5" transform="rotate(-90 156.5 792.6)">Histology scores</text>
<text x="466.3" y="548.6" font-size="29.0" text-anchor="start" font-weight="normal" font-style="normal" fill="#000" stroke="#000" stroke-width="0.5">Donor T cells:</text>
<circle cx="438.1" cy="593.3" r="9.7" fill="#fff" stroke="#8B2A9B" stroke-width="2.1"/>
<text x="457.2" y="605.6" font-size="29.25" text-anchor="start" fill="#000" stroke="#000" stroke-width="0.5"><tspan>CD4</tspan><tspan font-size="19.9" dy="-6.6">+</tspan><tspan dy="6.6"> T cell (</tspan><tspan font-style="italic">n</tspan><tspan> = 5)</tspan></text>
<circle cx="438.1" cy="644.3" r="9.7" fill="#fff" stroke="#F0911F" stroke-width="2.1"/>
<text x="457.2" y="654.7" font-size="29.25" text-anchor="start" fill="#000" stroke="#000" stroke-width="0.5"><tspan>CD8</tspan><tspan font-size="19.9" dy="-6.6">+</tspan><tspan dy="6.6"> T cell (</tspan><tspan font-style="italic">n</tspan><tspan> = 6)</tspan></text>
<circle cx="438.1" cy="695.3" r="9.7" fill="#fff" stroke="#1FDD1F" stroke-width="2.1"/>
<text x="457.2" y="705.7" font-size="29.25" text-anchor="start" fill="#000" stroke="#000" stroke-width="0.5"><tspan>CD4</tspan><tspan font-size="19.9" dy="-6.6">+</tspan><tspan dy="6.6"> + CD8</tspan><tspan font-size="19.9" dy="-6.6">+</tspan><tspan dy="6.6"> T cell (</tspan><tspan font-style="italic">n</tspan><tspan> = 5)</tspan></text>
<path d="M178.5 1172L184.5 1172.3L190 1173.3L195.5 1175.1L200 1177.4L204.2 1180.5L207.5 1184L209.9 1188L211.3 1192L211.7 1196.5L211.1 1200.5L209.5 1204.5L206.7 1208.5L203.1 1212L199 1214.7L193.5 1217.2L188 1218.8L181.5 1219.6L174.5 1219.3L168 1218.1L162 1215.9L159 1214.2L156.5 1212.6L152.5 1208.9L150.9 1207L149.4 1204.5L148.3 1202L147.6 1199.5L147.2 1197L147.2 1194.5L147.6 1192L148.3 1189.5L149.2 1187.5L150.7 1185L152.7 1182.5L154.7 1180.5L159.5 1177.1L162.5 1175.6L165.5 1174.3L172 1172.6L178.5 1172M177.3 1177.5L181.5 1177.5L186 1178.1L190 1179.2L193.5 1180.7L196.5 1182.5L199.5 1185L201.5 1187.5L203.2 1190.5L204 1193.5L204.2 1196.5L203.7 1199.5L202.5 1202.5L200.5 1205.5L198 1207.9L195 1210.1L191.5 1211.8L186.5 1213.4L180.5 1214.2L174.5 1214L169 1212.9L164.5 1211.2L160 1208.5L156.9 1205.5L155.5 1203.5L154.5 1201.5L153.8 1199.5L153.4 1197.5L153.4 1195.5L153.7 1193L154.3 1191L155.2 1189L157.8 1185.5L161.5 1182.4L166.5 1179.8L171.5 1178.3L177.3 1177.5M172.6 1182L175.5 1181.7L179 1181.8L182 1182.1L185 1182.7L188 1183.7L190.5 1184.9L192.8 1186.5L194.5 1188L196 1190L197.1 1192L197.6 1194L197.8 1196L197.5 1198L196.9 1200L195.8 1202L194.1 1204L190.8 1206.5L186.5 1208.5L181.5 1209.8L176.5 1210.3L171.5 1209.9L167 1208.8L163.5 1207.1L160.5 1204.7L158.2 1201.5L157 1198L156.8 1196L157 1194L158.4 1190.5L160.7 1187.5L164 1184.9L168 1183.1L172.6 1182M171.5 1185L176 1184.9L181 1185.9L183.5 1186.9L185.5 1187.9L188.6 1190.5L189.7 1192L190.4 1193.5L190.7 1195L190.7 1196.5L190.4 1198L189.8 1199.5L188.8 1201L187.4 1202.5L184.7 1204.5L181 1206.2L177.5 1207.2L174 1207.5L170.5 1207.3L167 1206.3L164.5 1205L162.2 1203L160.4 1200.5L159.5 1197.5L159.5 1194.5L160.4 1192L162.2 1189.5L165 1187.2L168 1185.8L171.5 1185M170.3 1187.5L174 1187.3L178 1188.1L181.4 1190L183.7 1192.5L184.7 1195L184.7 1196.5L184.5 1198L183.2 1200.5L181.8 1202L180.5 1203L178.5 1204.1L176 1204.9L173.5 1205.3L171 1205.2L168.5 1204.6L166.5 1203.7L164.5 1202.3L162.9 1200.5L162 1198.5L161.7 1196.5L161.9 1194.5L162.7 1192.5L164 1190.8L166 1189.2L168 1188.2L170.3 1187.5M169.4 1190L172 1189.6L175 1189.9L177.5 1191L179.3 1192.5L180.5 1194.5L180.7 1197L180 1199L178.3 1201L176.8 1202L175 1202.7L171.5 1203L169.5 1202.7L168 1202.1L166.5 1201.1L165.4 1200L164.5 1198.5L164.1 1197L164.1 1195.5L164.5 1194.2L165.1 1193L166.5 1191.5L168 1190.6L169.4 1190M171.5 1192L173.5 1192.1L175 1192.7L176.6 1194L177.3 1195.5L177.3 1197L176.6 1198.5L175.5 1199.6L173.5 1200.5L171.5 1200.7L169.2 1200L167.5 1198.6L166.8 1197L167 1195L168 1193.5L169.5 1192.5L171.5 1192M170.8 1194.5L172.5 1194.3L173.8 1195L174.4 1196L174.3 1197L174 1197.5L173 1198.2L172 1198.4L171 1198.3L170 1197.7L169.6 1197L169.5 1196L170 1195L170.8 1194.5" stroke="#F1AF7A" stroke-width="1.35" fill="none"/>
<path d="M175 1139h1.1M176.5 1155h1.1M180 1163h1.1M183.5 1170h1.1M214 1193h1.1M217 1196.5h1.1M219 1200h1.1M221 1194h1.1M220 1206h1.1M244 1209.5h1.1" stroke="#F3C39B" stroke-width="1.1" fill="none" opacity="1.0"/>
<path d="M97.7 993.4H363.7V1258.4" fill="none" stroke="#5a5a5a" stroke-width="1.3"/><path d="M97.7 993.4V1258.4H363.7" fill="none" stroke="#111" stroke-width="1.45" stroke-linecap="square"/><path d="M97.7 1017.5h-7.6M97.7 1080.4h-7.6M97.7 1153.3h-7.6M97.7 1241h-7.6" stroke="#111" stroke-width="1.7" fill="none"/><path d="M97.7 1157.5h-3.6M97.7 1161.7h-3.6M97.7 1165.9h-3.6M97.7 1170.1h-3.6M97.7 1174.3h-3.6M97.7 1178.5h-3.6M97.7 1182.7h-3.6M97.7 1186.9h-3.6M97.7 1207.7h-3.6M97.7 1212.9h-3.6M97.7 1217h-3.6M97.7 1222.5h-3.6M97.7 1226.4h-3.6M97.7 1230.4h-3.6M97.7 1234.7h-3.6M97.7 1238.3h-3.6M97.7 999h-3.6M97.7 1131.4h-3.6M97.7 1118.5h-3.6M97.7 1109.4h-3.6M97.7 1102.3h-3.6M97.7 1096.6h-3.6M97.7 1091.7h-3.6M97.7 1087.5h-3.6M97.7 1083.7h-3.6M97.7 1061.5h-3.6M97.7 1050.4h-3.6M97.7 1042.5h-3.6M97.7 1036.4h-3.6M97.7 1031.5h-3.6M97.7 1027.2h-3.6M97.7 1023.6h-3.6M97.7 1020.4h-3.6" stroke="#111" stroke-width="1.25" fill="none"/><rect x="93.1" y="1193.6" width="4.6" height="7.3" fill="#111"/><path d="M97.7 1197.3h-7.2M97.7 1194.3h-7.2M97.7 1200.3h-7.2" stroke="#111" stroke-width="1.4" fill="none"/><path d="M113.5 1258.4v7.6M201 1258.4v7.6M273.3 1258.4v7.6M337.3 1258.4v7.6" stroke="#111" stroke-width="1.7" fill="none"/><path d="M116.8 1258.4v3.6M120.2 1258.4v3.6M124.4 1258.4v3.6M128.7 1258.4v3.6M132.9 1258.4v3.6M138.1 1258.4v3.6M142.3 1258.4v3.6M147.5 1258.4v3.6M167.5 1258.4v3.6M172 1258.4v3.6M176.5 1258.4v3.6M181 1258.4v3.6M185.5 1258.4v3.6M189.5 1258.4v3.6M193.5 1258.4v3.6M197.5 1258.4v3.6M356 1258.4v3.6M222.8 1258.4v3.6M235.5 1258.4v3.6M244.5 1258.4v3.6M251.5 1258.4v3.6M257.3 1258.4v3.6M262.1 1258.4v3.6M266.3 1258.4v3.6M270 1258.4v3.6M292.6 1258.4v3.6M303.8 1258.4v3.6M311.8 1258.4v3.6M318 1258.4v3.6M323.1 1258.4v3.6M327.4 1258.4v3.6M331.1 1258.4v3.6M334.4 1258.4v3.6" stroke="#111" stroke-width="1.25" fill="none"/><rect x="154.1" y="1258.4" width="7.2" height="4.6" fill="#111"/><path d="M157.7 1258.4v7.2M154.8 1258.4v7.2M160.6 1258.4v7.2" stroke="#111" stroke-width="1.4" fill="none"/>
<path d="M187.1 993.4L187.1 1258.4" stroke="#000" stroke-width="1.9" stroke-linecap="butt" fill="none"/>
<path d="M97.7 1177.5L363.7 1177.5" stroke="#000" stroke-width="1.9" stroke-linecap="butt" fill="none"/>
<text x="110.5" y="1030.8" font-size="29.0" text-anchor="start" font-weight="normal" font-style="normal" fill="#000" stroke="#000" stroke-width="0.5">3.8</text>
<text x="287" y="1030.8" font-size="29.0" text-anchor="start" font-weight="normal" font-style="normal" fill="#000" stroke="#000" stroke-width="0.5">0</text>
<text x="111.8" y="1247.2" font-size="29.0" text-anchor="start" font-weight="normal" font-style="normal" fill="#000" stroke="#000" stroke-width="0.5">76.3</text>
<text x="288.5" y="1247.2" font-size="29.0" text-anchor="start" font-weight="normal" font-style="normal" fill="#000" stroke="#000" stroke-width="0.5">19.8</text>
<text x="82.5" y="961.8" font-size="29.0" text-anchor="start" fill="#000" stroke="#000" stroke-width="0.5"><tspan>CD8</tspan><tspan font-size="19.7" dy="-6.5">+</tspan><tspan dy="6.5"> T cell transfer</tspan></text>
<text x="77.2" y="1217.6" font-size="29.0" text-anchor="start" fill="#000" stroke="#000" stroke-width="0.5" transform="rotate(-90 77.2 1217.6)"><tspan>IFN</tspan><tspan font-weight="bold">γ</tspan><tspan> - BV785</tspan></text>
<text x="110" y="1307.6" font-size="29.0" text-anchor="start" font-weight="normal" font-style="normal" fill="#000" stroke="#000" stroke-width="0.5">Granzyme B - Pacific Blue</text>
<clipPath id="cc2"><rect x="411.2" y="993.4" width="266.2" height="265"/></clipPath>
<g clip-path="url(#cc2)">
<path d="M484 1175.5L485.5 1176.1L488.5 1179.3L490.5 1180.7L505.5 1185.5L511.9 1187L528.5 1189.3L533 1190.4L537.5 1191.9L541 1193.7L543.5 1195.8L544.3 1197L544.6 1198L544.6 1199L544.4 1200L542.8 1202L539.6 1204L535.5 1205.5L530.5 1206.6L525 1207.4L514 1208.1L509.5 1208.7L505.5 1209.5L496 1212.4L491 1213.3L488 1213.4L485 1213.2L482 1212.6L479 1211.7L476 1210.2L474 1208.9L471.8 1207L470.2 1205L468.7 1202.5L467.9 1200L467.6 1198L467.7 1195.5L468.7 1192L470.9 1188.5L473 1186.4L478 1182.4L479.6 1180.5L482.5 1176.3L484 1175.5M483.3 1180.5L484 1180.3L485 1180.3L490 1182.7L496.5 1184.6L506.6 1188L511.7 1189L524.5 1190.7L531.5 1192.4L535.2 1194L537.5 1195.6L538.8 1197.5L539 1198.5L538.7 1199.5L537.6 1201L535.4 1202.5L532 1203.8L528 1204.8L523 1205.5L512 1206.3L507.5 1206.9L503 1208L495.5 1210.4L491 1211.2L485.5 1211.3L480.5 1210.2L478 1209.1L476 1207.9L474 1206.3L472.4 1204.5L471.1 1202.5L470.3 1200.5L469.8 1198L469.9 1196L470.8 1192.5L472 1190.5L473.1 1189L475.2 1187L483.3 1180.5M483.2 1183.5L485 1183.2L487 1183.6L495 1185.9L503 1189L507 1190.1L511 1190.9L521.5 1192.3L526.7 1193.5L529.5 1194.6L531.8 1196L533 1197.5L533 1199L532.3 1200L531 1201L528.9 1202L526.5 1202.7L521.5 1203.6L511 1204.4L506.5 1205L502.8 1206L495 1208.7L492 1209.4L489 1209.8L486.5 1209.8L484 1209.5L481.5 1208.9L477.5 1207L475.6 1205.5L474.2 1204L473.1 1202.5L472.2 1200.5L471.7 1198.5L471.7 1196.5L471.9 1195L472.5 1193L474.5 1189.9L478 1186.8L481.5 1184.4L483.2 1183.5M483 1185.5L485.5 1185.1L489.5 1185.8L494.5 1187.3L502.5 1190.8L506 1192L521.7 1195L525 1196.5L525.9 1197.5L526 1198.5L525.5 1199.2L524.5 1199.9L522 1200.8L518.5 1201.5L510 1202.3L506 1203L503 1203.9L495.5 1206.9L492 1207.9L489.5 1208.3L487 1208.4L482.5 1207.8L478.6 1206L475.7 1203.5L473.8 1200.5L473.3 1198.5L473.2 1197L473.4 1195.5L474 1193.5L475.9 1190.5L479 1187.7L481.5 1186.2L483 1185.5M483.1 1187L485 1186.6L487.5 1186.7L490.5 1187.3L494 1188.5L497.1 1190L504.5 1194.2L509.4 1196.5L510.6 1197.5L510.5 1198L508.8 1199L503 1201.4L496.2 1205L492.5 1206.4L489.5 1207.1L487 1207.2L484 1206.9L481.5 1206.1L478.5 1204.4L476.2 1202L475 1199.5L474.6 1196.5L475.4 1193.5L477.1 1191L480 1188.6L483.1 1187M484.4 1188L487 1187.9L490.5 1188.6L493.5 1189.6L496.5 1191.3L499.3 1193.5L501.1 1195.5L501.6 1196.5L501.8 1197.5L501.2 1199L499.4 1201L496.5 1203.1L493.5 1204.7L490.5 1205.7L487.5 1206L485 1205.9L482.5 1205.3L480 1204L478 1202.3L476.6 1200L476 1197.5L476.3 1195L477.5 1192.5L479.4 1190.5L482 1188.8L484.4 1188M483.8 1189.5L486.5 1189.2L489.5 1189.6L492.5 1190.7L495 1192.2L496.9 1194L498.1 1196L498.2 1198L497.3 1200L495.9 1201.5L493.7 1203L491.5 1204L489 1204.7L486.5 1204.8L484.5 1204.6L482.5 1203.9L480.5 1202.8L479 1201.4L477.9 1199.5L477.4 1197.5L477.6 1195.5L478.4 1193.5L479.6 1192L481.5 1190.5L483.8 1189.5M485.2 1190.5L488 1190.5L490.5 1191.2L493 1192.5L495 1194.5L495.7 1196L495.8 1198L494.9 1200L493.3 1201.5L491.7 1202.5L490 1203.2L488 1203.6L486 1203.6L484 1203.2L482.5 1202.6L481 1201.6L480 1200.5L479.2 1199L478.8 1197.5L478.9 1196L479.4 1194.5L480.4 1193L482 1191.7L483.5 1190.9L485.2 1190.5M484.4 1192L486.5 1191.7L488.5 1191.9L490.5 1192.7L492.4 1194L493.5 1195.5L493.8 1197L493.6 1198.5L492.6 1200L491.4 1201L490 1201.7L487 1202.3L484 1201.8L481.9 1200.5L481 1199.5L480.4 1198L480.3 1197L480.5 1195.6L481 1194.5L482 1193.4L483 1192.6L484.4 1192M484.3 1193.5L486 1193.1L487.5 1193.1L489 1193.5L490.5 1194.4L491.4 1195.5L491.8 1196.5L491.8 1198L491.2 1199L489.5 1200.4L487.5 1201L485.5 1200.9L483.5 1200L482.2 1198.5L481.9 1197.5L481.9 1196.5L482.5 1195L483.5 1194L484.3 1193.5M484.9 1195L486.5 1194.5L488.5 1195L489.1 1195.5L489.8 1196.5L489.8 1197.5L489.5 1198.2L488.7 1199L487.5 1199.4L486 1199.5L484.8 1199L483.9 1198L483.6 1197L483.9 1196L484.9 1195" stroke="#70E270" stroke-width="1.1" fill="none"/>
<path d="M479 1149.9h1.1M479.8 1138.4h1.1M474.8 1124.3h1.1M480.2 1100.1h1.1M491.5 1151.4h1.1M469.2 1165.8h1.1M481.9 1072.4h1.1M472.5 1065h1.1M480.6 1073.3h1.1M492.2 1161.5h1.1M483.9 1132.4h1.1M484.6 1107.3h1.1M469.3 1173.2h1.1M495.3 1169.7h1.1M477.8 1110.3h1.1M490.8 1104.1h1.1M485.8 1122.7h1.1M481.5 1129.6h1.1M496.8 1158h1.1M475.9 1162.1h1.1M491.7 1094.5h1.1M490.2 1159.4h1.1M484.3 1070.8h1.1M491.5 1085.7h1.1M487.5 1109.8h1.1M484.3 1070.6h1.1M483.4 1101.5h1.1M485.4 1065.1h1.1M488.6 1153.8h1.1M480.2 1139.1h1.1M476.8 1091.6h1.1M465.7 1121.6h1.1M483.5 1106.4h1.1M478.5 1155.4h1.1M493 1095.5h1.1M487.5 1088.9h1.1M493 1150.5h1.1M495.8 1148.2h1.1M481.1 1142.2h1.1M479.5 1069.3h1.1M488.6 1066.7h1.1M473.3 1168h1.1M473.7 1172.9h1.1M494.7 1085.3h1.1M488.3 1118h1.1M492.2 1114.8h1.1M474.6 1094.3h1.1M484.5 1071h1.1M492.4 1090.8h1.1M468.9 1171.5h1.1M485.7 1112.5h1.1M487.2 1085.5h1.1M470.6 1070.6h1.1M494.3 1135.6h1.1M475.5 1157.8h1.1M483.3 1090.7h1.1M495.5 1148h1.1M475.5 1064.5h1.1M487.6 1076.7h1.1M479.9 1134.8h1.1M484.6 1072.7h1.1M478.4 1115h1.1M494.1 1117.2h1.1M478.7 1065.2h1.1M490.5 1155.8h1.1M489.6 1146.2h1.1M480.1 1152.1h1.1M480.6 1136.4h1.1M482.4 1094.1h1.1M491.8 1141.2h1.1M487.6 1127.2h1.1M483.7 1133.1h1.1M475.8 1147.7h1.1M485.5 1095h1.1M494.2 1166.2h1.1M484.1 1114.7h1.1M494.7 1098h1.1M470.6 1122.2h1.1M505.9 1172.9h1.1M480.7 1142.3h1.1M477.1 1072.9h1.1M471.8 1093.5h1.1M490.8 1138.8h1.1M495.8 1171.2h1.1M482.8 1123.4h1.1M484 1123.6h1.1M485.1 1062.1h1.1M481.3 1079.5h1.1M494 1153.9h1.1M488.8 1089.6h1.1M483.5 1123.2h1.1M473.6 1139.8h1.1M494.2 1129.9h1.1M478.8 1149.3h1.1M476.9 1135.5h1.1M493.6 1097.3h1.1M487.9 1128.8h1.1M471.6 1141.4h1.1M474.6 1069.9h1.1M473.2 1172.1h1.1M475.3 1132.6h1.1M474.1 1173.2h1.1M503.2 1160.3h1.1M499.6 1065.6h1.1M484.1 1071.4h1.1M493.8 1159.6h1.1M490.8 1090h1.1M476.3 1165.9h1.1M467.4 1173.7h1.1M492.5 1149.7h1.1M483.1 1133.2h1.1M487.6 1112.1h1.1M495 1165.6h1.1M478.5 1133.7h1.1M495 1072.7h1.1M487.2 1144.8h1.1M486 1099.8h1.1M481.3 1077.5h1.1M489.5 1103.8h1.1M495 1159.9h1.1M478.6 1146.6h1.1M488.6 1105.3h1.1M477.4 1155.9h1.1M475.5 1125.8h1.1M482 1100.6h1.1M488.3 1073.6h1.1M489.3 1139.7h1.1M492.2 1090.2h1.1M479.5 1119.6h1.1M482.2 1089.3h1.1M484.9 1134h1.1M487.9 1068.7h1.1M483.5 1093.8h1.1M477.5 1133.3h1.1M471.2 1158.1h1.1M492.8 1145.1h1.1M492.1 1094.8h1.1M479.6 1107.3h1.1M495.1 1119.1h1.1M492.3 1169.9h1.1M487.7 1082.2h1.1M494.1 1151.9h1.1M481.2 1075h1.1M475.2 1157.7h1.1M472.8 1074.6h1.1M486.6 1105.6h1.1M487.6 1104.1h1.1M490.8 1138.1h1.1M488.8 1098h1.1M488.8 1153.9h1.1M499.6 1174.3h1.1M476.4 1143.9h1.1M486.3 1064.4h1.1M487.7 1072.9h1.1M479.6 1153.6h1.1M496.9 1108.6h1.1M487.6 1120.4h1.1M496.3 1158.4h1.1M491.3 1143.4h1.1M483.1 1122.1h1.1M498.4 1096.2h1.1M491.1 1071.2h1.1M484.5 1074.9h1.1M483.7 1068h1.1M476.9 1107.6h1.1M475.1 1170h1.1M482.8 1074.6h1.1M485.9 1120.7h1.1M481.4 1132.2h1.1M495.3 1169.3h1.1M493.7 1175.4h1.1M474.1 1136.8h1.1M480.8 1128.1h1.1M477.2 1142.6h1.1M475.2 1111.7h1.1M479.7 1151h1.1M493.9 1157.4h1.1M476.3 1086.5h1.1M469.9 1122.2h1.1M483.3 1097.7h1.1M505.2 1076.3h1.1M480.2 1110h1.1M486.4 1131h1.1M481.5 1121h1.1M490.6 1105.8h1.1M494.9 1125.4h1.1M483.3 1119.6h1.1M490.4 1065.1h1.1M476.4 1140.7h1.1M488.8 1151.9h1.1M475.3 1114.6h1.1M487.3 1136.3h1.1M480 1089.6h1.1M488.1 1145.2h1.1M476.3 1113.9h1.1M487.5 1135.1h1.1M487.1 1138.7h1.1M480.3 1111.2h1.1M478.6 1083.3h1.1M470.1 1168.9h1.1M477.5 1156.5h1.1M487.4 1105.7h1.1M483.5 1105.1h1.1M490.4 1158.6h1.1M493.5 1147.8h1.1M482.1 1093.6h1.1M490.3 1155.6h1.1M490.5 1100.6h1.1M492 1158h1.1M487 1074.6h1.1M493.1 1170h1.1M498.4 1103.7h1.1M491.5 1167h1.1M481.7 1090.1h1.1M488.7 1104.5h1.1M496.3 1090.9h1.1M494.7 1128.9h1.1M484.7 1090.9h1.1M490.8 1138.9h1.1M489.1 1139.5h1.1M487.6 1149.5h1.1M489.2 1113.7h1.1M489 1110.8h1.1M485.5 1090.6h1.1M496.9 1117.5h1.1M481.8 1122.2h1.1M494.6 1093.6h1.1M499.7 1125.6h1.1M499.8 1081.6h1.1M486.5 1109.7h1.1M483.2 1099h1.1M472.9 1122.8h1.1M487.1 1150.4h1.1M496.9 1065.5h1.1M473.2 1112.1h1.1M474.5 1073.5h1.1M490.5 1102.4h1.1M490.1 1145.9h1.1M473 1134.4h1.1M486.6 1143.7h1.1M490.3 1154.8h1.1M473.5 1100.8h1.1M491.4 1104.5h1.1M474.9 1083.5h1.1M492.7 1099.4h1.1M486 1132.5h1.1M478.5 1138.4h1.1M473.6 1142.9h1.1M482 1123.2h1.1M483.9 1067.8h1.1M481.5 1135.6h1.1M476 1158.6h1.1M477.1 1161.5h1.1M488.7 1064.6h1.1M477.9 1105h1.1M483 1118h1.1M487.8 1133.1h1.1M487.9 1152.7h1.1M488.8 1065.1h1.1M499.1 1164.6h1.1M481.9 1111.7h1.1M494.3 1172.2h1.1M465.9 1151.9h1.1M482 1107.2h1.1M496.2 1170.4h1.1M476.4 1115h1.1M493.3 1074.4h1.1M470.9 1084.9h1.1M494.2 1123.1h1.1M478.8 1148.5h1.1M477.1 1097.5h1.1M473.7 1168.9h1.1M482.5 1091.2h1.1M469.8 1173.4h1.1M475.2 1135.9h1.1M478.9 1145.7h1.1M491.3 1106.1h1.1M487.4 1122.6h1.1M494.1 1102.2h1.1M480 1119.6h1.1M477.3 1158h1.1M479.6 1149.5h1.1M489.6 1156h1.1M487.8 1109.1h1.1M497.1 1095.9h1.1M489.5 1129.5h1.1M493.6 1170.6h1.1M493.6 1142.5h1.1M478.8 1088.5h1.1M474 1152.3h1.1M494.1 1163h1.1M487.8 1146h1.1M487.5 1144.7h1.1M491.3 1139.2h1.1M482 1126.5h1.1M483.6 1106.9h1.1M488.7 1143.8h1.1M489.1 1110h1.1M491.5 1082.2h1.1M491.6 1164.1h1.1M493 1166.4h1.1M467.6 1076.3h1.1M494.4 1153.7h1.1M473.1 1132.7h1.1M484.1 1099.7h1.1M502.7 1099.6h1.1M482 1078.6h1.1M473 1112.9h1.1M496 1086.2h1.1M479.1 1138.7h1.1M475 1169.8h1.1M483.2 1095.9h1.1M489.7 1091.5h1.1M490 1121.5h1.1M483.5 1075.2h1.1M492.4 1078.2h1.1M477.9 1082.2h1.1M492.4 1156.5h1.1M479.9 1119.4h1.1M491.2 1151.7h1.1M475.9 1157h1.1M481.2 1096.4h1.1M495 1082h1.1M478 1068.9h1.1M475.6 1145.7h1.1M488.5 1123.4h1.1M477.4 1159.1h1.1M479.9 1136.7h1.1M483.3 1081.4h1.1M499.7 1117.2h1.1M476.9 1108.2h1.1M482.5 1075.7h1.1M485.6 1078.1h1.1M476.9 1142.4h1.1M486.2 1137.4h1.1M487.8 1109.9h1.1M478 1076.2h1.1M492.4 1091.3h1.1M476.1 1112.1h1.1M480.7 1146.2h1.1M486.8 1109.3h1.1M503.1 1148h1.1M471.7 1103.6h1.1M486.4 1130.7h1.1M499.7 1147.3h1.1M480 1109.8h1.1M492.2 1115.5h1.1M485.5 1068.2h1.1M474.8 1074.8h1.1M488.5 1139.6h1.1M478.6 1073h1.1M485 1083.5h1.1M473.5 1117.3h1.1M495.6 1167.8h1.1M462.1 1175.7h1.1M480.2 1150.3h1.1M493.6 1103.2h1.1M488 1082.3h1.1M481.8 1108.5h1.1M483 1069.2h1.1M481.2 1094.4h1.1M500.4 1142.7h1.1M483.9 1132.6h1.1M492 1168h1.1M479 1097.8h1.1M480.9 1109.6h1.1M489.9 1145.8h1.1M479.9 1090.7h1.1M478.5 1089.3h1.1M472 1173.5h1.1M481.8 1101.7h1.1M491.2 1161.9h1.1M480.8 1107.9h1.1M476.3 1164.5h1.1M475.6 1156.5h1.1M493.2 1095.4h1.1M484.8 1067.7h1.1M480.3 1137.8h1.1M486.4 1100.9h1.1M484 1099.6h1.1M473.7 1143.6h1.1M483 1108.9h1.1M496.2 1093.6h1.1M492.4 1160.2h1.1M493.8 1152.7h1.1M476.7 1154h1.1M473.6 1099.2h1.1M471.3 1173.4h1.1M494 1120.2h1.1M477.1 1098h1.1M478.6 1077.9h1.1M493.9 1154.3h1.1M480.4 1142.4h1.1M475.1 1168.8h1.1M486.7 1072.6h1.1M484.8 1068.2h1.1M476 1163.4h1.1M486.1 1090.7h1.1M479.2 1099.8h1.1M484 1076.5h1.1M489 1119.2h1.1M476.7 1085.6h1.1M483.1 1068.8h1.1M469.8 1170.8h1.1M489.7 1077.8h1.1M488.7 1103.8h1.1M491.1 1084.8h1.1M494 1155.9h1.1M492.6 1151.1h1.1M495.3 1166.8h1.1M478.7 1116.1h1.1M492.3 1151.7h1.1M475.3 1154.5h1.1M501 1157.7h1.1M486.4 1079.8h1.1M488.6 1117.9h1.1M475.8 1136.7h1.1M492 1096.9h1.1M493.5 1151.5h1.1M474.2 1134.5h1.1M477.4 1153.5h1.1M479 1146.9h1.1M479.6 1111.7h1.1M493.6 1075.3h1.1M499.9 1089.5h1.1M476.6 1118.5h1.1M498 1170.6h1.1M482.4 1085.6h1.1M495.4 1155.1h1.1M466.7 1091.2h1.1M481.2 1129h1.1M497.2 1164.7h1.1M478.8 1113.1h1.1M492.9 1087.1h1.1M480.6 1097.3h1.1M492.7 1147.1h1.1M489.3 1138.3h1.1M481.3 1133.5h1.1M478.8 1086.3h1.1M480.4 1148h1.1M495 1157.5h1.1M484.2 1114.7h1.1M479.5 1093.4h1.1M508.2 1131.3h1.1M472.7 1151.6h1.1M482.6 1113.8h1.1M488.2 1125.9h1.1M476.1 1147.3h1.1M491.5 1166.6h1.1M481.7 1071.1h1.1M474.3 1140.5h1.1M486.9 1069.3h1.1M476.1 1092.7h1.1M478 1139.7h1.1M493.2 1081.9h1.1M476.3 1137.8h1.1M490.5 1151.2h1.1M492.4 1139.7h1.1M493.7 1155.9h1.1M487.6 1131.6h1.1M482.6 1119.3h1.1M467.4 1174.4h1.1M485.3 1100.8h1.1M487.5 1081.6h1.1M480.6 1118.4h1.1M477.1 1128.8h1.1M490.5 1103.3h1.1M470.2 1170.6h1.1M487.4 1099.8h1.1M480.8 1083.3h1.1M472.1 1123.1h1.1M495.9 1087.4h1.1M488.6 1133.6h1.1M488.1 1095.2h1.1M474 1103.8h1.1M481.1 1140.3h1.1M487.8 1139.5h1.1M480.2 1067.4h1.1M496.1 1126.4h1.1M469.6 1126.6h1.1M489.3 1103h1.1M470.6 1104.2h1.1M472.9 1131.1h1.1M474.3 1151.2h1.1M490.2 1151h1.1M475.2 1158.4h1.1M479.3 1122.7h1.1M477.6 1091.4h1.1M473.8 1145.5h1.1M477.6 1080.7h1.1M479.3 1064.2h1.1M481.7 1077.9h1.1M482 1068.1h1.1M466.7 1110.2h1.1M479.3 1107.1h1.1M499 1171.9h1.1M476 1159.2h1.1M478.8 1156.3h1.1M477.5 1145.9h1.1M478.9 1082.7h1.1M483.3 1079.7h1.1M472.5 1155.5h1.1M480.1 1148.9h1.1M474.9 1067.5h1.1M486.2 1109.3h1.1M472.4 1092.8h1.1M488.5 1125.1h1.1M491 1113.5h1.1M472 1115.2h1.1M488.6 1132.8h1.1M478.6 1150.2h1.1M496.2 1163.4h1.1M479.8 1117.3h1.1M481.6 1105.1h1.1M476.7 1159.5h1.1M490.1 1064.8h1.1M471 1149.8h1.1M488 1068.2h1.1M484.3 1095.7h1.1M473.5 1167.2h1.1M481.9 1097.4h1.1M488.9 1067.6h1.1M489.4 1076.4h1.1M500.9 1171h1.1M479 1108.7h1.1M470 1104h1.1M473.8 1165.1h1.1M477.3 1158.7h1.1M480.4 1090.1h1.1M491.9 1075.7h1.1M501.9 1164h1.1M486.3 1105.5h1.1M470.7 1114.5h1.1M491 1079.9h1.1M478.9 1108.8h1.1M490.6 1163.9h1.1M495.1 1165.6h1.1M486.2 1083.7h1.1M481.2 1135.2h1.1M485.6 1078.1h1.1M489 1119.7h1.1M490.2 1151.4h1.1M498.5 1091.5h1.1M462 1129.1h1.1M477.9 1084.2h1.1M479.3 1093.9h1.1M489.8 1135h1.1M485.1 1100.4h1.1M489.7 1086.8h1.1M473.3 1098.6h1.1M479.6 1148.9h1.1M488.2 1109.6h1.1M483.2 1130.5h1.1M480.7 1091.7h1.1M485.5 1133.1h1.1M492.5 1066.8h1.1M471.9 1068.5h1.1M495 1086.8h1.1M488.6 1152h1.1M477.4 1082h1.1M488.3 1109.8h1.1M493.6 1175.3h1.1M492.2 1088.6h1.1M477.7 1078.7h1.1M490.5 1093.5h1.1M477 1122.6h1.1M492.1 1164.3h1.1M487.3 1065.6h1.1M482.9 1122.6h1.1M486.9 1064h1.1M470.8 1175.1h1.1M491.2 1114.1h1.1M478.8 1139.1h1.1M478.5 1091.4h1.1M482.7 1116h1.1M478.8 1155.9h1.1M477.9 1075.5h1.1M489.3 1086.5h1.1M482.6 1096.6h1.1M491.2 1155.7h1.1M469.1 1164.6h1.1M474.2 1147.5h1.1M481.6 1090h1.1M476.4 1098h1.1M480.2 1145.8h1.1M487.6 1112.7h1.1M491.6 1101.6h1.1M500.9 1175.6h1.1M489.2 1091.2h1.1M476.8 1150.9h1.1M487.5 1082.1h1.1M473.7 1166h1.1M487.4 1094.5h1.1M470.7 1167h1.1M492.9 1143h1.1M491.8 1161.7h1.1M480.1 1134.6h1.1M474.8 1073.8h1.1M485.6 1107.3h1.1M471.6 1173.6h1.1M485.3 1076.2h1.1M478.4 1122.7h1.1M479.6 1121.5h1.1M488 1111.8h1.1M494.2 1094h1.1M474.4 1097.2h1.1M482.2 1085.2h1.1M486.4 1091.9h1.1M483 1066.2h1.1M478.6 1147.4h1.1M501.3 1163.8h1.1M477.5 1087.1h1.1M485.7 1068.6h1.1M480 1105.8h1.1M483 1074.3h1.1M467.1 1110.6h1.1M489.9 1091.1h1.1M482 1127.7h1.1M476 1146.6h1.1M498.2 1161.9h1.1M479.7 1143.7h1.1M475.8 1156.4h1.1M469.5 1175.4h1.1M491.2 1107.7h1.1M483.8 1079.8h1.1M481.3 1081.4h1.1M474 1115h1.1M476.7 1141.2h1.1M490.2 1156.8h1.1M483.4 1081h1.1M469.1 1121.7h1.1M478.5 1070.7h1.1M485.2 1127.3h1.1M503 1160.6h1.1M478.1 1101.3h1.1M470.1 1139.3h1.1M489.5 1134.1h1.1M479 1137.7h1.1M474.1 1082.8h1.1M487.6 1120.1h1.1M482.4 1068.3h1.1M476.6 1109h1.1M476.5 1068.1h1.1M474.1 1172h1.1M484.2 1101.4h1.1M470.8 1090.3h1.1M495.6 1164.9h1.1M474.4 1111.3h1.1M493.7 1120.3h1.1M491.3 1160.9h1.1M482.2 1121.6h1.1M486 1106.7h1.1M477.9 1146.1h1.1M483.1 1096.3h1.1M495.4 1079.2h1.1M478.2 1143.8h1.1M489.5 1118.7h1.1M469.2 1175.7h1.1M483.4 1124.2h1.1M495.3 1164.2h1.1M477.4 1066.9h1.1M485.5 1064.6h1.1M468.1 1102h1.1M472.9 1157.1h1.1M480.6 1116.2h1.1M489.9 1131.5h1.1M488.7 1103.4h1.1M477 1101.4h1.1M482.6 1099.7h1.1M484.9 1094.3h1.1M475.6 1066.1h1.1M488.1 1139.1h1.1M493.3 1097.2h1.1M497.4 1166.7h1.1M479.3 1129.2h1.1M480.6 1079.7h1.1M476.8 1095.5h1.1M480 1082.7h1.1M479.5 1148h1.1M488.5 1090.8h1.1M484.2 1125.7h1.1M476.9 1111.4h1.1M489.5 1103.9h1.1M494 1160.8h1.1M479.2 1120.4h1.1M481.8 1097.4h1.1M482.8 1081.4h1.1M471.7 1096h1.1M484.6 1083.6h1.1M489.3 1137.7h1.1M496.2 1146.8h1.1M485 1130h1.1M479.7 1143.1h1.1M480.1 1147.3h1.1M488 1127.4h1.1M489.3 1083.5h1.1M477.3 1135h1.1M484.8 1064.7h1.1M488.3 1116.3h1.1M469.1 1080.3h1.1M493 1141.5h1.1M480.3 1138.1h1.1M489.9 1099.8h1.1M483.3 1128.6h1.1M479.9 1143.1h1.1M483.1 1120.3h1.1M485.7 1091h1.1M489.5 1074.9h1.1M476.3 1161.3h1.1M476.8 1072h1.1M478.6 1084.6h1.1M475.5 1150.9h1.1M487.9 1067.7h1.1M476.7 1078.3h1.1M494.6 1104.4h1.1M484.6 1079.2h1.1M483.3 1066.6h1.1M493.4 1150.4h1.1M481 1081.7h1.1M474.8 1166.2h1.1M488.1 1067.6h1.1M489 1093.2h1.1M476.5 1127.1h1.1M499.5 1073.4h1.1M487.7 1116.5h1.1M474.6 1117.5h1.1M482.4 1130.4h1.1M496.1 1167.6h1.1M485.3 1108.6h1.1M495.2 1165.6h1.1M500.7 1086.9h1.1M490.6 1136.5h1.1M498.1 1110.9h1.1M490.3 1150.5h1.1M478.9 1121.4h1.1M496.9 1159.3h1.1M478.7 1079.6h1.1M490.6 1092.1h1.1M488.4 1124.1h1.1M477.5 1134.4h1.1M478.7 1105.2h1.1M478.9 1153.6h1.1M486.7 1105.1h1.1M498.5 1168.4h1.1M492.1 1168.1h1.1M494.1 1066.9h1.1M490.3 1135.1h1.1M474.9 1160.1h1.1M480.6 1067.8h1.1M487 1146.2h1.1M480.1 1128.4h1.1M483.3 1121h1.1M489.5 1093.2h1.1M487.9 1145.8h1.1M491 1087.1h1.1M479 1082.8h1.1M477.7 1101.9h1.1M467.1 1175h1.1M471.1 1108.3h1.1M480.8 1078.3h1.1M484.5 1107.6h1.1M480 1149.3h1.1M484.1 1133.2h1.1M496.8 1143.9h1.1M473.8 1156.2h1.1M482.1 1095.2h1.1M480.5 1101.6h1.1M473.8 1159.7h1.1M493.8 1105.6h1.1M483.8 1120.4h1.1M495.2 1157h1.1M475.9 1133.7h1.1M500.8 1166.1h1.1M495 1063.7h1.1M477.8 1132.6h1.1M484 1120.2h1.1M483.2 1108.8h1.1M488.1 1095.8h1.1M474.7 1104.9h1.1M490.8 1155.2h1.1M489.3 1116.3h1.1M479.8 1087.1h1.1M470.2 1141.1h1.1M476.1 1155.4h1.1M481.3 1108.3h1.1M489.5 1076.9h1.1M478.1 1146.9h1.1M475.8 1140.8h1.1M489.6 1141.1h1.1M486 1063.6h1.1M489.1 1075.6h1.1M493.3 1172.2h1.1M491.7 1125.2h1.1M487.8 1091.6h1.1M474.4 1067.7h1.1M485.6 1116.2h1.1M489.7 1098.9h1.1M484.4 1079.7h1.1M493.5 1134.7h1.1M480.9 1082.5h1.1M496 1170h1.1M475.3 1088.5h1.1M490.7 1163.3h1.1M480.2 1102.5h1.1M477 1095.3h1.1M474.6 1148.5h1.1M485.8 1119.6h1.1M487.3 1078h1.1M475.8 1157.8h1.1M475.3 1124.8h1.1M477.9 1126.8h1.1M489.6 1105.1h1.1M473.4 1156.1h1.1M492.4 1132.1h1.1M474.3 1070.4h1.1M491.9 1162.9h1.1M489 1126.5h1.1M493 1093.1h1.1M481.9 1066.7h1.1M480.2 1066.8h1.1M474.4 1075.9h1.1M490.7 1091.3h1.1M483.3 1122.2h1.1M480.9 1087.7h1.1M478.5 1151.9h1.1M486 1122h1.1M484.4 1110.8h1.1M492.7 1110.9h1.1M468.7 1089.4h1.1M490.3 1123.3h1.1M480.4 1088.5h1.1M483.6 1098.8h1.1M481.9 1120.2h1.1M481.6 1134.4h1.1M489.6 1099.4h1.1M487.8 1144.2h1.1M473.8 1102.8h1.1M476.3 1166.3h1.1M483.5 1079h1.1M486.9 1127.9h1.1M484.5 1102.4h1.1M483.6 1113.8h1.1M491.1 1075.2h1.1M476.4 1100.5h1.1M499.9 1083.5h1.1M479 1139.1h1.1M475.8 1150.4h1.1M491.5 1151.6h1.1M496.8 1166h1.1M493.3 1105.6h1.1M493.5 1134.9h1.1M495.2 1171h1.1M484.7 1119h1.1M487 1121.3h1.1M486.3 1136.7h1.1M481.5 1065.5h1.1M497.6 1158.8h1.1M497.4 1109.4h1.1M487 1148.1h1.1M482.7 1077.1h1.1M480.7 1118.1h1.1M472.2 1126.9h1.1M477.7 1150.1h1.1M480.6 1130h1.1M484.1 1132.9h1.1M471.4 1167.4h1.1M470.6 1092.9h1.1M489 1113.2h1.1M499.2 1162.4h1.1M469 1114h1.1M483.3 1129.5h1.1M490.5 1119.6h1.1M469.1 1173h1.1M474.6 1139.4h1.1M487.4 1150.1h1.1M483.1 1065.6h1.1M479.7 1107h1.1M495.2 1147.2h1.1M495.1 1081.2h1.1M490.7 1150.9h1.1M491.4 1167h1.1M479.7 1148.8h1.1M491.3 1144.4h1.1M482.7 1093.4h1.1M494.6 1075.8h1.1M498.6 1169h1.1M480 1110.1h1.1M495 1164.8h1.1M494.4 1138.1h1.1M495.5 1168.2h1.1M479.7 1064.9h1.1M479.1 1153.2h1.1M479.8 1146.3h1.1M485.3 1126.2h1.1M484.7 1080.6h1.1M482 1085.2h1.1M496.5 1167.9h1.1M494.3 1106.4h1.1M478.6 1147.8h1.1M467.6 1173.3h1.1M487.2 1088h1.1M484.6 1069.6h1.1M486.7 1066h1.1M479.7 1111.2h1.1M490.5 1156h1.1M475.9 1153.1h1.1M492.5 1129.3h1.1M492.2 1062.3h1.1M478 1090.1h1.1M466 1078.9h1.1M481.2 1079.8h1.1M481 1077.1h1.1M485.6 1065.9h1.1M484.9 1119.4h1.1M488.3 1100.9h1.1M504.3 1102.2h1.1M480.7 1093.4h1.1M479 1152.2h1.1M487.9 1095.1h1.1M471.5 1079.9h1.1M490.4 1094.2h1.1M480.3 1090.4h1.1M474.4 1101.5h1.1M478.7 1105.3h1.1M488.4 1087.9h1.1M490.9 1133.6h1.1M493.8 1079.7h1.1M494 1165.6h1.1M474.5 1162.7h1.1M488.9 1118.3h1.1M486.8 1145.3h1.1M501.7 1086.4h1.1M470 1095.2h1.1M499.9 1165.6h1.1M490.4 1116h1.1M489.4 1146.4h1.1M488.3 1154.6h1.1M479.3 1142h1.1M478 1113.6h1.1M473.7 1105.3h1.1M496.3 1068.8h1.1M495.2 1160.6h1.1M490.4 1141h1.1M486.9 1069.2h1.1M470 1157.1h1.1M483 1094.5h1.1M490.7 1159h1.1M493.3 1079.1h1.1M479.8 1064.5h1.1M491.7 1159.9h1.1M476.8 1163.4h1.1M485.2 1118.2h1.1M473.4 1166.1h1.1M487.2 1072.2h1.1M485.6 1079.1h1.1M466.1 1172.7h1.1M498.9 1169.1h1.1M498.2 1141.2h1.1M478.7 1100.2h1.1M493 1143.4h1.1M480.4 1062h1.1M481.3 1102.4h1.1M499 1159.1h1.1M486.5 1088.1h1.1M495.7 1076.7h1.1M487.2 1118h1.1M492.1 1138.8h1.1M483.9 1097.4h1.1M496.4 1155.2h1.1M500.9 1165.4h1.1M490 1086.7h1.1M481.1 1105.9h1.1M477.9 1157.2h1.1M478.4 1119.3h1.1M490.6 1147.1h1.1M488.9 1097.7h1.1M476.8 1155.2h1.1M494.3 1157.2h1.1M478.8 1150.4h1.1M500.2 1162.2h1.1M491.2 1106.6h1.1M496.7 1120.9h1.1M477.1 1154h1.1M477.2 1144.4h1.1M472.1 1123.2h1.1M488.3 1066h1.1M477.2 1086.8h1.1M494.9 1113.7h1.1M488.4 1147.8h1.1M495.8 1165.1h1.1M468.8 1174.5h1.1M481 1105.9h1.1M494.7 1172.1h1.1M490.6 1105.5h1.1M476 1082.7h1.1M494.4 1167.9h1.1M479.8 1074.1h1.1M491.1 1116.3h1.1M480.6 1150.4h1.1M483.2 1133.4h1.1M492.5 1159h1.1M493.6 1122.5h1.1M483.6 1112.8h1.1M494.1 1100.5h1.1M478.1 1133.1h1.1M487.3 1126.4h1.1M477.3 1120h1.1M488.3 1139.5h1.1M478.8 1119.7h1.1M487.5 1141.1h1.1M489.8 1119h1.1M476.9 1150.4h1.1M472.7 1085.2h1.1M484 1103.1h1.1M489 1096.8h1.1M492.3 1162.2h1.1M478.8 1128.2h1.1M497.3 1169.3h1.1M483.2 1125.6h1.1M496.7 1168.7h1.1M477.7 1146.3h1.1M493.8 1163.9h1.1M493.7 1096h1.1M471.6 1175.5h1.1M483.2 1096.2h1.1M490.7 1147.4h1.1M489 1132.7h1.1M487.8 1102.5h1.1M484.4 1073.8h1.1M476.6 1067.2h1.1M484.9 1063.2h1.1M476 1124.8h1.1M485.8 1126h1.1M469.8 1074.4h1.1M492.5 1066.4h1.1M494.1 1064.2h1.1M488.4 1128.1h1.1M477.7 1148h1.1M476.4 1164.4h1.1M491.6 1115.5h1.1M490.8 1146.6h1.1M480.2 1089.1h1.1M491.5 1067.6h1.1M490.4 1127.6h1.1M489 1099.1h1.1M482.7 1107.7h1.1M485.1 1075.1h1.1M478.8 1140.8h1.1M492.1 1162.7h1.1M478.7 1146.7h1.1M493.6 1118.6h1.1M485.5 1100.4h1.1M486.7 1125.8h1.1M487.5 1130.7h1.1M488.7 1139.6h1.1M475 1128.7h1.1M494.3 1127.9h1.1M485.9 1101.7h1.1M481.2 1131.6h1.1M478.2 1126.7h1.1M480.3 1119h1.1M480.8 1130.9h1.1M485.2 1113.6h1.1M478.3 1136h1.1M485.9 1115.1h1.1M486.2 1116.5h1.1M480.2 1121.5h1.1M500.9 1128.3h1.1M484.3 1119.8h1.1M487.5 1114.8h1.1M485.9 1128.4h1.1M484 1127.9h1.1M489.9 1097.1h1.1M494.9 1122.6h1.1M484.6 1092.9h1.1M479 1113.3h1.1M489 1130.3h1.1M469.7 1109.6h1.1M487.6 1135.5h1.1M481.3 1141.7h1.1M488.8 1143h1.1M474.3 1121.5h1.1M480.3 1137.5h1.1M476.7 1147.6h1.1M481.2 1119.5h1.1M489.2 1131.4h1.1M483.6 1082h1.1M480.7 1131.1h1.1M493.4 1089.7h1.1M486.9 1138h1.1M470.5 1108.2h1.1M477.5 1125.6h1.1M486.4 1061h1.1M488 1132.8h1.1M486.5 1096.4h1.1M486.7 1122.3h1.1M478.4 1133.3h1.1M484.2 1129.2h1.1M476.2 1139.9h1.1M478.8 1118.9h1.1M478.3 1131.1h1.1M478 1138.4h1.1M482.3 1081.6h1.1M481.1 1138.2h1.1M479 1132h1.1M492.4 1123.3h1.1M494.3 1138.2h1.1M491.8 1140.7h1.1M476 1090.3h1.1M490.9 1131.6h1.1M475.1 1138.9h1.1M494.9 1116.8h1.1M488.1 1136.4h1.1M477.5 1132.6h1.1M469 1129.8h1.1M479.8 1142.1h1.1M474.9 1130.1h1.1M492.1 1140h1.1M475.6 1110.9h1.1M482.8 1133.7h1.1M489.1 1141.4h1.1M487.2 1148.9h1.1M486.2 1083.1h1.1M482.6 1100.2h1.1M489.5 1110.5h1.1M477.7 1123.9h1.1M488.4 1111.5h1.1M476 1137.6h1.1M485.6 1110.8h1.1M475.8 1145.1h1.1M482.9 1133.8h1.1M493 1077.7h1.1M472.7 1142h1.1M477.9 1142h1.1M477.4 1122.7h1.1M492.9 1113.7h1.1M478.1 1092.4h1.1M489.3 1091h1.1M481.7 1065.7h1.1M478 1061.5h1.1M487.5 1147h1.1M476.2 1118.1h1.1M489.4 1126.1h1.1M490.6 1139.8h1.1M493.7 1095.6h1.1M477 1119.8h1.1M495.4 1092h1.1M491.1 1117.4h1.1M471.5 1122.1h1.1M497.8 1144.8h1.1M489.8 1055.3h1.1M476.9 1097.5h1.1M486.6 1125.2h1.1M474.7 1112.8h1.1M481.3 1136.8h1.1M485.5 1092.5h1.1M488.6 1095.3h1.1M477.6 1141h1.1M486.1 1135.9h1.1M477.6 1125.6h1.1M488.3 1139.2h1.1M489.9 1142.4h1.1M484.7 1116.1h1.1M492.4 1133.3h1.1M490 1135.8h1.1M486.9 1128.4h1.1M492 1136.3h1.1M475.4 1130.3h1.1M484 1102h1.1M471.6 1102.9h1.1M484.1 1121.6h1.1M480.9 1126h1.1M490.1 1120.4h1.1M481.1 1118.3h1.1M479.7 1113h1.1M483.5 1117.1h1.1M483.3 1130.3h1.1M487.9 1125.3h1.1M478 1129.1h1.1M473.5 1098.1h1.1M472.9 1118.5h1.1M492.4 1104.2h1.1M475.7 1135.8h1.1M480.9 1120.4h1.1M476.3 1117.5h1.1M491 1142.2h1.1M480.2 1124.4h1.1M493 1105.1h1.1M479.2 1086.2h1.1M486.3 1128.3h1.1M489.6 1131.1h1.1M491.4 1142.1h1.1M475.4 1147h1.1M479.5 1147.4h1.1M483.7 1115.7h1.1M471.2 1129.9h1.1M489.3 1130.3h1.1M487 1114.3h1.1M487.9 1102.4h1.1M474.3 1087.4h1.1M485.5 1096.4h1.1M487.3 1120.9h1.1M492.1 1148.8h1.1M480.5 1123.9h1.1M489.7 1137.2h1.1M496 1136.4h1.1M481.2 1122.2h1.1M481.3 1118.4h1.1M481.9 1085.6h1.1M473.6 1124.3h1.1M481.7 1123.9h1.1M495.8 1127.8h1.1M477.2 1139.5h1.1M483.3 1064.5h1.1M492.8 1098.9h1.1M488.3 1110.9h1.1M485.9 1120.9h1.1M481.9 1079.8h1.1M483.5 1114.4h1.1M489.2 1122.6h1.1M484.8 1110.5h1.1M491 1131.9h1.1M476.3 1061h1.1M490.1 1111h1.1M480.5 1126h1.1M484.4 1130.9h1.1M481.3 1129.9h1.1M488.9 1120.5h1.1M483.4 1131.9h1.1M488.7 1119.9h1.1M478.6 1133h1.1M485.6 1103.9h1.1M493 1117.2h1.1M492.2 1121.9h1.1M481.8 1097.5h1.1M485.3 1122.4h1.1M481.7 1128.3h1.1M483.5 1120.7h1.1M484.4 1132h1.1M492.9 1094.7h1.1M489.3 1138h1.1M494.1 1145.5h1.1M495.2 1126.6h1.1M475.3 1102.2h1.1M486.5 1131.1h1.1M481.1 1103.6h1.1M477.1 1062.1h1.1M476.6 1133.7h1.1M480.7 1129.5h1.1M491.1 1059.7h1.1M487 1140.6h1.1M480.6 1143.9h1.1M484.1 1122.4h1.1M479 1085.7h1.1M485.6 1126.4h1.1M483.7 1127.2h1.1M472.8 1121.2h1.1M480.6 1105.8h1.1M503.1 1137.7h1.1M488.8 1124.5h1.1M483.6 1132.1h1.1M489.1 1126.5h1.1M477.4 1129.4h1.1M487.2 1143.3h1.1M490.6 1116.2h1.1M473.5 1145.5h1.1M478.3 1137.3h1.1M481.5 1125.1h1.1M482.3 1104.7h1.1M480.7 1130.3h1.1M486.3 1110.5h1.1M491.6 1094.4h1.1M486.8 1126.4h1.1M491.6 1110.4h1.1M491.6 1077.1h1.1M480.1 1113.8h1.1M486.3 1117.9h1.1M481.7 1129.4h1.1M489 1102.7h1.1M481.9 1115.9h1.1M483 1130.6h1.1M496.3 1129.6h1.1M483.1 1091.8h1.1M473.4 1115.5h1.1M485.2 1100h1.1M486.5 1115.4h1.1M479.4 1138.3h1.1M484.9 1117h1.1M491.6 1112.9h1.1M479.3 1140.1h1.1M483 1130.5h1.1M478.3 1141.5h1.1M486.7 1122.9h1.1M481 1144h1.1M477.2 1141.7h1.1M483.3 1103.7h1.1M497.3 1122.3h1.1M472.4 1118.3h1.1M475.2 1136.4h1.1M486.8 1121.1h1.1M474.6 1098.2h1.1M498.1 1107.4h1.1M473.9 1086.5h1.1M475.2 1143h1.1M480.8 1089.5h1.1M492 1129.4h1.1M490 1122.8h1.1M489.6 1143.5h1.1M486.5 1093.9h1.1M493.5 1124h1.1M471.6 1081.3h1.1M487.9 1140h1.1M494.5 1103.8h1.1M476.9 1130.7h1.1M486.6 1128h1.1M493 1115.5h1.1M492.6 1137.8h1.1M483.4 1127.9h1.1M497.5 1098.9h1.1M488 1125.7h1.1M491.9 1120.9h1.1M476.5 1141.3h1.1M479.1 1119h1.1M477.9 1143h1.1M495.3 1141.1h1.1M468 1082.9h1.1M471.5 1128.2h1.1M490 1132h1.1M485.4 1133.5h1.1M466.8 1148.5h1.1M480.2 1135.2h1.1M482.3 1086.8h1.1M492.6 1141.6h1.1M472.6 1137.8h1.1M480.7 1117.6h1.1M491.5 1135.1h1.1M489.5 1075.9h1.1M478 1127h1.1M482.4 1125.7h1.1M474.1 1129.8h1.1M493.2 1138h1.1M481.4 1112.6h1.1M493.3 1107.6h1.1M490 1094.4h1.1M477.4 1143h1.1M483.4 1107.2h1.1M489.5 1136.1h1.1M487.5 1112.8h1.1M495.1 1084.7h1.1M492 1138.2h1.1M486.7 1132.6h1.1M489.3 1126.4h1.1M479.5 1100.3h1.1M480.3 1098.6h1.1M489.3 1135.9h1.1M486.8 1106.1h1.1M476.7 1090.3h1.1M483.9 1101.9h1.1M478.9 1110.8h1.1M480.6 1126.8h1.1M493.5 1127.9h1.1M477.9 1115.1h1.1M479.9 1101.1h1.1M488.4 1087.8h1.1M485 1122.1h1.1M487.9 1147.2h1.1M474.4 1092.8h1.1M486.6 1140.7h1.1M478.8 1112h1.1M480.6 1126.2h1.1M482.5 1121.7h1.1M490.5 1135.3h1.1M497.6 1133.9h1.1M485.3 1114h1.1M494.9 1118.2h1.1M487 1135.9h1.1M474.4 1145.3h1.1M484.9 1103.3h1.1M493.5 1091h1.1M493.6 1141.1h1.1M478.4 1110h1.1M500.1 1107.1h1.1M478.7 1134.1h1.1M479.5 1111.8h1.1M479.1 1144.6h1.1M494.1 1075.5h1.1M487.3 1110.3h1.1M490.9 1129.3h1.1M469.1 1105.3h1.1M486.1 1135h1.1M483.8 1129.5h1.1M490.1 1140.3h1.1M481.3 1113.4h1.1M492.9 1090.4h1.1M479.8 1126.3h1.1M475.3 1138h1.1M473.2 1100.5h1.1M493.4 1129.1h1.1M489.9 1104h1.1M479.1 1121.3h1.1M492.3 1119h1.1M483.4 1109.7h1.1M483.8 1085.6h1.1M480.1 1053.6h1.1M480.8 1105.8h1.1M485.4 1094.6h1.1M486 1097.4h1.1M480.7 1117.5h1.1M491.5 1126.5h1.1M493.6 1138.3h1.1M479 1114.3h1.1M488.6 1137.8h1.1M474 1133.1h1.1M487.5 1100.3h1.1M477.9 1085.6h1.1M483.6 1102.2h1.1M487.3 1134.8h1.1M482.9 1130.7h1.1M491.9 1106.4h1.1M479.2 1098.2h1.1M481.4 1087.3h1.1M486.9 1124.6h1.1M486.5 1138.8h1.1M486.4 1078.5h1.1M483.2 1105h1.1M479 1131.9h1.1M489.3 1123.2h1.1M485.2 1107h1.1M491.3 1141.9h1.1M489.5 1058.2h1.1M480.1 1143h1.1M479.5 1095.6h1.1M481.5 1094.6h1.1M478.9 1140.4h1.1M470.9 1121.2h1.1M496.1 1109.7h1.1M487.5 1125.8h1.1M480.8 1106.5h1.1M488.8 1096.5h1.1M486.6 1115.4h1.1M486.4 1139.5h1.1M491.5 1110h1.1M487.1 1145.3h1.1M485.8 1129.7h1.1M478.9 1134.1h1.1M479.6 1129h1.1M494.5 1135.5h1.1M488.8 1120.4h1.1M490.1 1120.6h1.1M489.1 1102h1.1M483.4 1132.1h1.1M496.2 1113.7h1.1M483.3 1124h1.1M474.9 1091.3h1.1M489.1 1121.7h1.1M492.9 1124.8h1.1M485.4 1098h1.1M487.2 1123.1h1.1M491.4 1116.3h1.1M495.3 1118.4h1.1M489.4 1136.8h1.1M496.4 1125.7h1.1M486.7 1130.5h1.1M497.3 1072.2h1.1M475.2 1100.5h1.1M491.3 1128.3h1.1M486.7 1124.4h1.1M485.6 1118.7h1.1M476.1 1136.2h1.1M492.2 1112h1.1M483.4 1129.4h1.1M477.9 1100.6h1.1M478.5 1149.2h1.1M483.1 1108.5h1.1M485.4 1110.3h1.1M478.5 1119.2h1.1M478.4 1127.3h1.1M487.4 1075h1.1M484.2 1094.7h1.1M498.4 1114.8h1.1M480.1 1139.6h1.1M489.9 1126.3h1.1M494.9 1134h1.1M483.4 1111h1.1M491.6 1088.5h1.1M486.8 1133.6h1.1M485.1 1119.5h1.1M494.3 1072h1.1M477.2 1142.2h1.1M479.4 1136.7h1.1M472.5 1118.9h1.1M483.9 1121.7h1.1M491.4 1137.4h1.1M480.8 1141.5h1.1M490.4 1133.5h1.1M479.5 1118h1.1M492.7 1103.9h1.1M486.4 1141.6h1.1M481.4 1117.5h1.1M496.1 1129.7h1.1M486.5 1134.9h1.1M488.7 1096.3h1.1M485.6 1130.9h1.1M489.6 1122.4h1.1M487.6 1144.1h1.1M475.9 1145.8h1.1M486.7 1104.3h1.1M488 1117.8h1.1M488.3 1134h1.1M483.2 1097.7h1.1M497.3 1129.9h1.1M479.7 1125.5h1.1M487.2 1136.8h1.1M486.2 1129.2h1.1M479 1067.4h1.1M476.6 1135.4h1.1M489.7 1134.5h1.1M489.4 1132.8h1.1M487.2 1135.9h1.1M473.6 1111.7h1.1M482.7 1121.6h1.1M487.9 1138.6h1.1M489 1134h1.1M492.9 1103.6h1.1M487.9 1133.3h1.1M488.3 1059.3h1.1M496.2 1124.8h1.1M468.8 1077.4h1.1M488.9 1062h1.1M481.7 1090.9h1.1M488.1 1120.1h1.1M486.2 1121h1.1M477.3 1136.9h1.1M478.5 1108.1h1.1M485.6 1050.8h1.1M489.8 1094.9h1.1M482.1 1108.4h1.1M499.5 1128.3h1.1M482.9 1107.5h1.1M499 1089.5h1.1M478.5 1137.7h1.1M489.8 1145.1h1.1M492.2 1139.1h1.1M475.7 1096.6h1.1M478 1094.2h1.1M488.8 1140.7h1.1M492.6 1133.8h1.1M494.1 1133.1h1.1M489.5 1139.9h1.1M491.9 1128h1.1M476.7 1104.1h1.1M481.8 1116.6h1.1M494.7 1129.4h1.1M479.3 1140.9h1.1M483 1085.8h1.1M472.7 1127.1h1.1M483.4 1128.8h1.1M473.7 1111.2h1.1M487.2 1114.2h1.1M493.9 1140h1.1M488.4 1141.3h1.1M482.3 1071.8h1.1M488.5 1078.5h1.1M478.4 1069.7h1.1M481.5 1090.7h1.1M499.6 1091h1.1M475.7 1121.3h1.1M480.8 1109.9h1.1M475 1089.7h1.1M493.1 1111.5h1.1M483 1127.7h1.1M475.9 1101.8h1.1M476 1114.8h1.1M492.3 1123.2h1.1M490.4 1146.1h1.1M490.1 1107.5h1.1M484.2 1055.8h1.1M490.8 1093.7h1.1M493.7 1114.1h1.1M489.2 1096.2h1.1M474.3 1139h1.1M471 1117.2h1.1M474.5 1097.6h1.1M486.4 1113.7h1.1M477.4 1064.8h1.1M477.1 1102.5h1.1M486.6 1135.2h1.1M478.5 1083.7h1.1M475.7 1125.9h1.1M491.2 1094.1h1.1M487.2 1069.8h1.1M490.2 1135.5h1.1M491 1137.6h1.1M494.4 1085.3h1.1M484.2 1105.3h1.1M481.2 1137.2h1.1M472.3 1112.6h1.1M482.8 1132.5h1.1M480.9 1071.8h1.1M491.7 1120.4h1.1M489.1 1083.3h1.1M494.6 1116h1.1M492.2 1144.8h1.1M492.8 1147.9h1.1M488.1 1113.7h1.1M485.4 1110.7h1.1M481.7 1123.2h1.1M484.3 1076.6h1.1M477.8 1132.4h1.1M487.1 1120.5h1.1M483.8 1129.6h1.1M470.3 1128.6h1.1M465.7 1088.7h1.1M478.1 1142.5h1.1M479.2 1145.1h1.1M482.2 1109.7h1.1M492.8 1139.8h1.1M480 1125.4h1.1M476.2 1074.8h1.1M486.5 1070.8h1.1M491.1 1135.1h1.1M495.7 1110.9h1.1M477.3 1133h1.1M480.5 1141.1h1.1M480.1 1134.5h1.1M494.7 1123h1.1M490.1 1143.6h1.1M484.4 1121.6h1.1M489.3 1121.1h1.1M479.8 1143.3h1.1M480.9 1138.7h1.1M484 1089.5h1.1M480.8 1092.9h1.1M482.5 1124.1h1.1M486.3 1071.2h1.1M487.4 1136.2h1.1M493.7 1140.9h1.1M490.9 1143.7h1.1M481.1 1144.8h1.1M469.1 1121.5h1.1M474 1113.1h1.1M480.8 1123.6h1.1M481.6 1120.9h1.1M475.2 1111.4h1.1M479.5 1146.8h1.1M485 1102.2h1.1M482.1 1056h1.1M483.2 1094.6h1.1M483.5 1093.2h1.1M478.6 1136h1.1M478.2 1108h1.1M483.3 1101.7h1.1M487.8 1142.1h1.1M477 1115.6h1.1M470.1 1110.3h1.1M477.6 1121.4h1.1M488.7 1138.4h1.1M474.2 1135.3h1.1M490.5 1128.2h1.1M478.3 1149.8h1.1M485 1130.4h1.1M478.8 1080.9h1.1M488.1 1120.6h1.1M484.4 1099h1.1M486.6 1114.6h1.1M470.7 1130.9h1.1M489 1121h1.1M473.5 1140.4h1.1M481.8 1133.9h1.1M487.6 1132.7h1.1M482.8 1101.9h1.1M487.5 1104.6h1.1M485.2 1110.2h1.1M484.7 1133.4h1.1M477.2 1149.4h1.1M491 1129.8h1.1M491.8 1109.1h1.1M480.4 1115.2h1.1M477.9 1109.7h1.1M485.5 1127.6h1.1M478.9 1099.2h1.1M485 1121.2h1.1M490.2 1139.8h1.1M488.6 1095h1.1M493.4 1139.9h1.1M487.2 1133.4h1.1M476.2 1146.7h1.1M478.2 1088.9h1.1M487.7 1124.3h1.1M497.1 1097.9h1.1M481.6 1105.6h1.1M477 1144.8h1.1M493.6 1117.6h1.1M481.3 1135.3h1.1M488.8 1123.6h1.1M491.6 1142.8h1.1M477.3 1112.7h1.1M481.6 1106h1.1M480.3 1114.1h1.1M487.6 1107.7h1.1M488.5 1124.1h1.1M480.7 1107.9h1.1M488.9 1137.9h1.1M472.8 1144.4h1.1M486.4 1101.3h1.1M486.4 1129.3h1.1M484.1 1108.2h1.1M475 1135.6h1.1M483.4 1118.1h1.1M476.7 1089.8h1.1M493.9 1130.7h1.1M483.3 1054.5h1.1M482.6 1127.2h1.1M483.3 1113.4h1.1M487.7 1110.9h1.1M486.4 1135.6h1.1M489.1 1143.4h1.1M477.2 1139.9h1.1M491.5 1130.1h1.1M480.7 1099.4h1.1M489.2 1116h1.1M485.6 1132h1.1M491.3 1079.1h1.1M483.5 1127.7h1.1M474 1129h1.1M479.1 1062.6h1.1M480.5 1140.5h1.1M493.4 1129.1h1.1M481.2 1101.6h1.1M484.4 1125.8h1.1M492.5 1115h1.1M480.2 1096.7h1.1M486.1 1107.2h1.1M488 1146.5h1.1M480.4 1074.1h1.1M485.6 1092.3h1.1M491.1 1131.3h1.1M491.1 1091.9h1.1M481.8 1076.7h1.1M503.7 1099.5h1.1M486.4 1124.5h1.1M482.2 1105.7h1.1M479.1 1084.7h1.1M477.4 1099h1.1M489.6 1121.7h1.1M464.5 1107.4h1.1M483 1100.8h1.1M474.7 1127h1.1M482.9 1110.4h1.1M484 1056.8h1.1M475.2 1095.1h1.1M481.6 1051.3h1.1M492.6 1091.6h1.1M479 1140h1.1M484 1098.2h1.1M488.9 1071.9h1.1M492 1138h1.1M490.6 1138.6h1.1M489.4 1147.5h1.1M487.8 1132.3h1.1M476 1116.9h1.1M492.9 1130.5h1.1M480.2 1114.8h1.1M478 1081.6h1.1M481.5 1099.2h1.1M478.7 1106.3h1.1M486.8 1132.1h1.1M489.8 1141.5h1.1M492.7 1107.8h1.1M483.4 1127.7h1.1M480 1102.6h1.1M482.1 1132.8h1.1M476.1 1103.3h1.1M479 1118.9h1.1M497.5 1126.4h1.1M477.7 1145h1.1M479.7 1135.9h1.1M489 1134.9h1.1M487.3 1136.6h1.1M489.2 1106.4h1.1M478.2 1118.3h1.1M476.8 1093.7h1.1M492.9 1129.1h1.1M478.5 1138.9h1.1M481.3 1137.1h1.1M485.5 1115.5h1.1M472.8 1141h1.1M480.5 1142.9h1.1M480.6 1069.3h1.1M487.6 1127h1.1M481.9 1115.1h1.1M470.9 1140.5h1.1M486.3 1051.4h1.1M466.7 1086.8h1.1M481.2 1082.8h1.1M479.3 1126.1h1.1M478.8 1137.6h1.1M486 1136.6h1.1M490.5 1128.9h1.1M478.1 1128.2h1.1M478.4 1145.2h1.1M489.7 1137.8h1.1M487.4 1093.5h1.1M488.9 1109.9h1.1M480.4 1140.1h1.1M480.7 1117h1.1M479.6 1136.4h1.1M490.1 1127.3h1.1M494.1 1130.9h1.1M497.4 1081.3h1.1M480.2 1059.1h1.1M482.4 1120.4h1.1M484.1 1121.2h1.1M482.9 1125.1h1.1M476.4 1127.2h1.1M497 1146.5h1.1M494.2 1121.8h1.1M482.9 1084.2h1.1M481 1110.5h1.1M484 1083h1.1M475.8 1132.9h1.1M481.7 1116.6h1.1M489.3 1126.4h1.1M495.3 1125.8h1.1M490.1 1126.5h1.1M490.1 1064.5h1.1M477.5 1074.2h1.1M462.1 1118.9h1.1M493.4 1099.8h1.1M485.3 1113.3h1.1M483.5 1123.2h1.1M492.3 1066h1.1M477.5 1122.3h1.1M477.5 1123.2h1.1M479 1125.5h1.1M495 1120.6h1.1M490.5 1124.2h1.1M471.9 1093.4h1.1M495.3 1095.6h1.1M486.5 1141.6h1.1M488.6 1144.6h1.1M478.8 1111.7h1.1M495.2 1138.2h1.1M487 1124.5h1.1M492.4 1136.4h1.1M478.2 1071.9h1.1M488.8 1122.2h1.1M484.7 1120.1h1.1M482.5 1115.4h1.1M477.3 1147.7h1.1M479.3 1127.5h1.1M476.1 1090.1h1.1M479.5 1110.6h1.1M483.9 1071.7h1.1M488 1084.4h1.1M473.4 1129.9h1.1M477 1112h1.1M482.3 1054.8h1.1M472.8 1120.2h1.1M482.1 1113.9h1.1M482.2 1109.5h1.1M480.7 1139.3h1.1M486.8 1127.8h1.1M490.5 1118.9h1.1M489.5 1132.6h1.1M485.9 1125.1h1.1M488.1 1097.6h1.1M478.6 1122.1h1.1M477.6 1133.9h1.1M488.5 1108.8h1.1M487.9 1120.4h1.1M495.2 1066.9h1.1M482.5 1111.4h1.1M477.3 1131.9h1.1M487.6 1137.5h1.1M481 1108.8h1.1M492.9 1140.9h1.1M497.2 1122.8h1.1M487.9 1137h1.1M479.6 1094.6h1.1M485.8 1119.6h1.1M483.7 1119.4h1.1M474.5 1129.2h1.1M489.8 1111.7h1.1M486.4 1118.1h1.1M492.6 1107.7h1.1M480.2 1130h1.1M486.2 1138.8h1.1M481.4 1134.2h1.1M472.2 1105.2h1.1M501.3 1131.8h1.1M469.7 1132.6h1.1M476.2 1104.6h1.1M479.4 1148.3h1.1M474.2 1138.6h1.1M487 1130.7h1.1M479 1145.9h1.1M484.6 1095.7h1.1M487.2 1136h1.1M484.6 1114.9h1.1M484.8 1103.7h1.1M483.1 1124.3h1.1M488.4 1140.2h1.1M489.7 1125.5h1.1M482.3 1132.6h1.1M481 1132h1.1M481.4 1133.5h1.1M486.2 1095.1h1.1M481.6 1081.4h1.1M481.5 1101.7h1.1M473.8 1131h1.1M497.2 1077.3h1.1M476.1 1134.4h1.1M495.7 1117.2h1.1M489.6 1121.1h1.1M491.2 1081.4h1.1M486 1114.6h1.1M487.6 1129.9h1.1M486.2 1105.6h1.1M488.3 1109.4h1.1M490 1089.8h1.1M494.7 1109.5h1.1M477.4 1121.3h1.1M487.6 1133h1.1M495.4 1094.4h1.1M493.9 1129.1h1.1M477.1 1134.9h1.1M486.4 1103.2h1.1M486.2 1133.5h1.1M486 1099.4h1.1M470.8 1140.4h1.1M490.3 1123.2h1.1M473.1 1102.8h1.1M499.4 1106.6h1.1M488.8 1095.8h1.1M483.6 1129.9h1.1M488.7 1099.6h1.1M485.3 1093.1h1.1M480.6 1129.1h1.1M483.7 1084.6h1.1M486.7 1116.2h1.1M478.8 1110.6h1.1M489.9 1137.5h1.1M491.8 1137.1h1.1M491.8 1125.6h1.1M492 1135.3h1.1M493.4 1103.2h1.1M489.3 1128.2h1.1M493.5 1102.9h1.1M484.8 1116h1.1M487.2 1124.9h1.1M494.3 1111h1.1M496.4 1146.2h1.1M482 1098h1.1M474.3 1131.5h1.1M499.3 1099.8h1.1M492.5 1144h1.1M497.1 1115.8h1.1M490.7 1092.2h1.1M486.1 1107.3h1.1M478.4 1147.1h1.1M477.7 1124.5h1.1M494.6 1083.6h1.1M491.3 1080h1.1M486.7 1122.3h1.1M476.7 1127.6h1.1M480.8 1091.6h1.1M480.1 1100.2h1.1M480.3 1141.8h1.1M464.3 1120.9h1.1M485 1052.7h1.1M495.4 1122.2h1.1M480.6 1122.6h1.1M484.6 1115.7h1.1M486.2 1073.7h1.1M477.5 1103.9h1.1M488.7 1139.2h1.1M478.8 1121h1.1M481.4 1100h1.1M486.2 1137.1h1.1M485.1 1084.5h1.1M478 1119.6h1.1M490.3 1142.7h1.1M490.4 1131.9h1.1M479.2 1145.8h1.1M476.1 1103.2h1.1M483.8 1130.3h1.1M477 1120.6h1.1M480.7 1093.9h1.1M483.4 1089.6h1.1M486.5 1050.8h1.1M490.6 1141.7h1.1M487.8 1133.5h1.1M482.5 1114.2h1.1M473.8 1084.2h1.1M480.9 1138.7h1.1M482.2 1084.3h1.1M483.5 1102.6h1.1M479.3 1140.8h1.1M490.1 1105.7h1.1M475.1 1118.5h1.1M484.4 1064.6h1.1M493.3 1132.2h1.1M479 1123.2h1.1M477 1141.5h1.1M480.7 1141.3h1.1M482 1126.7h1.1M486.2 1075.2h1.1M494 1090.8h1.1M483.6 1127.4h1.1M488.4 1122.8h1.1M480.4 1115.2h1.1M481 1133h1.1M486.5 1131.8h1.1M479.7 1124.3h1.1M492.5 1140.2h1.1M479.9 1140.5h1.1M483.3 1123.8h1.1M477 1136.2h1.1M481.4 1114.9h1.1M477.4 1129.7h1.1M479.5 1139.5h1.1M471.9 1132.7h1.1M484.4 1125.6h1.1M496.7 1119.2h1.1M471.2 1126.5h1.1M496.7 1109.4h1.1M483.6 1112h1.1M491.2 1144.6h1.1M477.3 1129.7h1.1M498.7 1119.9h1.1M476.8 1119.4h1.1M483.9 1117h1.1M495.4 1107h1.1M475.4 1129.2h1.1M470.3 1141.1h1.1M483.9 1114.8h1.1M479 1121.6h1.1M481.7 1051.6h1.1M477.4 1138.7h1.1M474.1 1107.8h1.1M493.4 1137.2h1.1M475.2 1138.8h1.1M483.7 1133.3h1.1M481.2 1114.7h1.1M492.2 1118h1.1M478.5 1111.6h1.1M494.6 1138.7h1.1M484.4 1112.2h1.1M481.7 1135.3h1.1M480.3 1131.8h1.1M500.4 1123.7h1.1M485.4 1079h1.1M481 1090.4h1.1M487.2 1142.9h1.1M494.9 1131.6h1.1M477.5 1120.4h1.1M473.4 1141.1h1.1M493.2 1140.9h1.1M481.2 1128.9h1.1M483.8 1077.7h1.1M491.9 1075.7h1.1M465 1124.3h1.1M493.4 1106.8h1.1M483.1 1131.3h1.1M489.2 1131.4h1.1M484.1 1059.8h1.1M506.4 1078.3h1.1M478.9 1137.6h1.1M492.2 1092.6h1.1M469.1 1134.8h1.1M486.4 1134.7h1.1M490.2 1134.6h1.1M473.3 1113.2h1.1M469.8 1088h1.1M486.8 1135.5h1.1M490.9 1074.1h1.1M492.8 1099.3h1.1M479.4 1131.5h1.1M486.8 1114.4h1.1M474.4 1145.9h1.1M496.9 1117.8h1.1M502.2 1145.1h1.1M512.9 1119.2h1.1M505.6 1162h1.1M536.9 1177.3h1.1M502 1074.2h1.1M520.6 1149.4h1.1M507.9 1161.5h1.1M520.9 1077.7h1.1M513.8 1170.2h1.1M517.6 1151.2h1.1M503.9 1167.3h1.1M517.3 1115.5h1.1M507.8 1098.5h1.1M500.7 1128.7h1.1M539.6 1168h1.1M511 1143.9h1.1M513.4 1151.7h1.1M521.7 1139.7h1.1M519 1161.3h1.1M521.1 1139.9h1.1M521.7 1131.8h1.1M504.3 1152.8h1.1M504.3 1131.7h1.1M509.8 1149.8h1.1M522.2 1159.3h1.1M519.5 1163.2h1.1M519.6 1167.4h1.1M512.7 1167.3h1.1M512.2 1135.9h1.1M570.1 1168.3h1.1M574.4 1163.8h1.1M507.5 1143.6h1.1M512.2 1099.3h1.1M501.1 1157.2h1.1M554.3 1174.6h1.1M500.3 1155.5h1.1M526.4 1174.9h1.1M548.3 1156.8h1.1M505.8 1177.2h1.1M508.5 1158.9h1.1M504 1169.7h1.1M535.4 1147.8h1.1M502.6 1175.6h1.1M502.1 1154.1h1.1M557.5 1157.5h1.1M514.3 1122.8h1.1M509.3 1096.4h1.1M517.8 1076.4h1.1M501.2 1164.8h1.1M516.6 1108.7h1.1M508.3 1138.8h1.1M555.3 1176.4h1.1M509.7 1101.1h1.1M508.1 1132.2h1.1M504.5 1153.9h1.1M507.3 1166.2h1.1M507.1 1112.1h1.1M503.9 1153.8h1.1M508.3 1169.8h1.1M511.9 1103.9h1.1M547.7 1166.5h1.1M516.1 1122.5h1.1M503.1 1134.9h1.1M512 1110.7h1.1M504.5 1167h1.1M511.2 1086.5h1.1M517.1 1177.6h1.1M512.6 1141.4h1.1M557 1170.2h1.1M522.5 1145h1.1M510.1 1166.7h1.1M544.9 1165.6h1.1M506.1 1139.4h1.1M500.8 1165.5h1.1M506.7 1168.7h1.1M521.7 1120.4h1.1M517.6 1123.8h1.1M513.9 1125.1h1.1M543.4 1152.3h1.1M506.3 1086.4h1.1M510.9 1142.7h1.1M500.4 1174.9h1.1M515.4 1173.8h1.1M503.1 1146.4h1.1M516.4 1173.7h1.1M513.2 1165.9h1.1M508.3 1079.2h1.1M500.6 1177.2h1.1M502.1 1131.4h1.1M524.7 1101.8h1.1M506.5 1153.1h1.1M553.8 1165.2h1.1M517.5 1177.6h1.1M517.2 1149.6h1.1M517.2 1100.6h1.1M500.2 1156.4h1.1M503.2 1136h1.1M500.3 1156h1.1M521.2 1128.5h1.1M530.3 1159.1h1.1M524.5 1085.7h1.1M540.3 1124.1h1.1M529.4 1101h1.1M502.3 1083.9h1.1M500.8 1126.2h1.1M508.6 1160.6h1.1M512.1 1085.5h1.1M506.6 1170.6h1.1M544.8 1147.6h1.1M551.5 1145.3h1.1M501.4 1152.4h1.1M528.6 1120.1h1.1M546.6 1134.5h1.1M565 1167.2h1.1M524.1 1143.9h1.1M523.3 1174.7h1.1M504.9 1101.9h1.1M504.5 1138.8h1.1M507.8 1162.8h1.1M503.1 1102.7h1.1M507 1171.1h1.1M510.3 1163h1.1M548.8 1111.5h1.1M507.6 1174h1.1M520.9 1140.6h1.1M503 1124h1.1M512.9 1081.3h1.1M500.8 1112.1h1.1M534.2 1162.7h1.1M513.1 1076h1.1M500.9 1150.6h1.1M524.6 1151.6h1.1M503.3 1122.3h1.1M508.4 1151.1h1.1M500.3 1137h1.1M564.2 1151.5h1.1M517.9 1161.5h1.1M511.3 1176.5h1.1M504 1065.3h1.1M555.9 1149.9h1.1M530.3 1176.7h1.1M502.2 1122h1.1M501.2 1164.8h1.1M537.1 1129.5h1.1M504.5 1124.5h1.1M536.8 1169.1h1.1M518.7 1164.2h1.1M578.7 1169h1.1M566.5 1160.1h1.1M510.9 1098.3h1.1M566 1163.3h1.1M500.3 1162.9h1.1M520.1 1139.8h1.1M514 1174.6h1.1M503.2 1173.5h1.1M515.9 1157.6h1.1M531.4 1153.8h1.1M501.9 1117.6h1.1M518 1177.8h1.1M510.2 1151.9h1.1M508.3 1174.9h1.1M547.6 1109.7h1.1M503 1121.5h1.1M504.8 1131.9h1.1M513.1 1164.2h1.1M575.5 1145.2h1.1M502.3 1112.5h1.1M500.8 1159.6h1.1M503.2 1147.1h1.1M516.5 1173.4h1.1M509.7 1150.1h1.1M523 1168.5h1.1M501.1 1098.1h1.1M548.3 1175h1.1M521 1104.6h1.1M527.2 1126.1h1.1M508.3 1132.4h1.1M502.5 1169.8h1.1M533.8 1125.5h1.1M528.3 1156.5h1.1M515.2 1169.3h1.1M510.6 1165.1h1.1M501.2 1147h1.1M542.5 1160.4h1.1M521.5 1099.2h1.1M528.4 1174.9h1.1M504.2 1144.9h1.1M531.3 1168.7h1.1M501.6 1155.2h1.1M523.8 1144.6h1.1M507.8 1162.7h1.1M514.5 1104.7h1.1M515.8 1168.1h1.1M511.2 1159.1h1.1M506.1 1155.5h1.1M519.1 1161.8h1.1M515.9 1165.3h1.1M508.2 1157.5h1.1M528.4 1163.1h1.1M500.4 1159.6h1.1M532.2 1157.6h1.1M509.1 1154.9h1.1M516.9 1172.1h1.1M500.4 1176.3h1.1M514.9 1094.3h1.1M503.3 1135.7h1.1M546.4 1158.9h1.1M514.6 1173.7h1.1M506.5 1094.9h1.1M502.9 1068.8h1.1M500.5 1172.8h1.1M503.6 1150h1.1M510.2 1175.2h1.1M502.8 1169.3h1.1M501.7 1141.1h1.1M510 1155.1h1.1M509.8 1163.6h1.1M527.1 1085.6h1.1M504.6 1115.6h1.1M537.8 1156.3h1.1M522.9 1158h1.1M500.1 1172h1.1M514 1169.6h1.1M506.5 1168h1.1M500.6 1164.6h1.1M510.4 1129.4h1.1M503.5 1156.2h1.1M516.4 1158.2h1.1M502.7 1082h1.1M540.9 1160.7h1.1M521.8 1164.7h1.1M547.9 1143.1h1.1M528.7 1142.6h1.1M505.6 1177.9h1.1M527.7 1168.8h1.1M505.7 1087.6h1.1M504.6 1140.3h1.1M504.8 1156.8h1.1M502.2 1175.8h1.1M524 1121.7h1.1M534 1155.8h1.1M526.7 1158h1.1M500.3 1096.8h1.1M528.9 1140.3h1.1M510.7 1109.8h1.1M502.3 1153.1h1.1M516.9 1144.7h1.1M500.5 1165.1h1.1M510.8 1142.1h1.1M502.1 1134.7h1.1M506.2 1166.1h1.1M500.9 1177.2h1.1M523.7 1120.8h1.1M542.7 1124.1h1.1M509.2 1169.3h1.1M504.4 1150.4h1.1M500 1169.8h1.1M517.4 1169.6h1.1M529 1113.7h1.1M519.4 1131h1.1M529 1121.7h1.1M525.4 1159.6h1.1M511.4 1084.6h1.1M503.3 1153.4h1.1M502.9 1160.6h1.1M568.5 1157h1.1M501.1 1128.9h1.1M506.2 1173.1h1.1M511.5 1145.6h1.1M510.2 1162.5h1.1M502.2 1177.9h1.1M580.4 1162.5h1.1M517.5 1164.7h1.1M519 1138.3h1.1M537.7 1130.3h1.1M540.1 1169.8h1.1M501.9 1124h1.1M517.2 1167.1h1.1M501.5 1130.6h1.1M505.4 1075.3h1.1M514 1153.4h1.1M502.9 1157.4h1.1M519.2 1157.2h1.1M520 1166.9h1.1M512.7 1115.7h1.1M533.6 1176.6h1.1M519 1163.6h1.1M500 1173.7h1.1M518.7 1132.5h1.1M520.1 1176.5h1.1M536.8 1146.7h1.1M508.2 1173.9h1.1M521.7 1125.6h1.1M519.6 1134.1h1.1M508.4 1113.1h1.1M506.4 1175.9h1.1M502.6 1177.6h1.1M522.6 1142.1h1.1M513.1 1154.6h1.1M501.6 1158.5h1.1M517.9 1155.9h1.1M509.8 1144.9h1.1M514.5 1160.4h1.1M515.5 1157.2h1.1M517.3 1116.3h1.1M517.9 1129.5h1.1M505.2 1169.6h1.1M514.9 1068.1h1.1M506.2 1162.5h1.1M500.7 1158.5h1.1M502.9 1174.6h1.1M503.9 1096.2h1.1M504.5 1141.5h1.1M507.4 1152.1h1.1M510.3 1161.8h1.1M506.4 1098.3h1.1M509.1 1146.5h1.1M514.9 1124.2h1.1M512.6 1137.2h1.1M500.7 1156.3h1.1M524 1175.9h1.1M522.2 1085.3h1.1M530.2 1116.9h1.1M534.2 1140.2h1.1M507.1 1159.8h1.1M507.3 1088.7h1.1M504.7 1073.7h1.1M501.8 1107.8h1.1M511.2 1132.6h1.1M504.7 1107.4h1.1M510 1175.4h1.1M532.8 1161.3h1.1M504.4 1173.4h1.1M518.3 1156.4h1.1M539.6 1168h1.1M510 1154.1h1.1M523.9 1175.3h1.1M521.5 1172.9h1.1M505.9 1175.4h1.1M508.4 1157.3h1.1M514.7 1161.4h1.1M519.6 1151.5h1.1M541.1 1155.3h1.1M507.8 1148.1h1.1M529 1165.3h1.1M526.7 1165.9h1.1M533.1 1088.6h1.1M524.1 1135.5h1.1M501.5 1066.9h1.1M512.4 1162.3h1.1M504.1 1177.4h1.1M500.6 1174.8h1.1M500.9 1168.2h1.1M507.8 1153.2h1.1M533.1 1151.2h1.1M512.9 1148.6h1.1M502.1 1156.2h1.1M500.2 1174.3h1.1M580.7 1156.1h1.1M509.9 1160.5h1.1M525.5 1177.1h1.1M502.7 1172.6h1.1M517.4 1134.6h1.1M504.9 1175.2h1.1M522.1 1152.9h1.1M501.1 1164.4h1.1M505.6 1139.1h1.1M524 1169.9h1.1M507 1155.2h1.1M516.2 1151.8h1.1M501.8 1128.2h1.1M521.3 1159.8h1.1M559.6 1152.3h1.1M500.4 1171.9h1.1M586.2 1175.6h1.1M501.7 1139.2h1.1M502.6 1121.8h1.1M524.3 1122h1.1M506.2 1161h1.1M503.3 1177.9h1.1M501.2 1063.8h1.1M546.9 1159.5h1.1M500.4 1164.8h1.1M521.3 1164.5h1.1M523.6 1153.9h1.1M501.8 1141.2h1.1M518.5 1107.8h1.1M549.8 1139.2h1.1M508.7 1166.9h1.1M501.8 1159.7h1.1M539.7 1158.5h1.1M508.8 1159.3h1.1M504.1 1143.7h1.1M507.8 1151.3h1.1M510.5 1176.7h1.1M505.4 1100h1.1M515.4 1110.8h1.1M506.7 1114.6h1.1M503.4 1156.5h1.1M565.6 1149.8h1.1M506.6 1168.8h1.1M531.4 1153.3h1.1M500 1075.7h1.1M521.8 1158.3h1.1M562.3 1153.6h1.1M505 1174.6h1.1M510.5 1146.9h1.1M525.5 1153.7h1.1M576.8 1152.3h1.1M529.5 1150.7h1.1M502.9 1111.5h1.1M511.8 1168.9h1.1M514.4 1127.2h1.1M510.4 1164.8h1.1M513.7 1098.7h1.1M505.7 1095.8h1.1M501.1 1111.4h1.1M546.3 1129.3h1.1M535.5 1115.2h1.1M509.6 1175.9h1.1M510.8 1136.3h1.1M501.3 1088.6h1.1M522.5 1135.1h1.1M524.2 1123.2h1.1M504.5 1112.5h1.1M525.7 1135.8h1.1M531.2 1155h1.1M501.7 1164.1h1.1M557.4 1144.2h1.1M505.8 1163.2h1.1M534.1 1134.8h1.1M512.1 1171.4h1.1M523.5 1167.4h1.1M510.7 1158h1.1M531.4 1130.3h1.1M539.5 1139.6h1.1M552.7 1142.8h1.1M522.6 1146.2h1.1M500.8 1157h1.1M512.6 1166.8h1.1M509 1177.1h1.1M516.5 1114.2h1.1M511.5 1147.4h1.1M506 1162.9h1.1M524 1124.3h1.1M528.9 1107.5h1.1M502.9 1134.1h1.1M521.1 1172.2h1.1M506.3 1140.1h1.1M561.6 1163.6h1.1M516.5 1146.5h1.1M520 1159.1h1.1M513.7 1170.8h1.1M502.1 1054.2h1.1M523.7 1154.6h1.1M510.4 1139.2h1.1M543.5 1153.9h1.1M507.2 1149h1.1M524.4 1151.8h1.1M505 1160.4h1.1M511 1074.6h1.1M521.6 1094h1.1M512.9 1175.6h1.1M501.9 1099.7h1.1M519.8 1113.5h1.1M516.3 1173.2h1.1M505.1 1148.5h1.1M513.9 1151h1.1M533 1115.5h1.1M505 1148.7h1.1M509.1 1155.4h1.1M579.3 1166.4h1.1M539.9 1172.8h1.1M561.5 1154.7h1.1M528.7 1166.8h1.1M533.6 1158.6h1.1M500.4 1176.6h1.1M511.3 1115.7h1.1M506.9 1143.3h1.1M563.6 1173.5h1.1M513.2 1145.5h1.1M538.8 1150.6h1.1M512.9 1115.6h1.1M517 1173h1.1M519.2 1174.9h1.1M516.1 1142.9h1.1M505.5 1171.8h1.1M514.2 1156.3h1.1M500 1163.6h1.1M508.8 1128.4h1.1M508 1176.8h1.1M502 1162.4h1.1M560.6 1168.6h1.1M501.4 1165.8h1.1M505.2 1152.7h1.1M531.8 1156.5h1.1M570.7 1146.2h1.1M543.2 1177h1.1M505.7 1123.3h1.1M505.6 1173.4h1.1M529 1177.1h1.1M527.5 1151.6h1.1M500.5 1134h1.1M507.3 1177h1.1M506.2 1170.9h1.1M514.9 1113.7h1.1M509.8 1169.6h1.1M510.9 1062.5h1.1M518 1140h1.1M512.2 1173.6h1.1M519.8 1161.5h1.1M511.3 1137h1.1M519.3 1146h1.1M542.5 1163.2h1.1M515.4 1145.9h1.1M502.2 1148.4h1.1M506.3 1159.4h1.1M523.4 1172h1.1M519.8 1099.8h1.1M531.5 1171.1h1.1M507.3 1128h1.1M526.2 1114.4h1.1M504.4 1148.8h1.1M538.8 1169.3h1.1M524.7 1120.7h1.1M517.4 1077.5h1.1M506.7 1166.8h1.1M515.9 1165.6h1.1M519.9 1175.1h1.1M508.9 1130h1.1M510.7 1174.6h1.1M522.4 1076h1.1M509.7 1152.5h1.1M504.9 1152h1.1M507 1172.7h1.1M517.3 1146.6h1.1M528.2 1120.4h1.1M522.9 1107.2h1.1M510.2 1169.3h1.1M544.7 1134.2h1.1M530.8 1145.1h1.1M501.1 1168.4h1.1M515 1168.3h1.1M567.3 1163.8h1.1M501.3 1171.5h1.1M529.9 1169.5h1.1M522.2 1160.2h1.1M542.7 1114.8h1.1M501.3 1156h1.1M507.6 1133.5h1.1M511.5 1071.1h1.1M501.6 1176.4h1.1M522.9 1115.4h1.1M530 1167.6h1.1M522.3 1148.6h1.1M556.6 1175.8h1.1M513 1143.5h1.1M500.3 1170.6h1.1M503.8 1096.9h1.1M501.6 1155.1h1.1M522.3 1159.9h1.1M515.8 1152.1h1.1M548.3 1186.7h1.1M515.9 1180.7h1.1M502.2 1177.1h1.1M525.3 1185.1h1.1M536.6 1188.3h1.1M521.2 1184.4h1.1M538.9 1189.4h1.1M538.7 1186.3h1.1M511.7 1184h1.1M521 1184.2h1.1M551.4 1192.3h1.1M526.9 1187.4h1.1M545.6 1189h1.1M520.7 1187.6h1.1M511.6 1184.5h1.1M545.8 1188.9h1.1M523.6 1189.6h1.1M500.7 1184.3h1.1M536.5 1184h1.1M527.9 1180.3h1.1M542.9 1187.8h1.1M550 1192.1h1.1M535.9 1190.2h1.1M506.8 1183.1h1.1M505 1181h1.1M544.5 1192.1h1.1M538.4 1190.2h1.1M542.5 1188.1h1.1M528.4 1186.6h1.1M530.7 1189.4h1.1M503.8 1179.1h1.1M522.1 1183.2h1.1M529.3 1184.2h1.1M514.8 1186.9h1.1M504.1 1182.5h1.1M545.9 1192.2h1.1M507.9 1180.7h1.1M526.7 1185.7h1.1M534.9 1190.7h1.1M525.6 1184.8h1.1M546.3 1193.1h1.1M512.2 1182.6h1.1M546.6 1190.1h1.1M544.9 1191.2h1.1M528.3 1188.3h1.1M521.7 1189.2h1.1M544.7 1188.9h1.1M525.4 1189.8h1.1M550 1189h1.1M507.7 1179.5h1.1M505.1 1175.4h1.1M508.9 1184h1.1M543.7 1193.3h1.1M522.6 1181.9h1.1M524.4 1184.5h1.1M534.8 1186.9h1.1M510.6 1178.3h1.1M522.9 1185.2h1.1M531.5 1187.6h1.1M501.4 1179h1.1M522.7 1182.3h1.1M530.5 1187h1.1M521.8 1186.2h1.1M510.3 1178.6h1.1M503.3 1180.4h1.1M549.3 1192.2h1.1M541.4 1182h1.1M528.8 1187.1h1.1M537.8 1192.6h1.1M501.2 1177h1.1M552 1194.7h1.1M517.6 1183.1h1.1M523.1 1186.6h1.1M503.4 1180.3h1.1M516.7 1180.7h1.1M506.1 1176.9h1.1M517.6 1189.9h1.1M521.7 1181.3h1.1M531.4 1186.2h1.1M506.8 1185.1h1.1M545.2 1190.7h1.1M549.1 1191.2h1.1M506.9 1176.4h1.1M507.8 1180.1h1.1M540.9 1185.6h1.1M517.4 1179.2h1.1M514.1 1184h1.1M513.8 1185.1h1.1M509.7 1180.1h1.1M547.1 1188.7h1.1M534.7 1188.7h1.1M511.2 1184.7h1.1M551.9 1188.7h1.1M517.2 1186.7h1.1M539.6 1191.1h1.1M538.1 1188.4h1.1M522.7 1182.1h1.1M535 1189.1h1.1M514.7 1184.9h1.1M537.9 1192.8h1.1M510.6 1180.8h1.1M506.7 1185.5h1.1M519.7 1183.4h1.1M536.7 1189.4h1.1M537.1 1187.8h1.1M514.5 1183.4h1.1M501.7 1184.1h1.1M528.7 1184.5h1.1M539 1190.7h1.1M502 1179.7h1.1M507.3 1181.5h1.1M523.8 1183.4h1.1M510.1 1182.7h1.1M520 1179.3h1.1M509.3 1181.4h1.1M536.6 1190.6h1.1M540.5 1191h1.1M549.6 1186.8h1.1M501.6 1177.5h1.1M507.1 1180.5h1.1M545.6 1194.8h1.1M536 1186.8h1.1M535.8 1187.8h1.1M500.9 1179.5h1.1M551.8 1192.1h1.1M516.5 1181.3h1.1M502.8 1181.3h1.1M505.7 1182.4h1.1M507.5 1184.3h1.1M533.7 1185.1h1.1M521.5 1187h1.1M515.8 1188.4h1.1M508.7 1183.9h1.1M514.4 1184.9h1.1M542.1 1183h1.1M519.1 1187.6h1.1M500.4 1185h1.1M551.9 1194.5h1.1M549.8 1192.2h1.1M519.4 1186.4h1.1M533.7 1195.1h1.1M504.8 1179.2h1.1M529.7 1185.5h1.1M502.7 1183.4h1.1M512.2 1183.3h1.1M548.9 1185.2h1.1M506.9 1182.1h1.1M527.4 1186.9h1.1M531 1184.4h1.1M511.6 1183.5h1.1M550 1191.6h1.1M526.3 1181.1h1.1M504.1 1182.2h1.1M539.9 1194.3h1.1M524.7 1189.9h1.1M509.1 1179.1h1.1M518.5 1180.7h1.1M529 1186.5h1.1M525.8 1186.4h1.1M522.9 1181.6h1.1M500.2 1178.1h1.1M505.2 1184.6h1.1M521.6 1185.4h1.1M550.8 1193.8h1.1M509 1181.9h1.1M512.4 1185.4h1.1M523.7 1183.8h1.1M516.1 1182.2h1.1M545.8 1187.6h1.1M539.3 1183.7h1.1M536 1186.9h1.1M507.3 1178.1h1.1M519.2 1183h1.1M541.2 1189.4h1.1M529.2 1186.8h1.1M507.5 1182.6h1.1M544.2 1188.7h1.1M547.8 1190.3h1.1M539.7 1191.7h1.1M530.9 1186.4h1.1M508.6 1181.9h1.1M518.3 1177.7h1.1M523.1 1182.2h1.1M529.7 1189.3h1.1M528 1183.9h1.1M507.5 1178.8h1.1M531.1 1189.3h1.1M542.1 1186.1h1.1M511 1185h1.1M503.8 1180.5h1.1M520.4 1182.8h1.1M520.3 1179.1h1.1M548.2 1194h1.1M513.9 1178.3h1.1M540.3 1185.6h1.1M542.8 1191.4h1.1M506.9 1178.3h1.1M547.3 1191.7h1.1M529.9 1186.4h1.1M544.9 1189.1h1.1M541.1 1186.2h1.1M525.3 1183.8h1.1M544 1190.3h1.1M517 1181.2h1.1M516.7 1185.3h1.1M531.1 1187.4h1.1M519.5 1185.6h1.1M510.9 1183h1.1M542 1190.6h1.1M542.2 1190.2h1.1M504.3 1183h1.1M536.8 1189h1.1M547.8 1191.3h1.1M542.2 1186.9h1.1M507.6 1177.2h1.1M504.5 1181.1h1.1M523.1 1187.5h1.1M546.5 1187.8h1.1M547.4 1186.3h1.1M501.3 1178.8h1.1M546.8 1191.2h1.1M533.5 1189.5h1.1M534.2 1186.6h1.1M512.3 1179.6h1.1M532.6 1187h1.1M548.9 1192.5h1.1M530.3 1186.5h1.1M547.5 1193h1.1M535.8 1186.5h1.1M512.4 1184.9h1.1M518.3 1188.2h1.1M513.5 1180.3h1.1M515.5 1181.1h1.1M534.8 1189.3h1.1M525.5 1193.6h1.1M546.9 1191.6h1.1M510.3 1182.1h1.1M506.8 1184.8h1.1M504.6 1180.7h1.1M512.9 1178.6h1.1M537.2 1185.7h1.1M508.6 1185.3h1.1M533.2 1182.9h1.1M547.4 1186.7h1.1M532.6 1189.2h1.1M510.7 1182.7h1.1M539.7 1191.8h1.1M543.6 1186.8h1.1M527.4 1184.1h1.1M519.9 1183.4h1.1M531.5 1183.7h1.1M505.1 1180.5h1.1M534.3 1187h1.1M511.8 1184.8h1.1M533.1 1187h1.1M516.2 1182.5h1.1M519.3 1185.5h1.1M548.3 1193.4h1.1M517.7 1186.5h1.1M541 1189.7h1.1M547.5 1194h1.1M547 1196.1h1.1M542.9 1201h1.1M549.7 1199.2h1.1M549.3 1197.9h1.1M557.6 1200.3h1.1M550.5 1193.6h1.1M553.1 1195.7h1.1M555.9 1205.9h1.1M540.1 1196.5h1.1M546.2 1200.8h1.1M548.2 1198.9h1.1M550 1202.5h1.1M543.7 1200.4h1.1M553.7 1200.7h1.1M553.9 1203.7h1.1M551.9 1200.4h1.1M552.8 1192.3h1.1M543.9 1196.5h1.1M555.1 1204.7h1.1M546.3 1203.3h1.1M540 1198.2h1.1M550 1192.8h1.1M551.5 1196.2h1.1M546 1207.3h1.1M541.1 1203.8h1.1M543.7 1203.9h1.1M548.6 1192.7h1.1M536.7 1193.7h1.1M554.5 1196.7h1.1M554.4 1193.7h1.1M548.5 1199.5h1.1M554.7 1194.7h1.1M548.6 1200.9h1.1M543.7 1198.2h1.1M552.5 1196.9h1.1M552.2 1201.6h1.1M544.8 1200.8h1.1M542.4 1199.6h1.1M544.5 1197.6h1.1M555.2 1198.9h1.1M547.9 1191.4h1.1M563.4 1191.3h1.1M546.1 1196.4h1.1M552.4 1199.6h1.1M551 1206h1.1M548.3 1200.6h1.1M553.6 1195.2h1.1M545.1 1197.1h1.1M549.1 1194.1h1.1M543.5 1198.9h1.1M538.5 1198.7h1.1M549.7 1198.9h1.1M543.7 1200.1h1.1M542.9 1203.2h1.1M552.3 1201.8h1.1M548.6 1194.5h1.1M551.3 1202.4h1.1M558 1195.1h1.1M550.3 1200.6h1.1M551.7 1199.4h1.1M543.4 1205.7h1.1M553.6 1198.7h1.1M553.6 1198.7h1.1M544.2 1198h1.1M552.7 1202.5h1.1M551 1200.3h1.1M548.3 1198h1.1M549.8 1202.4h1.1M561.5 1207.4h1.1M546.2 1205.5h1.1M547.7 1205h1.1M549.9 1197h1.1M548.5 1198.7h1.1M540.3 1199.7h1.1M552.6 1192.4h1.1M554 1205.9h1.1M558 1193.4h1.1M546.6 1200.7h1.1M543.1 1194.2h1.1M552.7 1199.6h1.1M544.3 1202.3h1.1M549.4 1201.1h1.1M547.4 1195.7h1.1M550.4 1196.5h1.1M547.2 1202.7h1.1M552.9 1198.8h1.1M544.8 1199.6h1.1M561.3 1202.8h1.1M553.3 1189.2h1.1M546.3 1200.1h1.1M544.6 1204.1h1.1M548.5 1206.1h1.1M547.1 1201.8h1.1M545.3 1196.2h1.1M556.4 1202.9h1.1M554.3 1206.5h1.1M544 1196.6h1.1M552.2 1196.3h1.1M549.5 1198.5h1.1M553.3 1197.5h1.1M546.1 1191.1h1.1M560.1 1189.8h1.1M549.8 1194h1.1M559.4 1196.6h1.1M547.1 1200.8h1.1M556.2 1197h1.1M548.9 1199.8h1.1M557.8 1204.5h1.1M548.5 1210.9h1.1M544.1 1202.5h1.1M544.1 1195.3h1.1M546.3 1203h1.1M552.5 1199.1h1.1M551.3 1200.4h1.1M550 1202.9h1.1M554.8 1202.1h1.1M557.6 1193.9h1.1M544.4 1194.6h1.1M554.5 1200.1h1.1M561 1201.9h1.1M546.4 1207.4h1.1M546.6 1201.5h1.1M551.5 1197.7h1.1M550.6 1197.2h1.1M546.8 1196.3h1.1M549.1 1194h1.1M557.5 1194h1.1M554 1196.9h1.1M545.4 1199.5h1.1M540.9 1196.1h1.1M543.9 1199.1h1.1M550.4 1198h1.1M545.5 1198.2h1.1M545.3 1197.4h1.1M553.1 1200.2h1.1M548 1199.1h1.1M547.6 1188.7h1.1M550.5 1200.1h1.1M556.7 1199.5h1.1M551 1196.7h1.1M552.9 1199.7h1.1M549.9 1196.3h1.1M557.2 1199.5h1.1M543.3 1195.6h1.1M543.9 1201.7h1.1M546.9 1200.4h1.1M559.6 1193.4h1.1M557.2 1196.3h1.1M544 1201.8h1.1M547.2 1200.7h1.1M552.2 1199.6h1.1M549.8 1194.6h1.1M553.9 1196.4h1.1M547 1199.7h1.1M541.2 1200.2h1.1M552.6 1199h1.1M555.7 1195.8h1.1M541.8 1198.2h1.1M540.1 1197.1h1.1M547.2 1194.5h1.1M540.2 1194.7h1.1M551.6 1195.9h1.1M543.7 1193.2h1.1M553.2 1200.9h1.1M547.8 1202.1h1.1M550.2 1202.5h1.1M552.8 1196h1.1M548.5 1196.1h1.1M544.4 1200h1.1M554.1 1197.2h1.1M542.1 1197.8h1.1M556.5 1197.8h1.1M546.5 1192.7h1.1M546.9 1204h1.1M551.5 1193.4h1.1M551.6 1192.9h1.1M552 1202.2h1.1M542.2 1194.7h1.1M545.1 1203.2h1.1M551.2 1200.4h1.1M551.4 1200.4h1.1M549 1197.5h1.1M556 1193.5h1.1M548.6 1194.4h1.1M554.2 1199.4h1.1M554.9 1198.6h1.1M551.2 1194.3h1.1M548.5 1194.6h1.1M553.2 1195.6h1.1M551.7 1198.8h1.1M552.6 1200.7h1.1M545.2 1202.5h1.1M551.8 1197.6h1.1M557.5 1204.6h1.1M548.1 1201.8h1.1M550.2 1204.8h1.1M548.3 1195.6h1.1M553.9 1201.3h1.1M539.2 1203.2h1.1M557.5 1192.1h1.1M552.1 1202.6h1.1M548.4 1200.6h1.1M550.9 1202.6h1.1M555.2 1199.7h1.1M551.4 1203.5h1.1M552.9 1197.4h1.1M555.5 1197h1.1M550.4 1201.8h1.1M553.2 1201.8h1.1M556.9 1193.8h1.1M552.4 1203.7h1.1M546.5 1203.6h1.1M553.4 1203h1.1M559.7 1196.2h1.1M548 1203.9h1.1M551.8 1201h1.1M551.7 1202.6h1.1M554 1198.8h1.1M547.5 1197.3h1.1M549.5 1196.3h1.1M559.3 1196.6h1.1M553 1202.5h1.1M546.5 1196h1.1M553.5 1196.6h1.1M549.9 1200.3h1.1M557.2 1198h1.1M541.6 1191.1h1.1M550.1 1196.5h1.1M554.5 1197.6h1.1M552.6 1185.6h1.1M567.5 1205.7h1.1M563 1201.8h1.1M565.5 1196.3h1.1M552.8 1193h1.1M552.6 1193.5h1.1M552.4 1197.9h1.1M554.3 1188.2h1.1M562.3 1200.8h1.1M587.8 1187.3h1.1M555.6 1205.3h1.1M554.6 1192.2h1.1M556.6 1187.7h1.1M552.3 1192.6h1.1M553.9 1187.6h1.1M556.1 1193.8h1.1M557.9 1180.8h1.1M603.1 1191h1.1M574 1195.4h1.1M564 1197.8h1.1M565.1 1191.8h1.1M561.5 1204.2h1.1M554.1 1181.7h1.1M566.6 1193.1h1.1M552.4 1191h1.1M595.1 1194.7h1.1M586.9 1192.8h1.1M569.9 1205.5h1.1M586.7 1194.8h1.1M557.6 1187.6h1.1M593 1214.1h1.1M567 1195.1h1.1M581.1 1193.5h1.1M553.6 1201.7h1.1M582.8 1190.2h1.1M565.9 1193h1.1M567.8 1201.5h1.1M552.2 1185.6h1.1M552.5 1191.3h1.1M553.8 1202.1h1.1M557.4 1208.8h1.1M559.3 1194.2h1.1M602.8 1194h1.1M554.1 1203.3h1.1M570 1183.3h1.1M556.7 1189.4h1.1M555.6 1188.6h1.1M573.4 1178.8h1.1M556.6 1172.2h1.1M555.3 1191.6h1.1M607.7 1201.9h1.1M552.4 1200h1.1M556.6 1204.6h1.1M566.7 1173.5h1.1M561.7 1193.6h1.1M558.3 1205.2h1.1M560.8 1188h1.1M568.8 1184.6h1.1M557.7 1197.5h1.1M567.3 1194.9h1.1M564.3 1199.8h1.1M567.4 1194.7h1.1M569.5 1204.5h1.1M591.4 1200.2h1.1M567 1196.8h1.1M561.4 1191.9h1.1M562.7 1200.3h1.1M578.4 1189.6h1.1M552.6 1202.3h1.1M566.8 1203.8h1.1M582 1202.2h1.1M604.3 1184.9h1.1M552.4 1198.3h1.1M567.2 1197.7h1.1M563.7 1201.6h1.1M558.3 1182.7h1.1M554.1 1190.1h1.1M568.4 1194.2h1.1M560.9 1205.7h1.1M579.4 1190.2h1.1M569.9 1201.8h1.1M559.4 1196h1.1M565.1 1209.9h1.1M556.3 1197.4h1.1M559.1 1182.3h1.1M560.7 1192.7h1.1M593.8 1196.8h1.1M557.4 1204.8h1.1M578.7 1200h1.1M573.8 1192.7h1.1M577 1185h1.1M561 1195.1h1.1M552.9 1193.9h1.1M583.5 1205.3h1.1M613.1 1202.1h1.1M559.3 1183.9h1.1M560.3 1176.7h1.1M555.2 1191.6h1.1M554.7 1197h1.1M585.8 1187.3h1.1M563.9 1190.8h1.1M591.9 1204.2h1.1M559.7 1200.6h1.1M557.7 1181.4h1.1M565.1 1197.6h1.1M583 1196.1h1.1M556.1 1193.3h1.1M553.4 1199.3h1.1M556.5 1199.5h1.1M561.4 1214.4h1.1M514.2 1208.3h1.1M528.8 1209.1h1.1M510.2 1212.4h1.1M523.2 1209.5h1.1M545.3 1207.1h1.1M522.7 1207.2h1.1M542.6 1205.5h1.1M548.5 1206.9h1.1M546.9 1207.5h1.1M519.9 1209.3h1.1M537.6 1208.5h1.1M519.2 1209.1h1.1M540.4 1204.6h1.1M533.6 1208.5h1.1M535.3 1206.7h1.1M513.7 1206.6h1.1M516.6 1211.7h1.1M547.8 1207h1.1M541.6 1208.4h1.1M517.6 1208.8h1.1M537 1210.6h1.1M504.4 1212.4h1.1M515.8 1212.1h1.1M521.6 1207.9h1.1M529.2 1207.7h1.1M535.6 1210.3h1.1M503.9 1211.4h1.1M522.6 1209.2h1.1M510.8 1213.8h1.1M550.6 1208.3h1.1M502.5 1212.1h1.1M516.6 1213.9h1.1M513.4 1207.1h1.1M506.7 1210.9h1.1M514.2 1209h1.1M510.2 1213.8h1.1M531.4 1211.5h1.1M529 1207.4h1.1M534.8 1208h1.1M551.8 1207.7h1.1M519.8 1210.6h1.1M544 1207.2h1.1M535.8 1209.7h1.1M540.5 1211.2h1.1M535.6 1207.9h1.1M502.6 1209.3h1.1M548.7 1205.8h1.1M531.7 1208h1.1M550.5 1205.1h1.1M548.5 1207.6h1.1M502.5 1213.2h1.1M513.9 1212.2h1.1M524.5 1210h1.1M544.1 1207.2h1.1M507.8 1208.8h1.1M531.1 1207.5h1.1M511.4 1208.7h1.1M520.7 1210.1h1.1M516 1209.8h1.1M506.5 1211.1h1.1M546 1207.5h1.1M534.7 1207.1h1.1M548 1208.4h1.1M509.2 1213h1.1M533.7 1205.9h1.1M529.1 1211.2h1.1M546.2 1205.7h1.1M509.8 1209.2h1.1M511.9 1209.8h1.1M520.9 1206.7h1.1M551.6 1206.4h1.1M510.9 1213.1h1.1M526.3 1205.6h1.1M514.5 1211.1h1.1M502.2 1212.9h1.1M543.5 1208.1h1.1M522.7 1210.5h1.1M519 1210.6h1.1M546.1 1205.4h1.1M533.6 1209.8h1.1M549.4 1206.7h1.1M508.6 1212.6h1.1M540.2 1207.7h1.1M507.2 1210.5h1.1M539.9 1207h1.1M523.4 1210.4h1.1M546.5 1208.5h1.1M518.8 1205.7h1.1M542.1 1204.2h1.1M518.1 1206.3h1.1M504.2 1210.3h1.1M531.9 1206.7h1.1M512 1210.9h1.1M539.8 1206.5h1.1M540.6 1209.8h1.1M519.6 1208.3h1.1M509.2 1209.3h1.1M542.2 1205.1h1.1M547.9 1205.5h1.1M548.8 1206.4h1.1M540.2 1206.1h1.1M510.5 1208.7h1.1M545.1 1203.6h1.1M520.6 1209.8h1.1M525.9 1207.7h1.1M513.3 1208.3h1.1M539.4 1206.6h1.1M550.5 1206.5h1.1M519.1 1213.9h1.1M510 1214.1h1.1M524.8 1207.1h1.1M509.9 1209.8h1.1M507.6 1206.9h1.1M524.6 1204.8h1.1M523.3 1205.2h1.1M500.6 1213.7h1.1M549.8 1205.6h1.1M551.6 1202.6h1.1M542.8 1205.3h1.1M515.8 1208.9h1.1M533.1 1206.5h1.1M548.1 1209.2h1.1M541.7 1202.9h1.1M550.6 1204.9h1.1M538.4 1207.8h1.1M516.8 1210.9h1.1M514.5 1205.6h1.1M512.2 1210.8h1.1M550.6 1203.2h1.1M520.6 1208.2h1.1M477.3 1181.3h1.1M483.8 1215.9h1.1M465.7 1190.5h1.1M480.4 1216.4h1.1M471 1180.3h1.1M464 1190.6h1.1M473.4 1179.9h1.1M482.9 1178.1h1.1M466.8 1181.6h1.1M472.2 1181.2h1.1M462.3 1201.2h1.1M465.4 1208h1.1M481.6 1176.6h1.1M465.3 1208.3h1.1M477.8 1179h1.1M462.2 1199.3h1.1M485.1 1217.1h1.1M462.3 1191h1.1M470 1183.6h1.1M485.1 1215.6h1.1M486.2 1177.9h1.1M464.6 1206.8h1.1M463.2 1199.5h1.1M470.5 1184.5h1.1M463.5 1192.2h1.1M463.1 1198.6h1.1M484.3 1176.8h1.1M477.4 1214.2h1.1M468.3 1185h1.1M485.7 1219h1.1M470 1182h1.1M468.9 1185.7h1.1M461.1 1202.9h1.1M463.7 1202.1h1.1M464.2 1192.9h1.1M479.1 1177.6h1.1M476.5 1212.5h1.1M463.8 1203.8h1.1M461.4 1199.6h1.1M463.6 1206.1h1.1M470.6 1210.6h1.1M463.1 1197.8h1.1M465.5 1206.5h1.1M461.1 1191.1h1.1M465.8 1200.5h1.1M473.8 1179.2h1.1M474.5 1179.7h1.1M460 1194h1.1M478.2 1180.5h1.1M460.2 1196.4h1.1M449 1086h1.1M440.5 1166h1.1M422 1191h1.1M419 1212h1.1M437 1219h1.1M456 1222h1.1M572 1099h1.1M579.5 1133h1.1M591 1156h1.1M598.5 1185h1.1M609 1188h1.1M616 1199h1.1M617.5 1200h1.1" stroke="#22DD22" stroke-width="1.1" fill="none" opacity="0.92"/>
</g>
<path d="M411.2 993.4H677.4V1258.4" fill="none" stroke="#5a5a5a" stroke-width="1.3"/><path d="M411.2 993.4V1258.4H677.4" fill="none" stroke="#111" stroke-width="1.45" stroke-linecap="square"/><path d="M411.2 1017.5h-7.6M411.2 1080.4h-7.6M411.2 1153.3h-7.6M411.2 1241h-7.6" stroke="#111" stroke-width="1.7" fill="none"/><path d="M411.2 1157.5h-3.6M411.2 1161.7h-3.6M411.2 1165.9h-3.6M411.2 1170.1h-3.6M411.2 1174.3h-3.6M411.2 1178.5h-3.6M411.2 1182.7h-3.6M411.2 1186.9h-3.6M411.2 1207.7h-3.6M411.2 1212.9h-3.6M411.2 1217h-3.6M411.2 1222.5h-3.6M411.2 1226.4h-3.6M411.2 1230.4h-3.6M411.2 1234.7h-3.6M411.2 1238.3h-3.6M411.2 999h-3.6M411.2 1131.4h-3.6M411.2 1118.5h-3.6M411.2 1109.4h-3.6M411.2 1102.3h-3.6M411.2 1096.6h-3.6M411.2 1091.7h-3.6M411.2 1087.5h-3.6M411.2 1083.7h-3.6M411.2 1061.5h-3.6M411.2 1050.4h-3.6M411.2 1042.5h-3.6M411.2 1036.4h-3.6M411.2 1031.5h-3.6M411.2 1027.2h-3.6M411.2 1023.6h-3.6M411.2 1020.4h-3.6" stroke="#111" stroke-width="1.25" fill="none"/><rect x="406.6" y="1193.6" width="4.6" height="7.3" fill="#111"/><path d="M411.2 1197.3h-7.2M411.2 1194.3h-7.2M411.2 1200.3h-7.2" stroke="#111" stroke-width="1.4" fill="none"/><path d="M427 1258.4v7.6M514.5 1258.4v7.6M586.8 1258.4v7.6M650.8 1258.4v7.6" stroke="#111" stroke-width="1.7" fill="none"/><path d="M430.3 1258.4v3.6M433.7 1258.4v3.6M437.9 1258.4v3.6M442.2 1258.4v3.6M446.4 1258.4v3.6M451.6 1258.4v3.6M455.8 1258.4v3.6M461 1258.4v3.6M481 1258.4v3.6M485.5 1258.4v3.6M490 1258.4v3.6M494.5 1258.4v3.6M499 1258.4v3.6M503 1258.4v3.6M507 1258.4v3.6M511 1258.4v3.6M669.5 1258.4v3.6M536.3 1258.4v3.6M549 1258.4v3.6M558 1258.4v3.6M565 1258.4v3.6M570.8 1258.4v3.6M575.6 1258.4v3.6M579.8 1258.4v3.6M583.5 1258.4v3.6M606.1 1258.4v3.6M617.3 1258.4v3.6M625.3 1258.4v3.6M631.5 1258.4v3.6M636.6 1258.4v3.6M640.9 1258.4v3.6M644.6 1258.4v3.6M647.9 1258.4v3.6" stroke="#111" stroke-width="1.25" fill="none"/><rect x="467.6" y="1258.4" width="7.2" height="4.6" fill="#111"/><path d="M471.2 1258.4v7.2M468.3 1258.4v7.2M474.1 1258.4v7.2" stroke="#111" stroke-width="1.4" fill="none"/>
<path d="M500.9 993.4L500.9 1258.4" stroke="#000" stroke-width="1.9" stroke-linecap="butt" fill="none"/>
<path d="M411.2 1177.5L677.4 1177.5" stroke="#000" stroke-width="1.9" stroke-linecap="butt" fill="none"/>
<text x="435" y="1030.8" font-size="29.0" text-anchor="start" font-weight="normal" font-style="normal" fill="#000" stroke="#000" stroke-width="0.5">15.4</text>
<text x="613" y="1030.8" font-size="29.0" text-anchor="start" font-weight="normal" font-style="normal" fill="#000" stroke="#000" stroke-width="0.5">3.1</text>
<text x="435" y="1247.2" font-size="29.0" text-anchor="start" font-weight="normal" font-style="normal" fill="#000" stroke="#000" stroke-width="0.5">61.1</text>
<text x="612.3" y="1247.2" font-size="29.0" text-anchor="start" font-weight="normal" font-style="normal" fill="#000" stroke="#000" stroke-width="0.5">20.5</text>
<text x="378" y="961.8" font-size="29.0" text-anchor="start" fill="#000" stroke="#000" stroke-width="0.5"><tspan>CD4</tspan><tspan font-size="19.7" dy="-6.5">+</tspan><tspan dy="6.5"> + CD8</tspan><tspan font-size="19.7" dy="-6.5">+</tspan><tspan dy="6.5"> T cell co-transfer</tspan></text>
<rect x="931.9" y="1205.6" width="42.5" height="57" fill="#FBE5CB" stroke="#F5B66A" stroke-width="2.9"/>
<rect x="1000.2" y="1153.3" width="42.5" height="109.3" fill="#CDFACA" stroke="#62EE62" stroke-width="2.9"/>
<path d="M907.7 1022.4L907.7 1263.9" stroke="#000" stroke-width="2.7" stroke-linecap="butt" fill="none"/><path d="M897.4 1262.6L1066.8 1262.6" stroke="#000" stroke-width="2.7" stroke-linecap="butt" fill="none"/><path d="M897.5 1262.6L907.7 1262.6" stroke="#000" stroke-width="2.7" stroke-linecap="butt" fill="none"/><text x="891.1" y="1271.7" font-size="29.0" text-anchor="end" font-weight="normal" font-style="normal" fill="#000" stroke="#000" stroke-width="0.5">0</text><path d="M897.5 1202.9L907.7 1202.9" stroke="#000" stroke-width="2.7" stroke-linecap="butt" fill="none"/><text x="891.1" y="1212.1" font-size="29.0" text-anchor="end" font-weight="normal" font-style="normal" fill="#000" stroke="#000" stroke-width="0.5">10</text><path d="M897.5 1143.2L907.7 1143.2" stroke="#000" stroke-width="2.7" stroke-linecap="butt" fill="none"/><text x="891.1" y="1154.3" font-size="29.0" text-anchor="end" font-weight="normal" font-style="normal" fill="#000" stroke="#000" stroke-width="0.5">20</text><path d="M897.5 1083.4L907.7 1083.4" stroke="#000" stroke-width="2.7" stroke-linecap="butt" fill="none"/><text x="891.1" y="1096.6" font-size="29.0" text-anchor="end" font-weight="normal" font-style="normal" fill="#000" stroke="#000" stroke-width="0.5">30</text><path d="M897.5 1023.7L907.7 1023.7" stroke="#000" stroke-width="2.7" stroke-linecap="butt" fill="none"/><text x="891.1" y="1037" font-size="29.0" text-anchor="end" font-weight="normal" font-style="normal" fill="#000" stroke="#000" stroke-width="0.5">40</text><path d="M952.8 1262.6L952.8 1272.6" stroke="#000" stroke-width="2.7" stroke-linecap="butt" fill="none"/><path d="M1021.4 1262.6L1021.4 1272.6" stroke="#000" stroke-width="2.7" stroke-linecap="butt" fill="none"/>
<path d="M953 1176.5V1230.9M940.8 1176.5H965.2M940.8 1230.9H965.2" stroke="#F5B66A" stroke-width="1.8" fill="none"/>
<path d="M1021 1144.3V1162M1008.5 1144.3H1033.5M1008.5 1162H1033.5" stroke="#62EE62" stroke-width="1.8" fill="none"/>
<circle cx="939.6" cy="1262.6" r="9.2" fill="#fff" stroke="#F0911F" stroke-width="2.6"/>
<circle cx="966.1" cy="1262.6" r="9.2" fill="#fff" stroke="#F0911F" stroke-width="2.6"/>
<circle cx="952.8" cy="1240.4" r="9.2" fill="#fff" stroke="#F0911F" stroke-width="2.6"/>
<circle cx="952.8" cy="1195.9" r="9.2" fill="#fff" stroke="#F0911F" stroke-width="2.6"/>
<circle cx="952.8" cy="1167.3" r="9.2" fill="#fff" stroke="#F0911F" stroke-width="2.6"/>
<circle cx="952.8" cy="1091.5" r="9.2" fill="#fff" stroke="#F0911F" stroke-width="2.6"/>
<circle cx="1035.2" cy="1168" r="9.2" fill="#fff" stroke="#1FDD1F" stroke-width="2.6"/>
<circle cx="1014.7" cy="1148.1" r="9.2" fill="#fff" stroke="#1FDD1F" stroke-width="2.6"/>
<circle cx="1007.7" cy="1163.9" r="9.2" fill="#fff" stroke="#1FDD1F" stroke-width="2.6"/>
<circle cx="1028.2" cy="1159.8" r="9.2" fill="#fff" stroke="#1FDD1F" stroke-width="2.6"/>
<circle cx="1021.4" cy="1112.6" r="9.2" fill="#fff" stroke="#1FDD1F" stroke-width="2.6"/>
<path d="M952.8 1078.5V1063.8H1022V1099" stroke="#000" stroke-width="2.7" fill="none" stroke-linejoin="miter"/>
<text x="936.3" y="1051.5" font-size="24.9" text-anchor="start" fill="#000" stroke="#000" stroke-width="0.5"><tspan font-style="italic">P</tspan><tspan> = 0.0989</tspan></text>
<text x="908.5" y="981.2" font-size="29.0" text-anchor="start" fill="#000" stroke="#000" stroke-width="0.5"><tspan>IFN</tspan><tspan font-weight="bold">γ</tspan><tspan font-size="19.7" dy="-6.5">+</tspan><tspan dy="6.5"> cells</tspan></text>
<text x="836.1" y="1264.6" font-size="29.0" text-anchor="start" fill="#000" stroke="#000" stroke-width="0.5" transform="rotate(-90 836.1 1264.6)"><tspan>% of CD8</tspan><tspan font-size="19.7" dy="-6.5">+</tspan><tspan dy="6.5"> T cells</tspan></text>
<rect x="1240.7" y="1210.8" width="42" height="51.8" fill="#FBE5CB" stroke="#F5B66A" stroke-width="2.9"/>
<rect x="1309.2" y="1121.2" width="42" height="141.4" fill="#CDFACA" stroke="#62EE62" stroke-width="2.9"/>
<path d="M1216 1022.4L1216 1263.9" stroke="#000" stroke-width="2.7" stroke-linecap="butt" fill="none"/><path d="M1206 1262.6L1375.4 1262.6" stroke="#000" stroke-width="2.7" stroke-linecap="butt" fill="none"/><path d="M1205.8 1262.6L1216 1262.6" stroke="#000" stroke-width="2.7" stroke-linecap="butt" fill="none"/><text x="1199.6" y="1271.5" font-size="29.0" text-anchor="end" font-weight="normal" font-style="normal" fill="#000" stroke="#000" stroke-width="0.5">0</text><path d="M1205.8 1214.8L1216 1214.8" stroke="#000" stroke-width="2.7" stroke-linecap="butt" fill="none"/><text x="1199.6" y="1223.8" font-size="29.0" text-anchor="end" font-weight="normal" font-style="normal" fill="#000" stroke="#000" stroke-width="0.5">10</text><path d="M1205.8 1167L1216 1167" stroke="#000" stroke-width="2.7" stroke-linecap="butt" fill="none"/><text x="1199.6" y="1176.6" font-size="29.0" text-anchor="end" font-weight="normal" font-style="normal" fill="#000" stroke="#000" stroke-width="0.5">20</text><path d="M1205.8 1119.3L1216 1119.3" stroke="#000" stroke-width="2.7" stroke-linecap="butt" fill="none"/><text x="1199.6" y="1129.6" font-size="29.0" text-anchor="end" font-weight="normal" font-style="normal" fill="#000" stroke="#000" stroke-width="0.5">30</text><path d="M1205.8 1071.5L1216 1071.5" stroke="#000" stroke-width="2.7" stroke-linecap="butt" fill="none"/><text x="1199.6" y="1083" font-size="29.0" text-anchor="end" font-weight="normal" font-style="normal" fill="#000" stroke="#000" stroke-width="0.5">40</text><path d="M1205.8 1023.7L1216 1023.7" stroke="#000" stroke-width="2.7" stroke-linecap="butt" fill="none"/><text x="1199.6" y="1035.6" font-size="29.0" text-anchor="end" font-weight="normal" font-style="normal" fill="#000" stroke="#000" stroke-width="0.5">50</text><path d="M1261.3 1262.6L1261.3 1272.6" stroke="#000" stroke-width="2.7" stroke-linecap="butt" fill="none"/><path d="M1329.9 1262.6L1329.9 1272.6" stroke="#000" stroke-width="2.7" stroke-linecap="butt" fill="none"/>
<path d="M1261.3 1187.2V1227.5M1249.3 1187.2H1273.3M1249.3 1227.5H1273.3" stroke="#F5B66A" stroke-width="1.8" fill="none"/>
<path d="M1329.9 1104.4V1131M1318.4 1104.4H1341.4M1318.4 1131H1341.4" stroke="#62EE62" stroke-width="1.8" fill="none"/>
<circle cx="1248.4" cy="1262.6" r="9.2" fill="#fff" stroke="#F0911F" stroke-width="2.6"/>
<circle cx="1274.9" cy="1262.6" r="9.2" fill="#fff" stroke="#F0911F" stroke-width="2.6"/>
<circle cx="1248.4" cy="1209.8" r="9.2" fill="#fff" stroke="#F0911F" stroke-width="2.6"/>
<circle cx="1274.9" cy="1194.1" r="9.2" fill="#fff" stroke="#F0911F" stroke-width="2.6"/>
<circle cx="1248.4" cy="1178.2" r="9.2" fill="#fff" stroke="#F0911F" stroke-width="2.6"/>
<circle cx="1261.3" cy="1137.2" r="9.2" fill="#fff" stroke="#F0911F" stroke-width="2.6"/>
<circle cx="1329.9" cy="1169.7" r="9.2" fill="#fff" stroke="#1FDD1F" stroke-width="2.6"/>
<circle cx="1343.2" cy="1133.6" r="9.2" fill="#fff" stroke="#1FDD1F" stroke-width="2.6"/>
<circle cx="1317" cy="1125.2" r="9.2" fill="#fff" stroke="#1FDD1F" stroke-width="2.6"/>
<circle cx="1343.2" cy="1111.4" r="9.2" fill="#fff" stroke="#1FDD1F" stroke-width="2.6"/>
<circle cx="1343.2" cy="1089.4" r="9.2" fill="#fff" stroke="#1FDD1F" stroke-width="2.6"/>
<circle cx="1317" cy="1080.4" r="9.2" fill="#fff" stroke="#1FDD1F" stroke-width="2.6"/>
<path d="M1261.3 1123V1051.8H1330.5V1067" stroke="#000" stroke-width="2.7" fill="none" stroke-linejoin="miter"/>
<text x="1245.2" y="1041.3" font-size="24.9" text-anchor="start" fill="#000" stroke="#000" stroke-width="0.5"><tspan font-style="italic">P</tspan><tspan> = 0.0040</tspan></text>
<text x="1187.3" y="981.2" font-size="29.0" text-anchor="start" fill="#000" stroke="#000" stroke-width="0.5"><tspan>Granzyme B</tspan><tspan font-size="19.7" dy="-6.5">+</tspan><tspan dy="6.5"> cells</tspan></text>
<text x="1144.3" y="1264.6" font-size="29.0" text-anchor="start" fill="#000" stroke="#000" stroke-width="0.5" transform="rotate(-90 1144.3 1264.6)"><tspan>% of CD8</tspan><tspan font-size="19.7" dy="-6.5">+</tspan><tspan dy="6.5"> T cells</tspan></text>
<rect x="1618.2" y="1198.9" width="41.9" height="63.7" fill="#CDFACA" stroke="#62EE62" stroke-width="2.9"/>
<path d="M1525 1022.4L1525 1263.9" stroke="#000" stroke-width="2.7" stroke-linecap="butt" fill="none"/><path d="M1514.8 1262.6L1684.2 1262.6" stroke="#000" stroke-width="2.7" stroke-linecap="butt" fill="none"/><path d="M1514.8 1262.6L1525 1262.6" stroke="#000" stroke-width="2.7" stroke-linecap="butt" fill="none"/><text x="1508.3" y="1271.5" font-size="29.0" text-anchor="end" font-weight="normal" font-style="normal" fill="#000" stroke="#000" stroke-width="0.5">0</text><path d="M1514.8 1143.2L1525 1143.2" stroke="#000" stroke-width="2.7" stroke-linecap="butt" fill="none"/><text x="1508.3" y="1153.6" font-size="29.0" text-anchor="end" font-weight="normal" font-style="normal" fill="#000" stroke="#000" stroke-width="0.5">1</text><path d="M1514.8 1023.7L1525 1023.7" stroke="#000" stroke-width="2.7" stroke-linecap="butt" fill="none"/><text x="1508.3" y="1036" font-size="29.0" text-anchor="end" font-weight="normal" font-style="normal" fill="#000" stroke="#000" stroke-width="0.5">2</text><path d="M1570.2 1262.6L1570.2 1272.6" stroke="#000" stroke-width="2.7" stroke-linecap="butt" fill="none"/><path d="M1638.8 1262.6L1638.8 1272.6" stroke="#000" stroke-width="2.7" stroke-linecap="butt" fill="none"/>
<path d="M1638.8 1181.2V1214M1627 1181.2H1650.5M1627 1214H1650.5" stroke="#62EE62" stroke-width="1.8" fill="none"/>
<circle cx="1583.4" cy="1262.6" r="9.2" fill="#fff" stroke="#F0911F" stroke-width="2.6"/>
<circle cx="1557.2" cy="1262.6" r="9.2" fill="#fff" stroke="#F0911F" stroke-width="2.6"/>
<circle cx="1562.5" cy="1262.6" r="9.2" fill="#fff" stroke="#F0911F" stroke-width="2.6"/>
<circle cx="1567.8" cy="1262.6" r="9.2" fill="#fff" stroke="#F0911F" stroke-width="2.6"/>
<circle cx="1572.9" cy="1262.6" r="9.2" fill="#fff" stroke="#F0911F" stroke-width="2.6"/>
<circle cx="1572.9" cy="1262.6" r="9.2" fill="#fff" stroke="#F0911F" stroke-width="2.6"/>
<circle cx="1625.6" cy="1238.3" r="9.2" fill="#fff" stroke="#1FDD1F" stroke-width="2.6"/>
<circle cx="1638.8" cy="1226.3" r="9.2" fill="#fff" stroke="#1FDD1F" stroke-width="2.6"/>
<circle cx="1652.4" cy="1228.4" r="9.2" fill="#fff" stroke="#1FDD1F" stroke-width="2.6"/>
<circle cx="1625.6" cy="1170.3" r="9.2" fill="#fff" stroke="#1FDD1F" stroke-width="2.6"/>
<circle cx="1638.8" cy="1183.3" r="9.2" fill="#fff" stroke="#1FDD1F" stroke-width="2.6"/>
<circle cx="1638.8" cy="1136.6" r="9.2" fill="#fff" stroke="#1FDD1F" stroke-width="2.6"/>
<path d="M1570.3 1249.7V1108.7H1639.4V1122.5" stroke="#000" stroke-width="2.7" fill="none" stroke-linejoin="miter"/>
<text x="1542" y="1095.4" font-size="24.9" text-anchor="start" fill="#000" stroke="#000" stroke-width="0.5"><tspan font-style="italic">P</tspan><tspan> = 0.0026</tspan></text>
<text x="1522.2" y="981.2" font-size="29.0" text-anchor="start" fill="#000" stroke="#000" stroke-width="0.5"><tspan>IFN</tspan><tspan font-weight="bold">γ</tspan><tspan font-size="19.7" dy="-6.5">+</tspan><tspan dy="6.5"> cells</tspan></text>
<text x="1476.4" y="1269.4" font-size="29.25" text-anchor="start" fill="#000" stroke="#000" stroke-width="0.5" transform="rotate(-90 1476.4 1269.4)"><tspan>Cell numbers (X 10</tspan><tspan font-size="16.4" dy="-7.2">5</tspan><tspan dy="7.2">)</tspan></text>
<rect x="1926.8" y="1192" width="41.9" height="70.6" fill="#CDFACA" stroke="#62EE62" stroke-width="2.9"/>
<path d="M1833.8 1022.4L1833.8 1263.9" stroke="#000" stroke-width="2.7" stroke-linecap="butt" fill="none"/><path d="M1824 1262.6L1992.8 1262.6" stroke="#000" stroke-width="2.7" stroke-linecap="butt" fill="none"/><path d="M1823.6 1262.6L1833.8 1262.6" stroke="#000" stroke-width="2.7" stroke-linecap="butt" fill="none"/><text x="1817.5" y="1271.3" font-size="29.0" text-anchor="end" font-weight="normal" font-style="normal" fill="#000" stroke="#000" stroke-width="0.5">0</text><path d="M1823.6 1183L1833.8 1183" stroke="#000" stroke-width="2.7" stroke-linecap="butt" fill="none"/><text x="1817.5" y="1191.5" font-size="29.0" text-anchor="end" font-weight="normal" font-style="normal" fill="#000" stroke="#000" stroke-width="0.5">1</text><path d="M1823.6 1103.3L1833.8 1103.3" stroke="#000" stroke-width="2.7" stroke-linecap="butt" fill="none"/><text x="1817.5" y="1112.8" font-size="29.0" text-anchor="end" font-weight="normal" font-style="normal" fill="#000" stroke="#000" stroke-width="0.5">2</text><path d="M1823.6 1023.7L1833.8 1023.7" stroke="#000" stroke-width="2.7" stroke-linecap="butt" fill="none"/><text x="1817.5" y="1035.8" font-size="29.0" text-anchor="end" font-weight="normal" font-style="normal" fill="#000" stroke="#000" stroke-width="0.5">3</text><path d="M1879 1262.6L1879 1272.6" stroke="#000" stroke-width="2.7" stroke-linecap="butt" fill="none"/><path d="M1947.6 1262.6L1947.6 1272.6" stroke="#000" stroke-width="2.7" stroke-linecap="butt" fill="none"/>
<path d="M1947.6 1166.7V1216M1935.1 1166.7H1960.1M1935.1 1216H1960.1" stroke="#62EE62" stroke-width="1.8" fill="none"/>
<circle cx="1892.5" cy="1262.6" r="9.2" fill="#fff" stroke="#F0911F" stroke-width="2.6"/>
<circle cx="1866" cy="1262.6" r="9.2" fill="#fff" stroke="#F0911F" stroke-width="2.6"/>
<circle cx="1870.9" cy="1262.6" r="9.2" fill="#fff" stroke="#F0911F" stroke-width="2.6"/>
<circle cx="1876.2" cy="1262.6" r="9.2" fill="#fff" stroke="#F0911F" stroke-width="2.6"/>
<circle cx="1881.8" cy="1262.6" r="9.2" fill="#fff" stroke="#F0911F" stroke-width="2.6"/>
<circle cx="1881.8" cy="1262.6" r="9.2" fill="#fff" stroke="#F0911F" stroke-width="2.6"/>
<circle cx="1934.7" cy="1236.5" r="9.2" fill="#fff" stroke="#1FDD1F" stroke-width="2.6"/>
<circle cx="1961.2" cy="1222.4" r="9.2" fill="#fff" stroke="#1FDD1F" stroke-width="2.6"/>
<circle cx="1948.2" cy="1208.8" r="9.2" fill="#fff" stroke="#1FDD1F" stroke-width="2.6"/>
<circle cx="1934.7" cy="1206.7" r="9.2" fill="#fff" stroke="#1FDD1F" stroke-width="2.6"/>
<circle cx="1961.2" cy="1193.8" r="9.2" fill="#fff" stroke="#1FDD1F" stroke-width="2.6"/>
<circle cx="1947.6" cy="1076.5" r="9.2" fill="#fff" stroke="#1FDD1F" stroke-width="2.6"/>
<path d="M1879.3 1248.7V1048.8H1947.8V1063" stroke="#000" stroke-width="2.7" fill="none" stroke-linejoin="miter"/>
<text x="1858.4" y="1038.9" font-size="24.9" text-anchor="start" fill="#000" stroke="#000" stroke-width="0.5"><tspan font-style="italic">P</tspan><tspan> = 0.0120</tspan></text>
<text x="1799.6" y="981.2" font-size="29.0" text-anchor="start" fill="#000" stroke="#000" stroke-width="0.5"><tspan>Granzyme B</tspan><tspan font-size="19.7" dy="-6.5">+</tspan><tspan dy="6.5"> cells</tspan></text>
<text x="1779.7" y="1269.4" font-size="29.25" text-anchor="start" fill="#000" stroke="#000" stroke-width="0.5" transform="rotate(-90 1779.7 1269.4)"><tspan>Cell numbers (X 10</tspan><tspan font-size="16.4" dy="-7.2">5</tspan><tspan dy="7.2">)</tspan></text>
</svg>
</body></html>
